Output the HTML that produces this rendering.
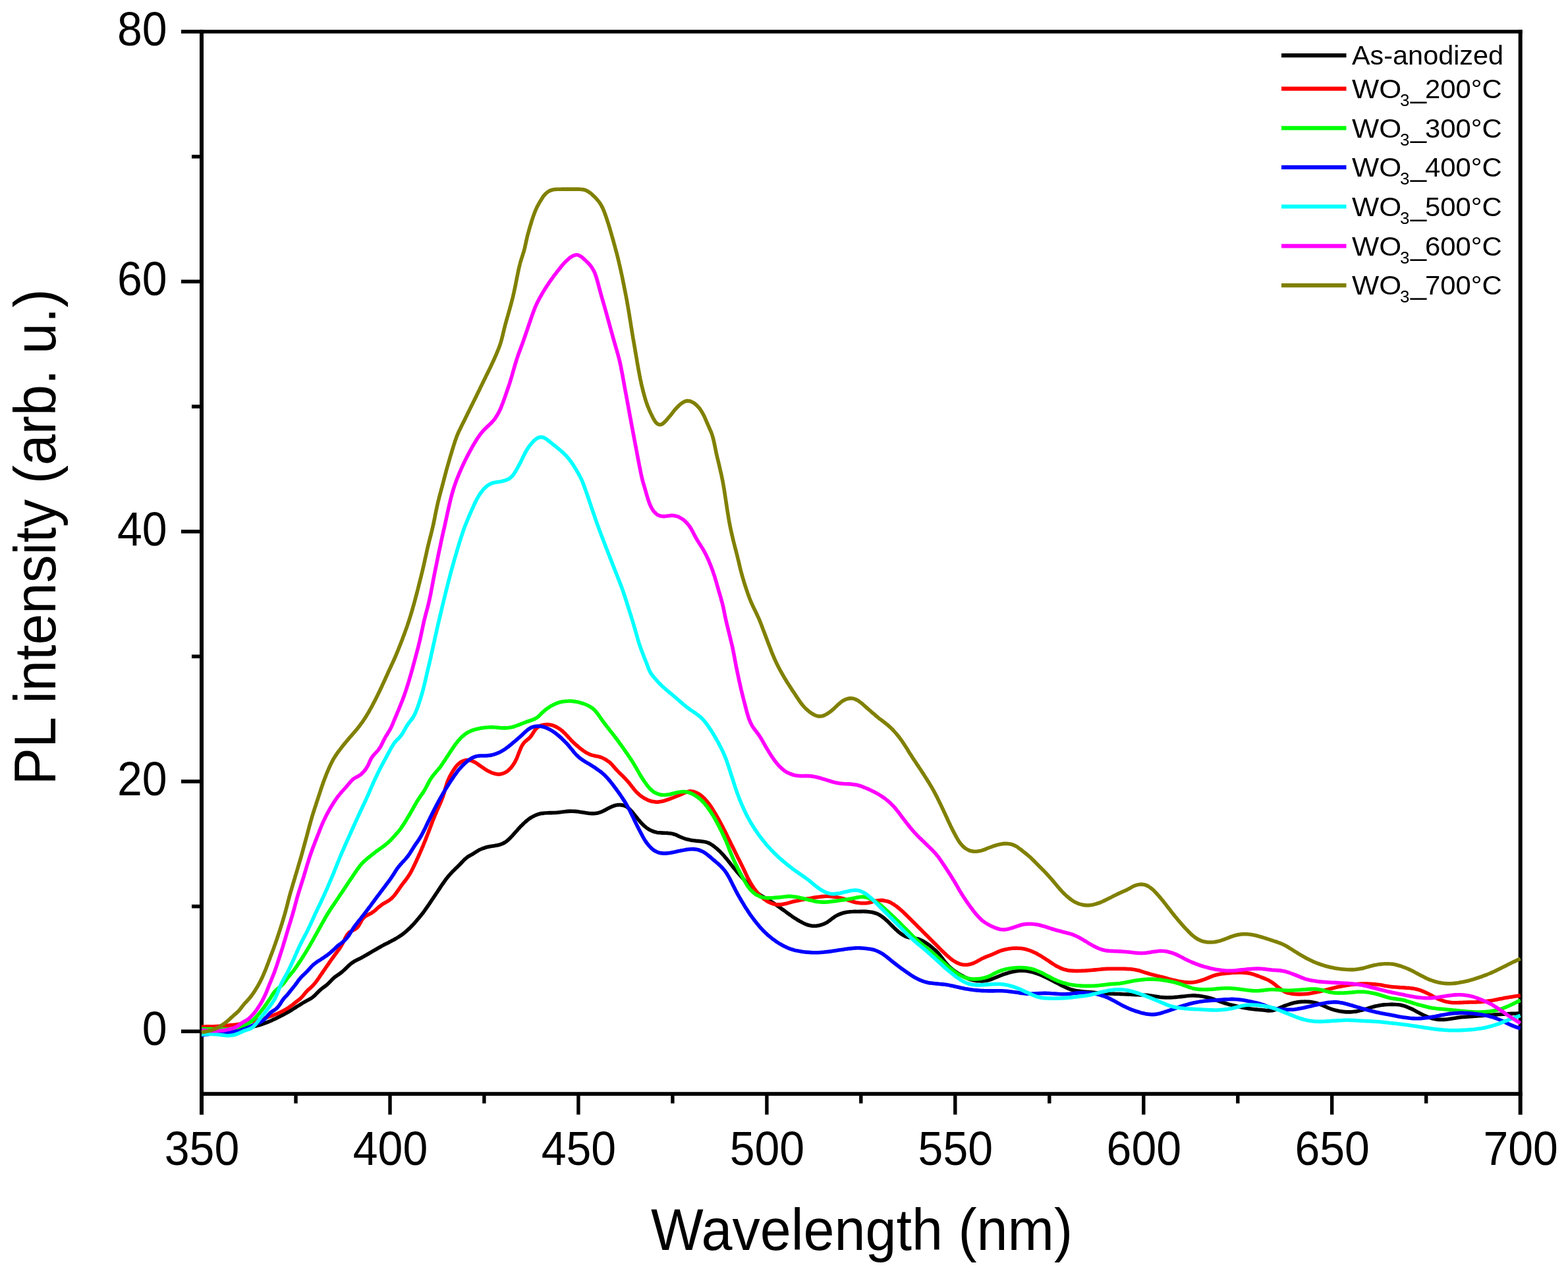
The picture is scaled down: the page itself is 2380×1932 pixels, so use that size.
<!DOCTYPE html>
<html><head><meta charset="utf-8"><style>html,body{margin:0;padding:0;background:#fff;width:2380px;height:1932px;overflow:hidden}svg{display:block}</style></head><body>
<svg xmlns="http://www.w3.org/2000/svg" width="2380" height="1932" viewBox="0 0 2380 1932">
<rect width="2380" height="1932" fill="#fff"/>
<g stroke="#000" fill="none">
<line x1="303.0" y1="48.019999999999754" x2="2310.7" y2="48.019999999999754" stroke-width="5.6"/>
<line x1="303.0" y1="1660.1299999999999" x2="2310.7" y2="1660.1299999999999" stroke-width="5.6"/>
<line x1="306.0" y1="45.21999999999976" x2="306.0" y2="1691.6299999999999" stroke-width="6"/>
<line x1="2307.7" y1="45.21999999999976" x2="2307.7" y2="1691.6299999999999" stroke-width="6"/>
<line x1="275" y1="1565.3" x2="306.0" y2="1565.3" stroke-width="5.6"/>
<line x1="291" y1="1375.6" x2="306.0" y2="1375.6" stroke-width="5.6"/>
<line x1="275" y1="1186.0" x2="306.0" y2="1186.0" stroke-width="5.6"/>
<line x1="291" y1="996.3" x2="306.0" y2="996.3" stroke-width="5.6"/>
<line x1="275" y1="806.7" x2="306.0" y2="806.7" stroke-width="5.6"/>
<line x1="291" y1="617.0" x2="306.0" y2="617.0" stroke-width="5.6"/>
<line x1="275" y1="427.3" x2="306.0" y2="427.3" stroke-width="5.6"/>
<line x1="291" y1="237.7" x2="306.0" y2="237.7" stroke-width="5.6"/>
<line x1="275" y1="48.0" x2="306.0" y2="48.0" stroke-width="5.6"/>
<line x1="449.0" y1="1660.1299999999999" x2="449.0" y2="1674.6" stroke-width="5.4"/>
<line x1="592.0" y1="1660.1299999999999" x2="592.0" y2="1691.6" stroke-width="5.4"/>
<line x1="734.9" y1="1660.1299999999999" x2="734.9" y2="1674.6" stroke-width="5.4"/>
<line x1="877.9" y1="1660.1299999999999" x2="877.9" y2="1691.6" stroke-width="5.4"/>
<line x1="1020.9" y1="1660.1299999999999" x2="1020.9" y2="1674.6" stroke-width="5.4"/>
<line x1="1163.9" y1="1660.1299999999999" x2="1163.9" y2="1691.6" stroke-width="5.4"/>
<line x1="1306.8" y1="1660.1299999999999" x2="1306.8" y2="1674.6" stroke-width="5.4"/>
<line x1="1449.8" y1="1660.1299999999999" x2="1449.8" y2="1691.6" stroke-width="5.4"/>
<line x1="1592.8" y1="1660.1299999999999" x2="1592.8" y2="1674.6" stroke-width="5.4"/>
<line x1="1735.8" y1="1660.1299999999999" x2="1735.8" y2="1691.6" stroke-width="5.4"/>
<line x1="1878.8" y1="1660.1299999999999" x2="1878.8" y2="1674.6" stroke-width="5.4"/>
<line x1="2021.7" y1="1660.1299999999999" x2="2021.7" y2="1691.6" stroke-width="5.4"/>
<line x1="2164.7" y1="1660.1299999999999" x2="2164.7" y2="1674.6" stroke-width="5.4"/>
</g>
<g fill="none" stroke-width="5.6" stroke-linejoin="round" stroke-linecap="butt">
<path d="M306.0,1565.5 C306.7,1565.5 308.7,1565.4 310.0,1565.4 C311.3,1565.3 312.7,1565.3 314.0,1565.2 C315.3,1565.2 316.7,1565.1 318.0,1565.1 C319.3,1565.0 320.7,1565.0 322.0,1564.9 C323.3,1564.8 324.7,1564.8 326.0,1564.7 C327.3,1564.6 328.7,1564.5 330.0,1564.5 C331.3,1564.4 332.7,1564.3 334.0,1564.2 C335.3,1564.1 336.6,1563.9 338.0,1563.8 C339.3,1563.7 340.6,1563.6 342.0,1563.4 C343.3,1563.3 344.6,1563.2 345.9,1563.0 C347.3,1562.9 348.6,1562.7 349.9,1562.6 C351.2,1562.4 352.6,1562.3 353.9,1562.1 C355.2,1561.9 356.5,1561.8 357.9,1561.6 C359.2,1561.4 360.5,1561.2 361.8,1561.0 C363.1,1560.8 364.5,1560.6 365.8,1560.4 C367.1,1560.2 368.4,1560.0 369.8,1559.9 C371.1,1559.7 372.4,1559.6 373.7,1559.4 C375.0,1559.3 376.4,1559.2 377.7,1559.0 C379.0,1558.8 380.3,1558.7 381.7,1558.5 C383.0,1558.3 384.3,1558.0 385.6,1557.7 C386.9,1557.5 388.2,1557.2 389.5,1556.8 C390.8,1556.5 392.1,1556.2 393.3,1555.8 C394.6,1555.4 395.9,1555.0 397.2,1554.6 C398.4,1554.2 399.7,1553.7 400.9,1553.3 C402.2,1552.8 403.4,1552.3 404.7,1551.9 C405.9,1551.4 407.2,1550.9 408.4,1550.4 C409.6,1549.9 410.8,1549.3 412.1,1548.8 C413.3,1548.3 414.5,1547.7 415.7,1547.1 C416.9,1546.6 418.1,1546.0 419.3,1545.4 C420.5,1544.8 421.7,1544.2 422.9,1543.6 C424.1,1543.0 425.3,1542.4 426.5,1541.8 C427.6,1541.2 428.8,1540.5 430.0,1539.9 C431.2,1539.3 432.3,1538.7 433.5,1538.0 C434.7,1537.4 435.9,1536.8 437.0,1536.1 C438.2,1535.5 439.4,1534.8 440.5,1534.1 C441.7,1533.5 442.8,1532.7 443.9,1532.0 C445.0,1531.3 446.1,1530.6 447.3,1529.9 C448.4,1529.2 449.5,1528.4 450.7,1527.7 C451.8,1527.0 452.9,1526.3 454.1,1525.6 C455.2,1524.9 456.3,1524.2 457.5,1523.5 C458.6,1522.8 459.7,1522.1 460.9,1521.4 C462.0,1520.8 463.2,1520.1 464.4,1519.5 C465.5,1518.8 466.7,1518.2 467.9,1517.6 C469.0,1517.0 470.2,1516.3 471.3,1515.6 C472.4,1514.9 473.5,1514.2 474.6,1513.4 C475.6,1512.6 476.6,1511.7 477.6,1510.8 C478.6,1509.9 479.5,1508.9 480.4,1508.0 C481.4,1507.1 482.3,1506.1 483.3,1505.2 C484.2,1504.2 485.1,1503.3 486.1,1502.4 C487.1,1501.5 488.1,1500.6 489.2,1499.8 C490.2,1499.0 491.3,1498.3 492.4,1497.5 C493.4,1496.7 494.5,1496.0 495.5,1495.2 C496.6,1494.4 497.6,1493.5 498.5,1492.6 C499.4,1491.7 500.3,1490.7 501.2,1489.7 C502.1,1488.8 503.0,1487.8 503.9,1486.8 C504.8,1485.9 505.8,1485.0 506.8,1484.1 C507.8,1483.2 508.8,1482.4 509.9,1481.7 C511.0,1480.9 512.1,1480.1 513.2,1479.4 C514.3,1478.6 515.4,1477.8 516.4,1477.1 C517.5,1476.3 518.6,1475.5 519.6,1474.6 C520.6,1473.8 521.6,1472.9 522.6,1472.0 C523.6,1471.1 524.5,1470.1 525.5,1469.2 C526.4,1468.3 527.4,1467.3 528.3,1466.4 C529.3,1465.5 530.3,1464.6 531.3,1463.7 C532.3,1462.9 533.3,1462.0 534.4,1461.3 C535.5,1460.5 536.6,1459.8 537.7,1459.1 C538.9,1458.5 540.1,1457.9 541.2,1457.3 C542.4,1456.7 543.6,1456.1 544.8,1455.5 C546.0,1454.9 547.2,1454.3 548.4,1453.7 C549.6,1453.0 550.7,1452.4 551.9,1451.7 C553.1,1451.1 554.2,1450.4 555.4,1449.8 C556.5,1449.1 557.7,1448.4 558.8,1447.8 C560.0,1447.1 561.1,1446.4 562.3,1445.7 C563.4,1445.1 564.6,1444.4 565.7,1443.7 C566.9,1443.0 568.0,1442.3 569.2,1441.7 C570.3,1441.0 571.5,1440.3 572.6,1439.7 C573.8,1439.0 575.0,1438.3 576.1,1437.7 C577.3,1437.0 578.4,1436.4 579.6,1435.7 C580.8,1435.1 582.0,1434.4 583.1,1433.8 C584.3,1433.2 585.5,1432.6 586.7,1432.0 C587.9,1431.4 589.1,1430.8 590.3,1430.2 C591.4,1429.6 592.6,1429.0 593.8,1428.3 C595.0,1427.7 596.2,1427.1 597.4,1426.5 C598.5,1425.8 599.7,1425.2 600.9,1424.5 C602.0,1423.8 603.1,1423.1 604.3,1422.4 C605.4,1421.7 606.5,1421.0 607.6,1420.2 C608.7,1419.5 609.8,1418.7 610.9,1417.9 C611.9,1417.1 613.0,1416.3 614.0,1415.5 C615.1,1414.6 616.1,1413.8 617.1,1412.9 C618.1,1412.0 619.1,1411.1 620.1,1410.2 C621.1,1409.3 622.0,1408.4 623.0,1407.5 C623.9,1406.5 624.8,1405.6 625.7,1404.6 C626.7,1403.6 627.6,1402.6 628.5,1401.7 C629.4,1400.7 630.2,1399.7 631.1,1398.7 C632.0,1397.7 632.9,1396.6 633.7,1395.6 C634.6,1394.6 635.4,1393.6 636.3,1392.5 C637.1,1391.5 637.9,1390.5 638.8,1389.4 C639.6,1388.4 640.4,1387.3 641.3,1386.3 C642.1,1385.2 642.9,1384.2 643.7,1383.1 C644.5,1382.0 645.3,1380.9 646.0,1379.9 C646.8,1378.8 647.6,1377.7 648.3,1376.6 C649.1,1375.5 649.9,1374.4 650.6,1373.3 C651.4,1372.2 652.1,1371.1 652.8,1370.0 C653.6,1368.8 654.3,1367.7 655.1,1366.6 C655.8,1365.5 656.5,1364.4 657.3,1363.3 C658.0,1362.2 658.8,1361.1 659.5,1360.0 C660.3,1358.9 661.0,1357.8 661.7,1356.7 C662.5,1355.5 663.2,1354.4 664.0,1353.3 C664.7,1352.2 665.4,1351.1 666.2,1350.0 C666.9,1348.9 667.6,1347.8 668.4,1346.6 C669.1,1345.5 669.9,1344.4 670.6,1343.3 C671.4,1342.2 672.1,1341.1 672.9,1340.0 C673.7,1338.9 674.4,1337.8 675.2,1336.8 C676.0,1335.7 676.8,1334.6 677.6,1333.6 C678.4,1332.5 679.3,1331.5 680.1,1330.4 C681.0,1329.4 681.8,1328.4 682.7,1327.4 C683.6,1326.4 684.5,1325.4 685.4,1324.5 C686.3,1323.5 687.3,1322.5 688.2,1321.6 C689.1,1320.6 690.1,1319.7 691.0,1318.8 C692.0,1317.8 693.0,1316.9 693.9,1316.0 C694.9,1315.0 695.8,1314.1 696.8,1313.2 C697.7,1312.2 698.6,1311.3 699.5,1310.3 C700.5,1309.3 701.4,1308.3 702.3,1307.4 C703.2,1306.4 704.1,1305.4 705.0,1304.5 C706.0,1303.6 706.9,1302.7 708.0,1301.9 C709.0,1301.1 710.1,1300.4 711.2,1299.7 C712.3,1299.0 713.5,1298.4 714.6,1297.8 C715.8,1297.1 716.9,1296.5 718.0,1295.8 C719.2,1295.1 720.3,1294.4 721.4,1293.7 C722.5,1293.0 723.6,1292.2 724.8,1291.6 C725.9,1290.9 727.1,1290.2 728.3,1289.6 C729.5,1289.0 730.7,1288.5 731.9,1288.0 C733.1,1287.5 734.4,1287.1 735.7,1286.7 C736.9,1286.3 738.2,1285.9 739.5,1285.6 C740.8,1285.3 742.1,1285.0 743.4,1284.7 C744.7,1284.5 746.0,1284.3 747.3,1284.1 C748.7,1283.8 750.0,1283.7 751.3,1283.5 C752.6,1283.2 753.9,1283.0 755.2,1282.7 C756.5,1282.4 757.8,1282.1 759.1,1281.7 C760.3,1281.3 761.6,1280.9 762.8,1280.3 C764.0,1279.8 765.1,1279.2 766.3,1278.5 C767.4,1277.8 768.5,1277.0 769.5,1276.2 C770.5,1275.4 771.5,1274.5 772.5,1273.6 C773.4,1272.7 774.4,1271.7 775.3,1270.8 C776.2,1269.8 777.1,1268.8 778.0,1267.9 C778.9,1266.9 779.8,1265.9 780.7,1264.9 C781.6,1263.9 782.5,1262.9 783.4,1261.9 C784.3,1260.9 785.2,1259.9 786.0,1258.9 C786.9,1257.9 787.8,1256.9 788.7,1256.0 C789.6,1255.0 790.6,1254.0 791.5,1253.1 C792.4,1252.1 793.4,1251.2 794.3,1250.3 C795.3,1249.3 796.3,1248.4 797.3,1247.5 C798.3,1246.7 799.3,1245.8 800.3,1245.0 C801.3,1244.1 802.4,1243.3 803.5,1242.5 C804.6,1241.8 805.7,1241.0 806.8,1240.3 C807.9,1239.6 809.1,1239.0 810.3,1238.4 C811.5,1237.8 812.7,1237.3 813.9,1236.8 C815.2,1236.4 816.4,1235.9 817.7,1235.6 C819.0,1235.2 820.3,1234.9 821.6,1234.6 C822.9,1234.4 824.2,1234.2 825.5,1234.1 C826.8,1233.9 828.2,1233.8 829.5,1233.8 C830.8,1233.7 832.2,1233.7 833.5,1233.6 C834.8,1233.6 836.2,1233.6 837.5,1233.6 C838.8,1233.6 840.2,1233.5 841.5,1233.5 C842.8,1233.4 844.1,1233.3 845.5,1233.2 C846.8,1233.1 848.1,1233.0 849.5,1232.8 C850.8,1232.6 852.1,1232.5 853.4,1232.3 C854.7,1232.1 856.1,1231.9 857.4,1231.8 C858.7,1231.6 860.0,1231.5 861.4,1231.4 C862.7,1231.3 864.0,1231.2 865.4,1231.1 C866.7,1231.1 868.0,1231.1 869.3,1231.2 C870.7,1231.2 872.0,1231.3 873.3,1231.4 C874.7,1231.5 876.0,1231.7 877.3,1231.8 C878.6,1232.0 879.9,1232.2 881.3,1232.4 C882.6,1232.6 883.9,1232.8 885.2,1233.0 C886.5,1233.2 887.8,1233.5 889.2,1233.7 C890.5,1233.9 891.8,1234.1 893.1,1234.2 C894.4,1234.4 895.8,1234.5 897.1,1234.6 C898.4,1234.7 899.7,1234.7 901.1,1234.6 C902.4,1234.5 903.7,1234.4 905.0,1234.2 C906.3,1234.0 907.6,1233.7 908.9,1233.4 C910.2,1233.0 911.4,1232.6 912.7,1232.2 C913.9,1231.7 915.1,1231.2 916.3,1230.6 C917.5,1230.0 918.7,1229.4 919.8,1228.7 C921.0,1228.1 922.1,1227.4 923.3,1226.8 C924.5,1226.2 925.7,1225.6 926.9,1225.0 C928.1,1224.4 929.3,1223.9 930.5,1223.5 C931.8,1223.0 933.1,1222.6 934.3,1222.3 C935.6,1222.0 936.9,1221.8 938.2,1221.6 C939.5,1221.5 940.8,1221.5 942.1,1221.6 C943.4,1221.7 944.7,1221.9 945.9,1222.2 C947.2,1222.6 948.4,1223.0 949.5,1223.6 C950.7,1224.2 951.8,1224.9 952.9,1225.7 C953.9,1226.5 954.9,1227.3 955.8,1228.3 C956.8,1229.2 957.7,1230.2 958.5,1231.2 C959.4,1232.2 960.3,1233.2 961.1,1234.2 C962.0,1235.3 962.8,1236.3 963.6,1237.3 C964.5,1238.4 965.3,1239.4 966.2,1240.4 C967.0,1241.5 967.9,1242.5 968.7,1243.5 C969.6,1244.5 970.4,1245.6 971.3,1246.6 C972.2,1247.6 973.0,1248.6 973.9,1249.6 C974.9,1250.5 975.8,1251.5 976.8,1252.4 C977.7,1253.3 978.7,1254.2 979.8,1255.0 C980.8,1255.9 981.8,1256.7 982.9,1257.4 C984.0,1258.1 985.2,1258.9 986.3,1259.5 C987.5,1260.1 988.7,1260.7 989.9,1261.2 C991.1,1261.7 992.3,1262.2 993.6,1262.5 C994.9,1262.9 996.2,1263.1 997.5,1263.4 C998.8,1263.6 1000.1,1263.7 1001.4,1263.8 C1002.8,1263.9 1004.1,1264.0 1005.4,1264.1 C1006.7,1264.2 1008.1,1264.2 1009.4,1264.2 C1010.7,1264.3 1012.1,1264.3 1013.4,1264.4 C1014.7,1264.5 1016.1,1264.6 1017.4,1264.8 C1018.7,1265.0 1020.0,1265.2 1021.2,1265.5 C1022.5,1265.9 1023.8,1266.3 1025.0,1266.7 C1026.3,1267.2 1027.5,1267.7 1028.7,1268.3 C1029.9,1268.8 1031.1,1269.4 1032.3,1270.0 C1033.5,1270.5 1034.7,1271.0 1036.0,1271.5 C1037.2,1272.0 1038.5,1272.5 1039.7,1272.9 C1041.0,1273.3 1042.3,1273.6 1043.6,1273.9 C1044.9,1274.3 1046.2,1274.5 1047.5,1274.8 C1048.8,1275.0 1050.1,1275.3 1051.4,1275.5 C1052.7,1275.7 1054.0,1275.9 1055.4,1276.0 C1056.7,1276.2 1058.0,1276.3 1059.3,1276.4 C1060.7,1276.5 1062.0,1276.6 1063.3,1276.7 C1064.7,1276.9 1066.0,1277.0 1067.3,1277.2 C1068.6,1277.4 1069.9,1277.6 1071.2,1277.9 C1072.4,1278.3 1073.7,1278.7 1074.9,1279.2 C1076.1,1279.7 1077.3,1280.3 1078.4,1280.9 C1079.6,1281.6 1080.7,1282.3 1081.8,1283.1 C1082.9,1283.8 1084.0,1284.6 1085.0,1285.4 C1086.1,1286.2 1087.1,1287.1 1088.1,1288.0 C1089.1,1288.8 1090.1,1289.7 1091.1,1290.7 C1092.0,1291.6 1093.0,1292.5 1093.9,1293.5 C1094.8,1294.4 1095.7,1295.4 1096.6,1296.4 C1097.6,1297.3 1098.4,1298.3 1099.3,1299.3 C1100.2,1300.3 1101.1,1301.4 1101.9,1302.4 C1102.8,1303.4 1103.6,1304.4 1104.5,1305.5 C1105.3,1306.5 1106.1,1307.6 1106.9,1308.6 C1107.8,1309.7 1108.6,1310.7 1109.4,1311.8 C1110.2,1312.8 1111.1,1313.9 1111.9,1314.9 C1112.7,1315.9 1113.6,1317.0 1114.4,1318.0 C1115.3,1319.0 1116.1,1320.1 1117.0,1321.1 C1117.9,1322.1 1118.7,1323.1 1119.6,1324.1 C1120.5,1325.1 1121.4,1326.1 1122.2,1327.1 C1123.1,1328.1 1124.0,1329.1 1124.9,1330.1 C1125.8,1331.1 1126.7,1332.1 1127.6,1333.1 C1128.5,1334.1 1129.4,1335.0 1130.3,1336.0 C1131.2,1337.0 1132.1,1338.0 1133.0,1338.9 C1134.0,1339.9 1134.9,1340.9 1135.8,1341.9 C1136.7,1342.8 1137.6,1343.8 1138.5,1344.8 C1139.5,1345.7 1140.4,1346.7 1141.3,1347.6 C1142.3,1348.6 1143.2,1349.5 1144.2,1350.4 C1145.2,1351.3 1146.2,1352.2 1147.2,1353.1 C1148.2,1354.0 1149.2,1354.8 1150.3,1355.6 C1151.3,1356.4 1152.4,1357.2 1153.5,1358.0 C1154.6,1358.7 1155.7,1359.4 1156.8,1360.1 C1158.0,1360.8 1159.1,1361.5 1160.3,1362.2 C1161.4,1362.8 1162.6,1363.5 1163.8,1364.2 C1164.9,1364.8 1166.1,1365.5 1167.2,1366.2 C1168.4,1366.8 1169.5,1367.5 1170.6,1368.3 C1171.8,1369.0 1172.9,1369.7 1174.0,1370.4 C1175.1,1371.2 1176.2,1371.9 1177.3,1372.7 C1178.4,1373.5 1179.5,1374.2 1180.6,1375.0 C1181.6,1375.8 1182.7,1376.6 1183.8,1377.4 C1184.9,1378.1 1186.0,1378.9 1187.1,1379.7 C1188.1,1380.5 1189.2,1381.2 1190.3,1382.0 C1191.4,1382.8 1192.5,1383.6 1193.5,1384.4 C1194.6,1385.2 1195.7,1386.0 1196.8,1386.7 C1197.9,1387.5 1198.9,1388.3 1200.0,1389.1 C1201.1,1389.9 1202.2,1390.6 1203.3,1391.4 C1204.4,1392.2 1205.5,1392.9 1206.6,1393.6 C1207.7,1394.4 1208.9,1395.1 1210.0,1395.8 C1211.1,1396.5 1212.3,1397.1 1213.4,1397.8 C1214.6,1398.5 1215.8,1399.1 1216.9,1399.7 C1218.1,1400.4 1219.3,1401.0 1220.5,1401.5 C1221.7,1402.1 1222.9,1402.7 1224.2,1403.1 C1225.4,1403.6 1226.6,1404.0 1227.9,1404.3 C1229.2,1404.6 1230.5,1404.9 1231.8,1405.1 C1233.1,1405.2 1234.4,1405.3 1235.7,1405.3 C1237.1,1405.3 1238.4,1405.2 1239.7,1405.1 C1241.0,1404.9 1242.3,1404.7 1243.6,1404.4 C1244.9,1404.2 1246.2,1403.8 1247.5,1403.4 C1248.7,1403.0 1249.9,1402.5 1251.2,1402.0 C1252.4,1401.4 1253.5,1400.8 1254.7,1400.2 C1255.8,1399.5 1256.9,1398.7 1258.0,1398.0 C1259.1,1397.2 1260.1,1396.4 1261.2,1395.6 C1262.2,1394.8 1263.3,1393.9 1264.4,1393.2 C1265.4,1392.4 1266.5,1391.6 1267.6,1390.9 C1268.7,1390.2 1269.9,1389.5 1271.1,1388.9 C1272.2,1388.3 1273.5,1387.8 1274.7,1387.3 C1275.9,1386.8 1277.2,1386.4 1278.5,1386.0 C1279.7,1385.6 1281.0,1385.3 1282.3,1385.0 C1283.6,1384.7 1284.9,1384.4 1286.2,1384.2 C1287.5,1384.0 1288.9,1383.8 1290.2,1383.7 C1291.5,1383.6 1292.8,1383.5 1294.2,1383.5 C1295.5,1383.4 1296.8,1383.5 1298.1,1383.4 C1299.5,1383.4 1300.8,1383.5 1302.1,1383.5 C1303.5,1383.4 1304.8,1383.4 1306.1,1383.4 C1307.5,1383.4 1308.8,1383.3 1310.1,1383.3 C1311.5,1383.3 1312.8,1383.4 1314.1,1383.4 C1315.5,1383.5 1316.8,1383.6 1318.1,1383.7 C1319.4,1383.8 1320.8,1384.0 1322.1,1384.2 C1323.4,1384.4 1324.7,1384.7 1326.0,1385.0 C1327.2,1385.4 1328.5,1385.7 1329.8,1386.2 C1331.0,1386.7 1332.2,1387.2 1333.4,1387.8 C1334.6,1388.4 1335.7,1389.0 1336.8,1389.7 C1337.9,1390.5 1339.0,1391.2 1340.1,1392.0 C1341.1,1392.8 1342.2,1393.7 1343.2,1394.6 C1344.2,1395.4 1345.2,1396.3 1346.1,1397.2 C1347.1,1398.1 1348.1,1399.1 1349.0,1400.0 C1350.0,1401.0 1350.9,1401.9 1351.8,1402.9 C1352.8,1403.8 1353.7,1404.8 1354.7,1405.7 C1355.6,1406.6 1356.6,1407.6 1357.5,1408.5 C1358.5,1409.4 1359.4,1410.3 1360.4,1411.2 C1361.4,1412.1 1362.4,1413.0 1363.4,1413.9 C1364.4,1414.7 1365.5,1415.6 1366.6,1416.4 C1367.6,1417.1 1368.7,1417.9 1369.8,1418.6 C1371.0,1419.3 1372.1,1420.0 1373.3,1420.6 C1374.5,1421.1 1375.7,1421.6 1376.9,1422.0 C1378.2,1422.4 1379.4,1422.7 1380.7,1423.0 C1382.0,1423.2 1383.3,1423.3 1384.6,1423.5 C1386.0,1423.6 1387.3,1423.7 1388.6,1424.0 C1389.9,1424.2 1391.2,1424.4 1392.4,1424.8 C1393.7,1425.1 1395.0,1425.6 1396.2,1426.1 C1397.4,1426.6 1398.6,1427.1 1399.8,1427.7 C1401.0,1428.3 1402.1,1429.0 1403.3,1429.7 C1404.4,1430.3 1405.5,1431.1 1406.6,1431.8 C1407.7,1432.6 1408.8,1433.4 1409.9,1434.1 C1411.0,1434.9 1412.0,1435.8 1413.0,1436.6 C1414.1,1437.4 1415.1,1438.3 1416.1,1439.1 C1417.2,1440.0 1418.2,1440.9 1419.2,1441.8 C1420.1,1442.7 1421.1,1443.6 1422.0,1444.5 C1423.0,1445.5 1423.9,1446.4 1424.8,1447.4 C1425.6,1448.4 1426.5,1449.5 1427.3,1450.5 C1428.1,1451.6 1428.9,1452.6 1429.7,1453.7 C1430.5,1454.8 1431.3,1455.9 1432.1,1456.9 C1432.9,1458.0 1433.7,1459.1 1434.5,1460.1 C1435.4,1461.1 1436.2,1462.1 1437.1,1463.1 C1438.0,1464.1 1438.9,1465.1 1439.9,1466.0 C1440.8,1467.0 1441.8,1467.9 1442.8,1468.8 C1443.8,1469.7 1444.8,1470.6 1445.8,1471.4 C1446.8,1472.2 1447.9,1473.0 1449.0,1473.8 C1450.0,1474.6 1451.1,1475.3 1452.3,1476.1 C1453.4,1476.8 1454.5,1477.5 1455.7,1478.2 C1456.8,1478.8 1458.0,1479.5 1459.1,1480.1 C1460.3,1480.8 1461.5,1481.4 1462.7,1482.0 C1463.8,1482.7 1465.0,1483.3 1466.2,1483.8 C1467.4,1484.4 1468.7,1484.9 1469.9,1485.4 C1471.1,1485.9 1472.4,1486.4 1473.7,1486.7 C1474.9,1487.1 1476.2,1487.5 1477.5,1487.8 C1478.8,1488.1 1480.1,1488.3 1481.4,1488.5 C1482.7,1488.6 1484.1,1488.8 1485.4,1488.8 C1486.7,1488.9 1488.0,1488.9 1489.4,1488.9 C1490.7,1488.9 1492.0,1488.8 1493.4,1488.7 C1494.7,1488.6 1496.0,1488.5 1497.3,1488.3 C1498.6,1488.0 1499.9,1487.7 1501.2,1487.4 C1502.5,1487.1 1503.7,1486.6 1505.0,1486.2 C1506.2,1485.7 1507.4,1485.2 1508.7,1484.7 C1509.9,1484.2 1511.1,1483.7 1512.4,1483.2 C1513.6,1482.7 1514.8,1482.1 1516.1,1481.6 C1517.3,1481.1 1518.5,1480.6 1519.8,1480.1 C1521.0,1479.7 1522.3,1479.2 1523.5,1478.7 C1524.8,1478.3 1526.0,1477.9 1527.3,1477.5 C1528.6,1477.1 1529.9,1476.7 1531.1,1476.3 C1532.4,1476.0 1533.7,1475.6 1535.0,1475.3 C1536.3,1475.0 1537.6,1474.7 1538.9,1474.4 C1540.2,1474.2 1541.5,1474.0 1542.8,1473.8 C1544.2,1473.6 1545.5,1473.4 1546.8,1473.3 C1548.1,1473.2 1549.5,1473.2 1550.8,1473.2 C1552.1,1473.2 1553.5,1473.2 1554.8,1473.3 C1556.1,1473.4 1557.4,1473.5 1558.7,1473.7 C1560.1,1473.9 1561.4,1474.1 1562.7,1474.4 C1564.0,1474.6 1565.3,1474.9 1566.6,1475.3 C1567.9,1475.6 1569.2,1475.9 1570.4,1476.3 C1571.7,1476.7 1573.0,1477.1 1574.2,1477.6 C1575.5,1478.0 1576.7,1478.5 1578.0,1479.0 C1579.2,1479.5 1580.4,1480.0 1581.7,1480.5 C1582.9,1481.1 1584.1,1481.6 1585.3,1482.2 C1586.5,1482.8 1587.7,1483.3 1588.9,1483.9 C1590.1,1484.5 1591.3,1485.1 1592.5,1485.7 C1593.7,1486.3 1594.9,1486.9 1596.0,1487.5 C1597.2,1488.2 1598.4,1488.8 1599.6,1489.4 C1600.8,1490.0 1602.0,1490.7 1603.1,1491.3 C1604.3,1491.9 1605.5,1492.5 1606.7,1493.1 C1607.9,1493.8 1609.0,1494.4 1610.2,1495.0 C1611.4,1495.6 1612.6,1496.2 1613.8,1496.8 C1615.0,1497.4 1616.2,1498.0 1617.4,1498.5 C1618.6,1499.1 1619.8,1499.6 1621.1,1500.1 C1622.3,1500.6 1623.6,1501.1 1624.8,1501.5 C1626.1,1501.9 1627.4,1502.2 1628.6,1502.6 C1629.9,1502.9 1631.2,1503.2 1632.5,1503.4 C1633.9,1503.7 1635.2,1503.9 1636.5,1504.1 C1637.8,1504.3 1639.1,1504.5 1640.5,1504.6 C1641.8,1504.8 1643.1,1504.9 1644.4,1505.0 C1645.8,1505.2 1647.1,1505.3 1648.4,1505.4 C1649.8,1505.5 1651.1,1505.5 1652.4,1505.6 C1653.7,1505.7 1655.1,1505.8 1656.4,1505.9 C1657.7,1506.0 1659.1,1506.2 1660.4,1506.3 C1661.7,1506.4 1663.0,1506.6 1664.4,1506.7 C1665.7,1506.8 1667.0,1507.0 1668.4,1507.1 C1669.7,1507.2 1671.0,1507.3 1672.3,1507.4 C1673.7,1507.6 1675.0,1507.7 1676.3,1507.7 C1677.7,1507.8 1679.0,1507.9 1680.3,1508.0 C1681.7,1508.0 1683.0,1508.1 1684.3,1508.1 C1685.7,1508.2 1687.0,1508.2 1688.3,1508.3 C1689.7,1508.3 1691.0,1508.3 1692.3,1508.4 C1693.7,1508.4 1695.0,1508.5 1696.3,1508.5 C1697.7,1508.5 1699.0,1508.6 1700.3,1508.6 C1701.7,1508.7 1703.0,1508.7 1704.3,1508.8 C1705.7,1508.8 1707.0,1508.9 1708.3,1509.0 C1709.7,1509.0 1711.0,1509.1 1712.3,1509.1 C1713.7,1509.2 1715.0,1509.3 1716.3,1509.3 C1717.7,1509.4 1719.0,1509.4 1720.3,1509.5 C1721.7,1509.6 1723.0,1509.6 1724.3,1509.7 C1725.7,1509.7 1727.0,1509.8 1728.3,1509.8 C1729.7,1509.9 1731.0,1509.9 1732.3,1510.0 C1733.7,1510.0 1735.0,1510.1 1736.3,1510.2 C1737.7,1510.2 1739.0,1510.3 1740.3,1510.4 C1741.7,1510.5 1743.0,1510.6 1744.3,1510.8 C1745.6,1510.9 1747.0,1511.1 1748.3,1511.3 C1749.6,1511.4 1750.9,1511.7 1752.2,1511.9 C1753.6,1512.1 1754.9,1512.3 1756.2,1512.5 C1757.5,1512.7 1758.8,1513.0 1760.1,1513.2 C1761.5,1513.3 1762.8,1513.5 1764.1,1513.6 C1765.4,1513.8 1766.8,1513.9 1768.1,1513.9 C1769.4,1514.0 1770.7,1514.0 1772.1,1514.0 C1773.4,1514.0 1774.7,1514.0 1776.1,1513.9 C1777.4,1513.9 1778.7,1513.8 1780.1,1513.7 C1781.4,1513.6 1782.7,1513.5 1784.1,1513.4 C1785.4,1513.3 1786.7,1513.1 1788.0,1513.0 C1789.4,1512.9 1790.7,1512.8 1792.0,1512.6 C1793.4,1512.5 1794.7,1512.3 1796.0,1512.2 C1797.3,1512.0 1798.7,1511.8 1800.0,1511.7 C1801.3,1511.5 1802.6,1511.4 1804.0,1511.3 C1805.3,1511.1 1806.6,1511.0 1807.9,1511.0 C1809.3,1510.9 1810.6,1510.9 1811.9,1510.9 C1813.3,1510.9 1814.6,1511.0 1815.9,1511.1 C1817.2,1511.1 1818.6,1511.3 1819.9,1511.4 C1821.2,1511.6 1822.5,1511.8 1823.9,1512.0 C1825.2,1512.2 1826.5,1512.4 1827.8,1512.7 C1829.1,1512.9 1830.4,1513.2 1831.7,1513.5 C1833.0,1513.8 1834.3,1514.2 1835.6,1514.5 C1836.9,1514.9 1838.1,1515.2 1839.4,1515.6 C1840.7,1516.0 1841.9,1516.5 1843.2,1516.9 C1844.5,1517.3 1845.7,1517.8 1847.0,1518.3 C1848.2,1518.7 1849.5,1519.2 1850.7,1519.6 C1852.0,1520.1 1853.2,1520.5 1854.5,1520.9 C1855.8,1521.4 1857.0,1521.8 1858.3,1522.2 C1859.6,1522.6 1860.9,1523.0 1862.2,1523.3 C1863.4,1523.7 1864.7,1524.1 1866.0,1524.4 C1867.3,1524.7 1868.6,1525.1 1869.9,1525.4 C1871.2,1525.7 1872.5,1526.0 1873.8,1526.3 C1875.1,1526.6 1876.4,1526.9 1877.7,1527.2 C1879.0,1527.5 1880.3,1527.8 1881.6,1528.1 C1882.9,1528.4 1884.2,1528.6 1885.5,1528.9 C1886.8,1529.2 1888.1,1529.4 1889.4,1529.7 C1890.7,1529.9 1892.1,1530.1 1893.4,1530.3 C1894.7,1530.6 1896.0,1530.8 1897.3,1530.9 C1898.7,1531.1 1900.0,1531.3 1901.3,1531.5 C1902.6,1531.6 1904.0,1531.7 1905.3,1531.9 C1906.6,1532.0 1907.9,1532.1 1909.3,1532.3 C1910.6,1532.4 1911.9,1532.5 1913.3,1532.6 C1914.6,1532.8 1915.9,1532.9 1917.2,1533.0 C1918.6,1533.2 1919.9,1533.4 1921.2,1533.5 C1922.5,1533.7 1923.8,1533.8 1925.1,1533.9 C1926.5,1533.9 1927.8,1534.0 1929.1,1533.8 C1930.4,1533.7 1931.7,1533.5 1932.9,1533.2 C1934.2,1532.9 1935.5,1532.5 1936.7,1532.0 C1937.9,1531.6 1939.2,1531.0 1940.4,1530.5 C1941.6,1530.0 1942.8,1529.5 1944.1,1528.9 C1945.3,1528.4 1946.5,1527.9 1947.8,1527.4 C1949.0,1526.9 1950.2,1526.4 1951.5,1526.0 C1952.7,1525.5 1954.0,1525.0 1955.3,1524.6 C1956.5,1524.2 1957.8,1523.8 1959.1,1523.4 C1960.3,1523.0 1961.6,1522.6 1962.9,1522.3 C1964.2,1522.0 1965.5,1521.7 1966.8,1521.4 C1968.1,1521.2 1969.4,1521.0 1970.7,1520.8 C1972.1,1520.6 1973.4,1520.5 1974.7,1520.4 C1976.0,1520.3 1977.4,1520.2 1978.7,1520.2 C1980.0,1520.1 1981.4,1520.1 1982.7,1520.2 C1984.0,1520.2 1985.4,1520.3 1986.7,1520.4 C1988.0,1520.5 1989.3,1520.6 1990.7,1520.8 C1992.0,1521.0 1993.3,1521.2 1994.6,1521.5 C1995.9,1521.7 1997.2,1522.0 1998.5,1522.4 C1999.7,1522.8 2001.0,1523.2 2002.3,1523.6 C2003.5,1524.1 2004.7,1524.6 2006.0,1525.1 C2007.2,1525.6 2008.4,1526.2 2009.6,1526.7 C2010.8,1527.3 2012.0,1527.8 2013.3,1528.4 C2014.5,1528.9 2015.7,1529.5 2016.9,1530.0 C2018.2,1530.5 2019.4,1530.9 2020.7,1531.4 C2021.9,1531.8 2023.2,1532.2 2024.5,1532.6 C2025.8,1532.9 2027.0,1533.3 2028.3,1533.6 C2029.6,1533.9 2030.9,1534.2 2032.3,1534.4 C2033.6,1534.7 2034.9,1534.9 2036.2,1535.1 C2037.5,1535.3 2038.8,1535.4 2040.2,1535.6 C2041.5,1535.7 2042.8,1535.8 2044.1,1535.9 C2045.5,1535.9 2046.8,1535.9 2048.1,1535.9 C2049.5,1535.9 2050.8,1535.8 2052.1,1535.8 C2053.4,1535.7 2054.8,1535.5 2056.1,1535.3 C2057.4,1535.2 2058.7,1535.0 2060.0,1534.7 C2061.3,1534.5 2062.7,1534.2 2063.9,1533.9 C2065.2,1533.6 2066.5,1533.2 2067.8,1532.9 C2069.1,1532.5 2070.4,1532.1 2071.6,1531.8 C2072.9,1531.4 2074.2,1531.0 2075.5,1530.6 C2076.7,1530.2 2078.0,1529.8 2079.3,1529.4 C2080.6,1529.0 2081.9,1528.7 2083.2,1528.3 C2084.4,1528.0 2085.7,1527.7 2087.0,1527.3 C2088.3,1527.0 2089.6,1526.7 2090.9,1526.5 C2092.2,1526.2 2093.5,1525.9 2094.9,1525.7 C2096.2,1525.5 2097.5,1525.3 2098.8,1525.1 C2100.1,1525.0 2101.5,1524.8 2102.8,1524.7 C2104.1,1524.6 2105.5,1524.5 2106.8,1524.5 C2108.1,1524.4 2109.4,1524.4 2110.8,1524.4 C2112.1,1524.3 2113.4,1524.3 2114.8,1524.4 C2116.1,1524.4 2117.4,1524.4 2118.8,1524.5 C2120.1,1524.5 2121.4,1524.6 2122.8,1524.8 C2124.1,1524.9 2125.4,1525.1 2126.7,1525.4 C2128.0,1525.7 2129.3,1526.0 2130.5,1526.4 C2131.8,1526.8 2133.1,1527.2 2134.3,1527.7 C2135.6,1528.1 2136.8,1528.6 2138.0,1529.2 C2139.2,1529.7 2140.5,1530.2 2141.7,1530.8 C2142.9,1531.4 2144.1,1531.9 2145.3,1532.5 C2146.5,1533.1 2147.6,1533.8 2148.8,1534.4 C2150.0,1535.0 2151.2,1535.6 2152.3,1536.3 C2153.5,1536.9 2154.7,1537.6 2155.9,1538.2 C2157.0,1538.8 2158.2,1539.4 2159.4,1540.0 C2160.6,1540.6 2161.8,1541.2 2163.0,1541.7 C2164.3,1542.2 2165.5,1542.8 2166.7,1543.2 C2168.0,1543.7 2169.2,1544.2 2170.5,1544.6 C2171.7,1545.0 2173.0,1545.4 2174.3,1545.8 C2175.6,1546.1 2176.9,1546.4 2178.2,1546.6 C2179.5,1546.9 2180.8,1547.1 2182.1,1547.2 C2183.4,1547.3 2184.8,1547.4 2186.1,1547.4 C2187.4,1547.5 2188.8,1547.4 2190.1,1547.4 C2191.4,1547.4 2192.8,1547.3 2194.1,1547.2 C2195.4,1547.1 2196.7,1546.9 2198.1,1546.8 C2199.4,1546.6 2200.7,1546.4 2202.0,1546.2 C2203.3,1546.0 2204.6,1545.8 2206.0,1545.5 C2207.3,1545.3 2208.6,1545.1 2209.9,1544.9 C2211.2,1544.7 2212.5,1544.5 2213.9,1544.3 C2215.2,1544.1 2216.5,1544.0 2217.8,1543.8 C2219.2,1543.7 2220.5,1543.6 2221.8,1543.5 C2223.1,1543.4 2224.5,1543.3 2225.8,1543.2 C2227.1,1543.1 2228.5,1543.0 2229.8,1542.9 C2231.1,1542.8 2232.5,1542.7 2233.8,1542.6 C2235.1,1542.5 2236.5,1542.4 2237.8,1542.3 C2239.1,1542.2 2240.5,1542.1 2241.8,1542.0 C2243.1,1541.9 2244.4,1541.8 2245.8,1541.7 C2247.1,1541.6 2248.4,1541.5 2249.8,1541.4 C2251.1,1541.3 2252.4,1541.2 2253.8,1541.1 C2255.1,1541.0 2256.4,1540.9 2257.8,1540.8 C2259.1,1540.7 2260.4,1540.6 2261.7,1540.5 C2263.1,1540.4 2264.4,1540.3 2265.7,1540.2 C2267.1,1540.1 2268.4,1540.0 2269.7,1539.9 C2271.1,1539.8 2272.4,1539.7 2273.7,1539.6 C2275.1,1539.5 2276.4,1539.4 2277.7,1539.4 C2279.0,1539.3 2280.4,1539.2 2281.7,1539.1 C2283.0,1539.0 2284.4,1538.9 2285.7,1538.9 C2287.0,1538.8 2288.4,1538.7 2289.7,1538.6 C2291.0,1538.6 2292.4,1538.5 2293.7,1538.4 C2295.0,1538.4 2296.4,1538.3 2297.7,1538.3 C2299.0,1538.2 2300.4,1538.1 2301.7,1538.1 C2303.0,1538.0 2304.7,1537.9 2305.7,1537.9 C2306.7,1537.8 2307.4,1537.8 2307.7,1537.8" stroke="#000000"/>
<path d="M306.0,1558.2 C306.7,1558.2 308.7,1558.2 310.0,1558.2 C311.3,1558.2 312.7,1558.1 314.0,1558.1 C315.3,1558.1 316.7,1558.1 318.0,1558.1 C319.3,1558.1 320.7,1558.0 322.0,1558.0 C323.3,1558.0 324.7,1557.9 326.0,1557.8 C327.3,1557.8 328.7,1557.7 330.0,1557.6 C331.3,1557.5 332.7,1557.4 334.0,1557.3 C335.3,1557.2 336.7,1557.1 338.0,1557.0 C339.3,1556.9 340.6,1556.8 342.0,1556.7 C343.3,1556.5 344.6,1556.4 346.0,1556.3 C347.3,1556.2 348.6,1556.0 349.9,1555.9 C351.3,1555.8 352.6,1555.6 353.9,1555.5 C355.2,1555.4 356.6,1555.2 357.9,1555.1 C359.2,1554.9 360.5,1554.8 361.9,1554.6 C363.2,1554.4 364.5,1554.2 365.8,1554.0 C367.1,1553.8 368.4,1553.5 369.7,1553.2 C371.0,1552.8 372.3,1552.5 373.6,1552.1 C374.8,1551.8 376.1,1551.4 377.4,1551.1 C378.7,1550.8 380.0,1550.6 381.3,1550.3 C382.6,1550.0 383.8,1549.8 385.1,1549.5 C386.4,1549.2 387.7,1548.9 389.0,1548.5 C390.2,1548.2 391.5,1547.8 392.8,1547.4 C394.0,1547.1 395.3,1546.7 396.6,1546.3 C397.9,1546.0 399.2,1545.7 400.5,1545.3 C401.7,1545.0 403.0,1544.6 404.3,1544.2 C405.6,1543.9 406.9,1543.5 408.1,1543.1 C409.4,1542.7 410.7,1542.3 411.9,1541.9 C413.2,1541.4 414.5,1541.0 415.7,1540.5 C417.0,1540.0 418.2,1539.5 419.4,1539.0 C420.7,1538.5 421.9,1538.0 423.1,1537.4 C424.3,1536.9 425.5,1536.3 426.7,1535.7 C427.9,1535.1 429.1,1534.5 430.3,1533.9 C431.4,1533.2 432.6,1532.6 433.7,1531.9 C434.9,1531.2 436.0,1530.5 437.1,1529.8 C438.2,1529.1 439.4,1528.3 440.4,1527.5 C441.5,1526.8 442.6,1526.0 443.7,1525.2 C444.7,1524.4 445.8,1523.5 446.8,1522.7 C447.8,1521.9 448.9,1521.0 449.9,1520.2 C451.0,1519.4 452.0,1518.6 453.1,1517.8 C454.1,1517.0 455.1,1516.2 456.1,1515.3 C457.1,1514.4 458.0,1513.5 458.9,1512.5 C459.7,1511.5 460.5,1510.5 461.4,1509.4 C462.2,1508.4 463.0,1507.4 463.9,1506.4 C464.7,1505.4 465.7,1504.4 466.6,1503.5 C467.5,1502.5 468.5,1501.7 469.5,1500.8 C470.5,1499.9 471.5,1499.0 472.5,1498.1 C473.4,1497.2 474.4,1496.2 475.3,1495.3 C476.2,1494.3 477.1,1493.3 477.9,1492.3 C478.8,1491.2 479.6,1490.2 480.4,1489.1 C481.2,1488.1 481.9,1487.0 482.7,1485.9 C483.5,1484.8 484.2,1483.7 485.0,1482.6 C485.7,1481.5 486.5,1480.4 487.2,1479.3 C488.0,1478.2 488.7,1477.1 489.5,1476.0 C490.2,1474.9 491.0,1473.8 491.7,1472.7 C492.5,1471.6 493.3,1470.5 494.0,1469.4 C494.8,1468.3 495.5,1467.2 496.3,1466.1 C497.1,1465.0 497.8,1463.9 498.6,1462.8 C499.3,1461.7 500.1,1460.6 500.9,1459.5 C501.6,1458.4 502.4,1457.3 503.2,1456.2 C503.9,1455.1 504.7,1454.1 505.5,1453.0 C506.3,1451.9 507.1,1450.8 507.9,1449.8 C508.7,1448.7 509.5,1447.6 510.3,1446.6 C511.1,1445.5 511.9,1444.4 512.6,1443.3 C513.4,1442.3 514.2,1441.2 515.0,1440.1 C515.7,1439.0 516.5,1437.9 517.2,1436.7 C517.9,1435.6 518.6,1434.5 519.2,1433.3 C519.9,1432.2 520.5,1431.0 521.1,1429.8 C521.7,1428.6 522.3,1427.4 522.9,1426.2 C523.5,1425.0 524.0,1423.8 524.6,1422.6 C525.3,1421.5 525.9,1420.3 526.6,1419.2 C527.3,1418.2 528.1,1417.1 529.0,1416.2 C529.9,1415.3 530.9,1414.6 532.0,1413.9 C533.0,1413.2 534.2,1412.7 535.4,1412.1 C536.5,1411.5 537.7,1411.1 538.8,1410.4 C539.9,1409.8 540.9,1409.0 541.8,1408.2 C542.7,1407.3 543.5,1406.3 544.2,1405.2 C544.9,1404.2 545.5,1403.0 546.2,1401.8 C546.8,1400.7 547.4,1399.5 548.1,1398.4 C548.7,1397.2 549.4,1396.1 550.2,1395.1 C551.0,1394.0 551.8,1393.1 552.8,1392.2 C553.7,1391.3 554.8,1390.6 555.9,1389.9 C557.0,1389.2 558.2,1388.6 559.4,1388.0 C560.5,1387.4 561.7,1386.8 562.9,1386.2 C564.0,1385.5 565.1,1384.9 566.2,1384.1 C567.3,1383.4 568.3,1382.5 569.4,1381.7 C570.4,1380.8 571.3,1379.9 572.3,1379.0 C573.3,1378.1 574.3,1377.2 575.3,1376.4 C576.3,1375.5 577.3,1374.7 578.4,1373.9 C579.5,1373.1 580.6,1372.4 581.7,1371.7 C582.9,1371.0 584.0,1370.3 585.2,1369.7 C586.3,1369.0 587.5,1368.3 588.6,1367.6 C589.7,1366.9 590.8,1366.2 591.9,1365.4 C592.9,1364.6 594.0,1363.8 594.9,1362.9 C595.9,1362.0 596.8,1361.0 597.7,1360.0 C598.5,1359.0 599.4,1358.0 600.2,1356.9 C601.0,1355.9 601.7,1354.8 602.5,1353.7 C603.3,1352.6 604.0,1351.5 604.8,1350.4 C605.6,1349.3 606.3,1348.2 607.1,1347.1 C607.8,1346.0 608.6,1344.9 609.4,1343.8 C610.2,1342.8 611.0,1341.7 611.8,1340.7 C612.6,1339.6 613.5,1338.6 614.3,1337.5 C615.1,1336.5 615.9,1335.4 616.7,1334.3 C617.5,1333.3 618.3,1332.2 619.0,1331.1 C619.8,1330.0 620.5,1328.9 621.2,1327.7 C621.9,1326.6 622.6,1325.4 623.2,1324.3 C623.9,1323.1 624.5,1321.9 625.1,1320.8 C625.7,1319.6 626.3,1318.4 626.9,1317.2 C627.5,1316.0 628.1,1314.8 628.7,1313.6 C629.2,1312.4 629.8,1311.2 630.4,1310.0 C630.9,1308.8 631.5,1307.6 632.1,1306.3 C632.6,1305.1 633.2,1303.9 633.7,1302.7 C634.3,1301.5 634.9,1300.3 635.4,1299.1 C635.9,1297.9 636.5,1296.6 637.0,1295.4 C637.6,1294.2 638.1,1293.0 638.6,1291.7 C639.2,1290.5 639.7,1289.3 640.2,1288.1 C640.7,1286.8 641.2,1285.6 641.8,1284.4 C642.3,1283.1 642.8,1281.9 643.3,1280.7 C643.8,1279.4 644.3,1278.2 644.8,1277.0 C645.3,1275.7 645.8,1274.5 646.3,1273.3 C646.8,1272.0 647.3,1270.8 647.8,1269.5 C648.3,1268.3 648.7,1267.1 649.2,1265.8 C649.7,1264.6 650.2,1263.3 650.7,1262.1 C651.1,1260.8 651.6,1259.6 652.1,1258.3 C652.6,1257.1 653.0,1255.8 653.5,1254.6 C654.0,1253.3 654.4,1252.1 654.9,1250.8 C655.4,1249.6 655.8,1248.3 656.3,1247.1 C656.8,1245.9 657.3,1244.6 657.8,1243.4 C658.3,1242.1 658.8,1240.9 659.3,1239.7 C659.8,1238.4 660.3,1237.2 660.8,1236.0 C661.4,1234.7 661.9,1233.5 662.4,1232.3 C663.0,1231.1 663.5,1229.9 664.0,1228.6 C664.6,1227.4 665.1,1226.2 665.7,1225.0 C666.2,1223.8 666.7,1222.5 667.3,1221.3 C667.8,1220.1 668.3,1218.9 668.9,1217.6 C669.4,1216.4 669.9,1215.2 670.4,1213.9 C670.9,1212.7 671.3,1211.5 671.8,1210.2 C672.3,1209.0 672.7,1207.7 673.1,1206.4 C673.5,1205.2 673.9,1203.9 674.3,1202.6 C674.7,1201.3 675.1,1200.1 675.4,1198.8 C675.8,1197.5 676.1,1196.2 676.5,1194.9 C676.9,1193.6 677.3,1192.4 677.7,1191.1 C678.1,1189.8 678.5,1188.6 678.9,1187.3 C679.4,1186.0 679.9,1184.8 680.4,1183.6 C680.9,1182.4 681.4,1181.1 682.0,1179.9 C682.6,1178.7 683.2,1177.6 683.8,1176.4 C684.5,1175.2 685.1,1174.1 685.8,1172.9 C686.5,1171.8 687.2,1170.6 687.9,1169.5 C688.6,1168.4 689.4,1167.3 690.1,1166.2 C690.9,1165.1 691.7,1164.0 692.5,1163.0 C693.4,1162.0 694.3,1161.0 695.2,1160.1 C696.1,1159.1 697.1,1158.3 698.2,1157.5 C699.2,1156.7 700.3,1156.0 701.5,1155.5 C702.6,1154.9 703.9,1154.5 705.1,1154.2 C706.4,1153.8 707.7,1153.7 708.9,1153.6 C710.2,1153.6 711.5,1153.6 712.8,1153.8 C714.1,1154.1 715.3,1154.4 716.5,1154.8 C717.8,1155.3 718.9,1155.9 720.1,1156.5 C721.3,1157.1 722.4,1157.8 723.5,1158.5 C724.6,1159.3 725.7,1160.0 726.8,1160.8 C727.9,1161.5 729.0,1162.3 730.1,1163.1 C731.2,1163.8 732.3,1164.6 733.4,1165.3 C734.5,1166.1 735.6,1166.8 736.7,1167.6 C737.8,1168.3 738.9,1169.0 740.1,1169.7 C741.3,1170.3 742.4,1170.9 743.6,1171.5 C744.8,1172.1 746.0,1172.6 747.3,1173.1 C748.5,1173.5 749.8,1174.0 751.0,1174.3 C752.3,1174.6 753.6,1174.8 754.9,1175.0 C756.2,1175.1 757.5,1175.1 758.8,1175.0 C760.1,1174.8 761.4,1174.6 762.6,1174.2 C763.8,1173.8 765.1,1173.3 766.2,1172.8 C767.4,1172.2 768.5,1171.5 769.6,1170.7 C770.6,1170.0 771.7,1169.1 772.6,1168.2 C773.6,1167.3 774.5,1166.4 775.4,1165.4 C776.2,1164.4 777.1,1163.3 777.9,1162.2 C778.6,1161.2 779.4,1160.1 780.1,1158.9 C780.8,1157.8 781.4,1156.7 782.1,1155.5 C782.7,1154.3 783.2,1153.1 783.8,1151.9 C784.4,1150.7 784.9,1149.5 785.4,1148.2 C785.9,1147.0 786.3,1145.7 786.8,1144.5 C787.3,1143.3 787.8,1142.0 788.3,1140.8 C788.8,1139.5 789.3,1138.3 789.8,1137.1 C790.3,1135.8 790.8,1134.6 791.4,1133.4 C792.0,1132.3 792.6,1131.1 793.3,1130.0 C794.1,1128.9 794.8,1127.9 795.7,1126.9 C796.6,1125.9 797.6,1125.1 798.5,1124.2 C799.5,1123.4 800.6,1122.6 801.6,1121.7 C802.6,1120.9 803.6,1120.0 804.4,1119.1 C805.3,1118.1 806.1,1117.1 806.9,1116.0 C807.6,1115.0 808.3,1113.8 809.0,1112.7 C809.7,1111.6 810.4,1110.4 811.1,1109.4 C811.8,1108.3 812.6,1107.2 813.5,1106.3 C814.4,1105.3 815.3,1104.4 816.3,1103.7 C817.4,1102.9 818.5,1102.3 819.7,1101.7 C820.9,1101.2 822.1,1100.7 823.4,1100.4 C824.6,1100.1 825.9,1099.8 827.2,1099.7 C828.5,1099.5 829.9,1099.5 831.2,1099.5 C832.5,1099.6 833.8,1099.7 835.1,1099.9 C836.4,1100.2 837.6,1100.5 838.9,1100.9 C840.1,1101.3 841.4,1101.8 842.6,1102.4 C843.8,1102.9 844.9,1103.5 846.1,1104.2 C847.2,1104.8 848.4,1105.6 849.4,1106.3 C850.5,1107.1 851.6,1107.9 852.6,1108.7 C853.6,1109.6 854.6,1110.5 855.6,1111.4 C856.6,1112.3 857.5,1113.2 858.4,1114.2 C859.3,1115.2 860.2,1116.1 861.2,1117.1 C862.1,1118.1 863.0,1119.1 863.9,1120.1 C864.8,1121.0 865.7,1122.0 866.6,1123.0 C867.5,1123.9 868.5,1124.9 869.4,1125.8 C870.4,1126.7 871.4,1127.7 872.3,1128.6 C873.3,1129.5 874.3,1130.4 875.3,1131.3 C876.3,1132.1 877.3,1133.0 878.3,1133.9 C879.3,1134.7 880.4,1135.6 881.4,1136.4 C882.5,1137.2 883.5,1138.0 884.6,1138.8 C885.7,1139.6 886.8,1140.3 887.9,1141.0 C889.0,1141.8 890.2,1142.4 891.3,1143.1 C892.5,1143.7 893.7,1144.3 894.9,1144.8 C896.1,1145.3 897.4,1145.7 898.6,1146.1 C899.9,1146.5 901.2,1146.8 902.5,1147.0 C903.8,1147.3 905.1,1147.5 906.4,1147.8 C907.7,1148.0 908.9,1148.3 910.2,1148.7 C911.5,1149.1 912.7,1149.5 913.9,1150.0 C915.1,1150.5 916.3,1151.1 917.5,1151.8 C918.7,1152.4 919.8,1153.1 920.9,1153.8 C922.0,1154.5 923.1,1155.3 924.1,1156.1 C925.2,1156.9 926.2,1157.8 927.1,1158.7 C928.1,1159.6 929.0,1160.6 929.9,1161.6 C930.8,1162.6 931.6,1163.6 932.5,1164.6 C933.4,1165.6 934.2,1166.6 935.1,1167.6 C936.0,1168.6 936.9,1169.6 937.9,1170.5 C938.8,1171.5 939.7,1172.4 940.7,1173.4 C941.6,1174.3 942.6,1175.2 943.5,1176.2 C944.5,1177.1 945.4,1178.0 946.4,1179.0 C947.3,1179.9 948.3,1180.9 949.2,1181.8 C950.1,1182.8 951.0,1183.8 951.9,1184.8 C952.8,1185.8 953.6,1186.8 954.5,1187.8 C955.3,1188.8 956.2,1189.9 957.0,1190.9 C957.8,1192.0 958.6,1193.0 959.4,1194.1 C960.3,1195.1 961.1,1196.2 961.9,1197.2 C962.8,1198.3 963.6,1199.3 964.5,1200.3 C965.4,1201.3 966.3,1202.3 967.2,1203.2 C968.2,1204.1 969.2,1205.0 970.2,1205.9 C971.2,1206.7 972.2,1207.6 973.3,1208.4 C974.4,1209.1 975.5,1209.9 976.6,1210.6 C977.7,1211.3 978.9,1212.0 980.0,1212.6 C981.2,1213.2 982.4,1213.8 983.6,1214.3 C984.9,1214.8 986.1,1215.3 987.4,1215.7 C988.6,1216.0 989.9,1216.4 991.2,1216.6 C992.5,1216.8 993.8,1217.0 995.1,1217.1 C996.4,1217.2 997.8,1217.2 999.1,1217.1 C1000.4,1217.0 1001.7,1216.9 1003.0,1216.6 C1004.3,1216.4 1005.6,1216.1 1006.9,1215.8 C1008.2,1215.4 1009.4,1215.0 1010.7,1214.6 C1012.0,1214.2 1013.2,1213.7 1014.5,1213.3 C1015.7,1212.8 1017.0,1212.4 1018.2,1211.9 C1019.5,1211.4 1020.7,1211.0 1022.0,1210.5 C1023.2,1210.0 1024.5,1209.5 1025.7,1209.0 C1026.9,1208.5 1028.2,1208.0 1029.4,1207.5 C1030.6,1207.0 1031.9,1206.5 1033.1,1205.9 C1034.3,1205.4 1035.5,1204.8 1036.7,1204.3 C1037.9,1203.7 1039.1,1203.2 1040.4,1202.7 C1041.6,1202.2 1042.8,1201.7 1044.1,1201.4 C1045.3,1201.1 1046.6,1200.9 1047.9,1200.9 C1049.1,1200.9 1050.4,1201.0 1051.7,1201.2 C1052.9,1201.5 1054.2,1201.9 1055.4,1202.3 C1056.6,1202.8 1057.8,1203.4 1059.0,1204.0 C1060.1,1204.6 1061.3,1205.4 1062.3,1206.1 C1063.4,1206.9 1064.5,1207.7 1065.5,1208.5 C1066.5,1209.4 1067.5,1210.3 1068.4,1211.2 C1069.4,1212.1 1070.3,1213.1 1071.2,1214.1 C1072.1,1215.1 1073.0,1216.1 1073.8,1217.1 C1074.7,1218.1 1075.5,1219.2 1076.3,1220.2 C1077.1,1221.3 1077.9,1222.4 1078.6,1223.5 C1079.4,1224.6 1080.1,1225.7 1080.8,1226.8 C1081.5,1227.9 1082.2,1229.1 1082.9,1230.2 C1083.6,1231.4 1084.3,1232.5 1085.0,1233.6 C1085.7,1234.8 1086.4,1235.9 1087.1,1237.1 C1087.7,1238.2 1088.4,1239.4 1089.1,1240.5 C1089.7,1241.7 1090.4,1242.9 1091.0,1244.0 C1091.7,1245.2 1092.3,1246.4 1092.9,1247.5 C1093.6,1248.7 1094.2,1249.9 1094.8,1251.1 C1095.5,1252.3 1096.1,1253.4 1096.7,1254.6 C1097.3,1255.8 1097.9,1257.0 1098.5,1258.2 C1099.1,1259.4 1099.8,1260.5 1100.4,1261.7 C1101.0,1262.9 1101.6,1264.1 1102.2,1265.3 C1102.8,1266.5 1103.4,1267.7 1104.0,1268.9 C1104.5,1270.1 1105.1,1271.3 1105.7,1272.5 C1106.3,1273.7 1106.9,1274.9 1107.5,1276.1 C1108.1,1277.3 1108.7,1278.5 1109.2,1279.7 C1109.8,1280.9 1110.4,1282.1 1111.0,1283.3 C1111.6,1284.5 1112.2,1285.7 1112.8,1286.8 C1113.4,1288.0 1114.0,1289.2 1114.6,1290.4 C1115.2,1291.6 1115.7,1292.8 1116.3,1294.0 C1116.9,1295.2 1117.5,1296.4 1118.1,1297.6 C1118.7,1298.8 1119.3,1300.0 1119.9,1301.2 C1120.5,1302.4 1121.1,1303.6 1121.7,1304.7 C1122.3,1305.9 1122.9,1307.1 1123.5,1308.3 C1124.1,1309.5 1124.7,1310.7 1125.3,1311.9 C1125.9,1313.1 1126.5,1314.3 1127.1,1315.5 C1127.6,1316.7 1128.2,1317.9 1128.8,1319.1 C1129.4,1320.3 1129.9,1321.5 1130.5,1322.7 C1131.1,1323.9 1131.6,1325.1 1132.2,1326.3 C1132.8,1327.6 1133.4,1328.8 1133.9,1330.0 C1134.5,1331.1 1135.1,1332.3 1135.7,1333.5 C1136.3,1334.7 1137.0,1335.9 1137.6,1337.1 C1138.3,1338.2 1138.9,1339.4 1139.6,1340.5 C1140.3,1341.7 1141.0,1342.8 1141.7,1343.9 C1142.4,1345.1 1143.2,1346.2 1143.9,1347.3 C1144.7,1348.4 1145.5,1349.4 1146.3,1350.5 C1147.0,1351.6 1147.9,1352.6 1148.7,1353.7 C1149.6,1354.7 1150.4,1355.7 1151.3,1356.7 C1152.2,1357.7 1153.1,1358.6 1154.1,1359.5 C1155.1,1360.5 1156.0,1361.4 1157.0,1362.2 C1158.0,1363.1 1159.1,1364.0 1160.1,1364.8 C1161.2,1365.6 1162.3,1366.3 1163.4,1367.0 C1164.5,1367.8 1165.7,1368.4 1166.8,1369.1 C1168.0,1369.7 1169.2,1370.2 1170.4,1370.7 C1171.7,1371.2 1172.9,1371.6 1174.2,1371.9 C1175.5,1372.3 1176.8,1372.5 1178.1,1372.7 C1179.4,1372.8 1180.7,1372.9 1182.0,1372.9 C1183.3,1372.9 1184.7,1372.9 1186.0,1372.7 C1187.3,1372.6 1188.6,1372.4 1189.9,1372.1 C1191.2,1371.8 1192.5,1371.5 1193.8,1371.2 C1195.1,1370.9 1196.3,1370.5 1197.6,1370.1 C1198.9,1369.8 1200.2,1369.4 1201.5,1369.1 C1202.8,1368.7 1204.1,1368.4 1205.4,1368.1 C1206.7,1367.8 1208.0,1367.5 1209.3,1367.2 C1210.6,1366.9 1211.9,1366.6 1213.2,1366.4 C1214.5,1366.1 1215.8,1365.8 1217.1,1365.6 C1218.4,1365.3 1219.7,1365.1 1221.0,1364.8 C1222.3,1364.6 1223.7,1364.4 1225.0,1364.1 C1226.3,1363.9 1227.6,1363.7 1228.9,1363.5 C1230.2,1363.2 1231.5,1363.0 1232.9,1362.8 C1234.2,1362.6 1235.5,1362.4 1236.8,1362.1 C1238.1,1361.9 1239.4,1361.7 1240.8,1361.5 C1242.1,1361.3 1243.4,1361.1 1244.7,1361.0 C1246.0,1360.8 1247.4,1360.7 1248.7,1360.6 C1250.0,1360.5 1251.4,1360.4 1252.7,1360.3 C1254.0,1360.3 1255.3,1360.3 1256.7,1360.3 C1258.0,1360.3 1259.3,1360.4 1260.7,1360.5 C1262.0,1360.6 1263.3,1360.7 1264.6,1360.9 C1266.0,1361.1 1267.3,1361.3 1268.6,1361.5 C1269.9,1361.7 1271.2,1361.9 1272.5,1362.2 C1273.8,1362.4 1275.1,1362.7 1276.4,1363.0 C1277.7,1363.3 1279.0,1363.7 1280.3,1364.0 C1281.6,1364.4 1282.9,1364.8 1284.1,1365.2 C1285.4,1365.5 1286.7,1366.0 1287.9,1366.4 C1289.2,1366.8 1290.5,1367.2 1291.8,1367.6 C1293.0,1368.0 1294.3,1368.4 1295.6,1368.7 C1296.9,1369.1 1298.2,1369.4 1299.5,1369.7 C1300.8,1369.9 1302.1,1370.1 1303.4,1370.3 C1304.7,1370.5 1306.0,1370.6 1307.4,1370.7 C1308.7,1370.8 1310.0,1370.8 1311.4,1370.8 C1312.7,1370.8 1314.0,1370.7 1315.3,1370.6 C1316.6,1370.4 1317.9,1370.2 1319.2,1369.9 C1320.5,1369.7 1321.8,1369.3 1323.1,1369.0 C1324.4,1368.7 1325.6,1368.3 1326.9,1367.9 C1328.2,1367.6 1329.5,1367.3 1330.8,1367.1 C1332.1,1366.8 1333.4,1366.6 1334.8,1366.5 C1336.1,1366.4 1337.4,1366.4 1338.7,1366.4 C1340.0,1366.5 1341.3,1366.6 1342.6,1366.9 C1343.9,1367.1 1345.2,1367.4 1346.5,1367.8 C1347.7,1368.1 1349.0,1368.6 1350.2,1369.1 C1351.4,1369.7 1352.6,1370.3 1353.7,1370.9 C1354.9,1371.5 1356.0,1372.3 1357.1,1373.0 C1358.2,1373.7 1359.3,1374.5 1360.4,1375.3 C1361.4,1376.1 1362.5,1377.0 1363.5,1377.8 C1364.5,1378.6 1365.6,1379.5 1366.6,1380.4 C1367.6,1381.2 1368.6,1382.1 1369.6,1383.0 C1370.5,1383.9 1371.5,1384.8 1372.5,1385.8 C1373.5,1386.7 1374.4,1387.6 1375.4,1388.5 C1376.3,1389.4 1377.3,1390.4 1378.2,1391.3 C1379.2,1392.2 1380.1,1393.2 1381.1,1394.1 C1382.0,1395.1 1383.0,1396.0 1383.9,1397.0 C1384.8,1397.9 1385.8,1398.9 1386.7,1399.8 C1387.7,1400.8 1388.6,1401.7 1389.5,1402.6 C1390.5,1403.6 1391.4,1404.5 1392.4,1405.5 C1393.3,1406.4 1394.3,1407.4 1395.2,1408.3 C1396.2,1409.3 1397.1,1410.2 1398.0,1411.1 C1399.0,1412.1 1399.9,1413.0 1400.9,1414.0 C1401.8,1414.9 1402.8,1415.9 1403.7,1416.8 C1404.6,1417.7 1405.6,1418.7 1406.5,1419.6 C1407.5,1420.6 1408.4,1421.5 1409.4,1422.5 C1410.3,1423.4 1411.2,1424.3 1412.2,1425.3 C1413.1,1426.2 1414.1,1427.2 1415.0,1428.1 C1416.0,1429.1 1416.9,1430.0 1417.8,1430.9 C1418.8,1431.9 1419.7,1432.8 1420.7,1433.8 C1421.6,1434.7 1422.6,1435.7 1423.5,1436.6 C1424.4,1437.6 1425.4,1438.5 1426.3,1439.5 C1427.3,1440.4 1428.2,1441.3 1429.1,1442.3 C1430.1,1443.2 1431.1,1444.2 1432.0,1445.1 C1433.0,1446.0 1433.9,1446.9 1434.9,1447.8 C1435.9,1448.8 1436.9,1449.7 1437.8,1450.6 C1438.8,1451.4 1439.8,1452.3 1440.9,1453.2 C1441.9,1454.0 1442.9,1454.9 1444.0,1455.7 C1445.0,1456.5 1446.1,1457.3 1447.2,1458.0 C1448.3,1458.8 1449.4,1459.5 1450.6,1460.1 C1451.7,1460.8 1452.9,1461.4 1454.1,1461.9 C1455.3,1462.4 1456.6,1462.8 1457.9,1463.2 C1459.1,1463.5 1460.4,1463.8 1461.7,1464.0 C1463.0,1464.1 1464.3,1464.2 1465.7,1464.2 C1467.0,1464.2 1468.3,1464.1 1469.6,1463.9 C1470.9,1463.7 1472.2,1463.5 1473.5,1463.1 C1474.7,1462.8 1476.0,1462.4 1477.2,1461.9 C1478.4,1461.4 1479.6,1460.8 1480.8,1460.2 C1482.0,1459.6 1483.2,1459.0 1484.3,1458.3 C1485.5,1457.7 1486.6,1457.0 1487.8,1456.4 C1489.0,1455.7 1490.1,1455.1 1491.3,1454.5 C1492.5,1454.0 1493.8,1453.4 1495.0,1452.9 C1496.2,1452.4 1497.5,1451.9 1498.7,1451.4 C1499.9,1451.0 1501.2,1450.5 1502.4,1450.0 C1503.7,1449.5 1504.9,1449.0 1506.1,1448.5 C1507.3,1447.9 1508.6,1447.4 1509.8,1446.9 C1511.0,1446.3 1512.2,1445.8 1513.4,1445.2 C1514.6,1444.7 1515.9,1444.1 1517.1,1443.6 C1518.3,1443.2 1519.6,1442.7 1520.8,1442.3 C1522.1,1441.9 1523.4,1441.5 1524.7,1441.2 C1526.0,1440.9 1527.3,1440.6 1528.6,1440.4 C1529.9,1440.2 1531.2,1440.0 1532.5,1439.8 C1533.8,1439.6 1535.2,1439.5 1536.5,1439.3 C1537.8,1439.2 1539.1,1439.1 1540.5,1439.1 C1541.8,1439.1 1543.1,1439.0 1544.5,1439.1 C1545.8,1439.1 1547.1,1439.2 1548.5,1439.3 C1549.8,1439.4 1551.1,1439.5 1552.4,1439.7 C1553.7,1439.9 1555.0,1440.2 1556.3,1440.5 C1557.6,1440.8 1558.9,1441.2 1560.2,1441.6 C1561.4,1442.0 1562.7,1442.4 1563.9,1442.9 C1565.2,1443.4 1566.4,1443.9 1567.6,1444.4 C1568.8,1445.0 1570.0,1445.5 1571.2,1446.1 C1572.4,1446.7 1573.6,1447.3 1574.8,1448.0 C1575.9,1448.6 1577.1,1449.3 1578.3,1449.9 C1579.4,1450.6 1580.6,1451.3 1581.7,1452.0 C1582.8,1452.7 1584.0,1453.4 1585.1,1454.1 C1586.2,1454.8 1587.3,1455.6 1588.4,1456.3 C1589.5,1457.0 1590.6,1457.8 1591.8,1458.5 C1592.9,1459.3 1594.0,1460.0 1595.1,1460.8 C1596.2,1461.5 1597.3,1462.3 1598.4,1463.0 C1599.5,1463.7 1600.6,1464.4 1601.8,1465.1 C1602.9,1465.8 1604.1,1466.4 1605.3,1467.0 C1606.5,1467.6 1607.7,1468.2 1608.9,1468.8 C1610.1,1469.3 1611.3,1469.8 1612.6,1470.3 C1613.8,1470.8 1615.1,1471.2 1616.3,1471.6 C1617.6,1471.9 1618.9,1472.2 1620.2,1472.5 C1621.5,1472.8 1622.8,1472.9 1624.1,1473.1 C1625.4,1473.3 1626.8,1473.3 1628.1,1473.4 C1629.4,1473.5 1630.8,1473.5 1632.1,1473.5 C1633.4,1473.6 1634.8,1473.6 1636.1,1473.5 C1637.4,1473.5 1638.8,1473.5 1640.1,1473.5 C1641.4,1473.4 1642.8,1473.4 1644.1,1473.3 C1645.4,1473.2 1646.8,1473.2 1648.1,1473.1 C1649.4,1473.0 1650.8,1472.9 1652.1,1472.8 C1653.4,1472.7 1654.7,1472.6 1656.1,1472.5 C1657.4,1472.4 1658.7,1472.3 1660.1,1472.1 C1661.4,1472.0 1662.7,1471.8 1664.0,1471.7 C1665.4,1471.6 1666.7,1471.4 1668.0,1471.3 C1669.3,1471.1 1670.7,1471.0 1672.0,1470.9 C1673.3,1470.8 1674.7,1470.7 1676.0,1470.6 C1677.3,1470.5 1678.7,1470.5 1680.0,1470.4 C1681.3,1470.3 1682.7,1470.3 1684.0,1470.3 C1685.3,1470.2 1686.7,1470.2 1688.0,1470.2 C1689.3,1470.2 1690.7,1470.2 1692.0,1470.2 C1693.3,1470.2 1694.7,1470.2 1696.0,1470.2 C1697.3,1470.3 1698.7,1470.3 1700.0,1470.3 C1701.3,1470.3 1702.7,1470.3 1704.0,1470.3 C1705.3,1470.4 1706.7,1470.4 1708.0,1470.4 C1709.3,1470.5 1710.7,1470.5 1712.0,1470.6 C1713.3,1470.6 1714.7,1470.7 1716.0,1470.8 C1717.3,1470.9 1718.6,1471.1 1719.9,1471.2 C1721.3,1471.4 1722.6,1471.6 1723.9,1471.9 C1725.2,1472.2 1726.5,1472.5 1727.8,1472.8 C1729.1,1473.1 1730.3,1473.5 1731.6,1473.9 C1732.9,1474.3 1734.2,1474.7 1735.4,1475.1 C1736.7,1475.5 1738.0,1475.9 1739.2,1476.3 C1740.5,1476.7 1741.8,1477.1 1743.1,1477.5 C1744.3,1477.9 1745.6,1478.2 1746.9,1478.6 C1748.2,1479.0 1749.5,1479.3 1750.8,1479.6 C1752.1,1480.0 1753.4,1480.3 1754.7,1480.6 C1755.9,1481.0 1757.2,1481.3 1758.5,1481.6 C1759.8,1481.9 1761.1,1482.3 1762.4,1482.6 C1763.7,1482.9 1765.0,1483.2 1766.3,1483.6 C1767.6,1483.9 1768.9,1484.2 1770.2,1484.6 C1771.5,1484.9 1772.7,1485.3 1774.0,1485.6 C1775.3,1486.0 1776.6,1486.3 1777.9,1486.6 C1779.2,1487.0 1780.5,1487.3 1781.8,1487.6 C1783.1,1487.9 1784.4,1488.2 1785.7,1488.5 C1787.0,1488.8 1788.3,1489.0 1789.6,1489.3 C1790.9,1489.5 1792.2,1489.7 1793.6,1489.9 C1794.9,1490.1 1796.2,1490.3 1797.5,1490.5 C1798.8,1490.6 1800.2,1490.8 1801.5,1490.9 C1802.8,1491.0 1804.1,1491.0 1805.5,1491.1 C1806.8,1491.1 1808.1,1491.1 1809.5,1491.0 C1810.8,1490.9 1812.1,1490.8 1813.4,1490.6 C1814.7,1490.4 1816.0,1490.1 1817.3,1489.8 C1818.6,1489.5 1819.9,1489.1 1821.1,1488.7 C1822.4,1488.3 1823.7,1487.9 1824.9,1487.5 C1826.2,1487.0 1827.4,1486.5 1828.7,1486.1 C1829.9,1485.6 1831.2,1485.1 1832.4,1484.6 C1833.6,1484.1 1834.9,1483.6 1836.1,1483.1 C1837.3,1482.6 1838.6,1482.1 1839.8,1481.6 C1841.1,1481.1 1842.3,1480.7 1843.6,1480.3 C1844.8,1479.9 1846.1,1479.5 1847.4,1479.2 C1848.7,1478.9 1850.0,1478.6 1851.3,1478.4 C1852.6,1478.2 1853.9,1478.0 1855.3,1477.8 C1856.6,1477.6 1857.9,1477.5 1859.2,1477.4 C1860.6,1477.2 1861.9,1477.1 1863.2,1477.0 C1864.5,1476.8 1865.9,1476.7 1867.2,1476.6 C1868.5,1476.5 1869.9,1476.4 1871.2,1476.3 C1872.5,1476.2 1873.9,1476.1 1875.2,1476.1 C1876.5,1476.0 1877.9,1476.0 1879.2,1476.0 C1880.5,1476.0 1881.9,1476.0 1883.2,1476.0 C1884.5,1476.0 1885.9,1476.1 1887.2,1476.1 C1888.5,1476.2 1889.8,1476.3 1891.2,1476.5 C1892.5,1476.6 1893.8,1476.8 1895.1,1477.0 C1896.4,1477.2 1897.7,1477.5 1899.0,1477.8 C1900.3,1478.1 1901.6,1478.5 1902.9,1478.9 C1904.1,1479.3 1905.4,1479.7 1906.6,1480.2 C1907.9,1480.6 1909.2,1481.1 1910.4,1481.5 C1911.7,1482.0 1912.9,1482.5 1914.1,1483.0 C1915.4,1483.4 1916.6,1483.9 1917.9,1484.4 C1919.1,1484.9 1920.3,1485.4 1921.6,1486.0 C1922.8,1486.5 1924.0,1487.0 1925.2,1487.6 C1926.4,1488.2 1927.5,1488.9 1928.7,1489.6 C1929.8,1490.3 1930.9,1491.0 1932.0,1491.8 C1933.0,1492.6 1934.1,1493.4 1935.1,1494.2 C1936.1,1495.1 1937.1,1496.0 1938.1,1496.8 C1939.2,1497.7 1940.2,1498.5 1941.2,1499.3 C1942.3,1500.2 1943.3,1501.0 1944.4,1501.7 C1945.5,1502.5 1946.7,1503.2 1947.8,1503.8 C1949.0,1504.5 1950.1,1505.1 1951.4,1505.6 C1952.6,1506.1 1953.8,1506.6 1955.1,1506.9 C1956.3,1507.3 1957.6,1507.6 1958.9,1507.8 C1960.2,1508.1 1961.6,1508.3 1962.9,1508.4 C1964.2,1508.6 1965.5,1508.7 1966.9,1508.7 C1968.2,1508.8 1969.5,1508.9 1970.9,1508.9 C1972.2,1508.9 1973.5,1508.9 1974.8,1508.9 C1976.2,1508.8 1977.5,1508.8 1978.8,1508.7 C1980.2,1508.6 1981.5,1508.5 1982.8,1508.4 C1984.2,1508.2 1985.5,1508.1 1986.8,1507.9 C1988.1,1507.7 1989.4,1507.5 1990.8,1507.3 C1992.1,1507.1 1993.4,1506.9 1994.7,1506.6 C1996.0,1506.4 1997.3,1506.1 1998.6,1505.8 C1999.9,1505.5 2001.2,1505.2 2002.5,1504.9 C2003.8,1504.6 2005.1,1504.3 2006.4,1504.0 C2007.7,1503.6 2009.0,1503.3 2010.3,1503.0 C2011.6,1502.6 2012.8,1502.3 2014.1,1501.9 C2015.4,1501.6 2016.7,1501.2 2018.0,1500.9 C2019.3,1500.6 2020.6,1500.2 2021.9,1499.9 C2023.2,1499.6 2024.5,1499.3 2025.8,1499.0 C2027.1,1498.7 2028.4,1498.4 2029.7,1498.1 C2031.0,1497.9 2032.3,1497.6 2033.6,1497.3 C2034.9,1497.1 2036.2,1496.8 2037.5,1496.6 C2038.8,1496.3 2040.2,1496.1 2041.5,1495.9 C2042.8,1495.6 2044.1,1495.4 2045.4,1495.2 C2046.7,1495.0 2048.1,1494.8 2049.4,1494.6 C2050.7,1494.5 2052.0,1494.3 2053.3,1494.1 C2054.7,1494.0 2056.0,1493.8 2057.3,1493.7 C2058.7,1493.6 2060.0,1493.4 2061.3,1493.3 C2062.6,1493.2 2064.0,1493.2 2065.3,1493.1 C2066.6,1493.0 2068.0,1493.0 2069.3,1493.0 C2070.6,1493.0 2072.0,1493.0 2073.3,1493.0 C2074.6,1493.0 2076.0,1493.0 2077.3,1493.1 C2078.6,1493.1 2080.0,1493.2 2081.3,1493.3 C2082.6,1493.4 2084.0,1493.5 2085.3,1493.6 C2086.6,1493.7 2087.9,1493.8 2089.3,1494.0 C2090.6,1494.1 2091.9,1494.3 2093.2,1494.5 C2094.5,1494.7 2095.9,1494.9 2097.2,1495.1 C2098.5,1495.4 2099.8,1495.6 2101.1,1495.9 C2102.4,1496.1 2103.7,1496.4 2105.0,1496.6 C2106.4,1496.8 2107.7,1497.0 2109.0,1497.2 C2110.3,1497.4 2111.6,1497.6 2113.0,1497.7 C2114.3,1497.8 2115.6,1497.9 2116.9,1498.0 C2118.3,1498.1 2119.6,1498.2 2120.9,1498.3 C2122.3,1498.4 2123.6,1498.5 2124.9,1498.6 C2126.3,1498.6 2127.6,1498.7 2128.9,1498.8 C2130.3,1498.9 2131.6,1499.0 2132.9,1499.1 C2134.2,1499.2 2135.6,1499.2 2136.9,1499.4 C2138.2,1499.5 2139.6,1499.6 2140.9,1499.7 C2142.2,1499.8 2143.5,1500.0 2144.9,1500.2 C2146.2,1500.4 2147.5,1500.6 2148.8,1500.9 C2150.1,1501.2 2151.4,1501.5 2152.6,1501.9 C2153.9,1502.3 2155.2,1502.7 2156.4,1503.1 C2157.7,1503.6 2158.9,1504.1 2160.2,1504.6 C2161.4,1505.1 2162.6,1505.6 2163.8,1506.2 C2165.0,1506.8 2166.2,1507.3 2167.4,1507.9 C2168.6,1508.5 2169.8,1509.1 2171.0,1509.7 C2172.2,1510.4 2173.3,1511.0 2174.5,1511.7 C2175.7,1512.3 2176.8,1512.9 2178.0,1513.6 C2179.2,1514.2 2180.4,1514.8 2181.6,1515.4 C2182.8,1516.0 2184.0,1516.5 2185.2,1517.0 C2186.4,1517.5 2187.7,1518.0 2188.9,1518.4 C2190.2,1518.8 2191.5,1519.2 2192.8,1519.6 C2194.0,1520.0 2195.3,1520.3 2196.6,1520.6 C2197.9,1520.8 2199.2,1521.1 2200.6,1521.2 C2201.9,1521.4 2203.2,1521.6 2204.5,1521.7 C2205.8,1521.8 2207.2,1521.8 2208.5,1521.8 C2209.8,1521.8 2211.2,1521.8 2212.5,1521.7 C2213.8,1521.7 2215.2,1521.6 2216.5,1521.6 C2217.8,1521.5 2219.2,1521.4 2220.5,1521.4 C2221.8,1521.3 2223.2,1521.2 2224.5,1521.2 C2225.8,1521.1 2227.2,1521.1 2228.5,1521.1 C2229.8,1521.1 2231.2,1521.0 2232.5,1521.0 C2233.8,1521.0 2235.2,1521.0 2236.5,1521.0 C2237.8,1521.0 2239.2,1520.9 2240.5,1520.9 C2241.8,1520.8 2243.2,1520.8 2244.5,1520.7 C2245.8,1520.7 2247.2,1520.6 2248.5,1520.5 C2249.8,1520.4 2251.1,1520.2 2252.5,1520.1 C2253.8,1519.9 2255.1,1519.8 2256.4,1519.6 C2257.8,1519.4 2259.1,1519.2 2260.4,1519.0 C2261.7,1518.8 2263.0,1518.6 2264.3,1518.4 C2265.7,1518.1 2267.0,1517.9 2268.3,1517.7 C2269.6,1517.4 2270.9,1517.2 2272.2,1516.9 C2273.5,1516.6 2274.8,1516.4 2276.1,1516.1 C2277.4,1515.9 2278.7,1515.6 2280.1,1515.4 C2281.4,1515.1 2282.7,1514.9 2284.0,1514.6 C2285.3,1514.4 2286.6,1514.2 2287.9,1513.9 C2289.3,1513.7 2290.6,1513.5 2291.9,1513.3 C2293.2,1513.1 2294.5,1512.9 2295.8,1512.7 C2297.2,1512.5 2298.5,1512.3 2299.8,1512.0 C2301.1,1511.8 2302.4,1511.6 2303.7,1511.4 C2305.1,1511.2 2307.0,1510.9 2307.7,1510.8" stroke="#ff0000"/>
<path d="M306.0,1561.5 C306.7,1561.5 308.7,1561.6 310.0,1561.6 C311.3,1561.6 312.7,1561.7 314.0,1561.7 C315.3,1561.8 316.7,1561.8 318.0,1561.8 C319.3,1561.9 320.7,1561.9 322.0,1561.9 C323.3,1561.9 324.7,1562.0 326.0,1562.0 C327.3,1562.0 328.7,1562.0 330.0,1562.0 C331.3,1562.0 332.7,1562.0 334.0,1562.0 C335.3,1562.0 336.7,1562.0 338.0,1562.0 C339.3,1562.0 340.7,1561.9 342.0,1561.9 C343.3,1561.9 344.7,1561.8 346.0,1561.8 C347.3,1561.7 348.7,1561.6 350.0,1561.5 C351.3,1561.3 352.6,1561.1 353.9,1560.9 C355.2,1560.7 356.5,1560.4 357.8,1560.1 C359.1,1559.8 360.4,1559.4 361.7,1559.0 C362.9,1558.6 364.2,1558.2 365.4,1557.7 C366.7,1557.3 367.9,1556.8 369.2,1556.3 C370.4,1555.8 371.7,1555.3 372.9,1554.8 C374.1,1554.3 375.3,1553.8 376.5,1553.2 C377.7,1552.5 378.8,1551.9 379.9,1551.2 C381.0,1550.5 382.1,1549.7 383.1,1548.8 C384.2,1548.0 385.1,1547.1 386.1,1546.2 C387.1,1545.3 388.0,1544.3 388.9,1543.3 C389.8,1542.4 390.7,1541.4 391.5,1540.4 C392.4,1539.4 393.3,1538.3 394.1,1537.3 C395.0,1536.3 395.8,1535.2 396.6,1534.2 C397.5,1533.2 398.3,1532.1 399.1,1531.0 C399.9,1530.0 400.7,1528.9 401.5,1527.8 C402.2,1526.7 403.0,1525.6 403.8,1524.5 C404.5,1523.5 405.3,1522.4 406.0,1521.3 C406.8,1520.2 407.5,1519.0 408.3,1517.9 C409.0,1516.8 409.7,1515.7 410.5,1514.6 C411.2,1513.5 411.9,1512.3 412.6,1511.2 C413.3,1510.1 414.0,1508.9 414.7,1507.9 C415.5,1506.8 416.3,1505.7 417.1,1504.7 C418.0,1503.7 418.9,1502.8 419.9,1501.9 C420.8,1501.0 421.9,1500.2 422.9,1499.4 C423.9,1498.5 425.0,1497.8 426.0,1496.9 C427.0,1496.1 428.0,1495.2 428.9,1494.2 C429.8,1493.3 430.7,1492.3 431.5,1491.2 C432.3,1490.2 433.0,1489.1 433.8,1488.0 C434.6,1486.9 435.3,1485.8 436.1,1484.8 C436.9,1483.7 437.8,1482.7 438.6,1481.6 C439.4,1480.6 440.3,1479.6 441.2,1478.6 C442.0,1477.6 442.9,1476.5 443.7,1475.5 C444.5,1474.5 445.4,1473.4 446.2,1472.4 C447.0,1471.3 447.7,1470.2 448.5,1469.1 C449.3,1468.0 450.0,1466.9 450.8,1465.8 C451.6,1464.7 452.3,1463.6 453.0,1462.5 C453.8,1461.4 454.5,1460.3 455.2,1459.2 C456.0,1458.1 456.7,1457.0 457.4,1455.8 C458.2,1454.7 458.9,1453.6 459.6,1452.5 C460.3,1451.3 461.0,1450.2 461.7,1449.1 C462.4,1447.9 463.1,1446.8 463.8,1445.7 C464.5,1444.5 465.2,1443.4 465.9,1442.3 C466.6,1441.1 467.3,1440.0 467.9,1438.8 C468.6,1437.7 469.3,1436.5 470.0,1435.4 C470.6,1434.2 471.3,1433.1 472.0,1431.9 C472.6,1430.7 473.3,1429.6 473.9,1428.4 C474.6,1427.3 475.2,1426.1 475.9,1424.9 C476.5,1423.8 477.2,1422.6 477.8,1421.4 C478.5,1420.3 479.1,1419.1 479.8,1417.9 C480.4,1416.8 481.1,1415.6 481.7,1414.4 C482.4,1413.3 483.0,1412.1 483.7,1410.9 C484.3,1409.8 485.0,1408.6 485.6,1407.4 C486.3,1406.3 486.9,1405.1 487.6,1403.9 C488.2,1402.8 488.9,1401.6 489.5,1400.5 C490.2,1399.3 490.8,1398.1 491.5,1397.0 C492.1,1395.8 492.8,1394.6 493.4,1393.5 C494.1,1392.3 494.8,1391.2 495.4,1390.0 C496.1,1388.9 496.8,1387.7 497.5,1386.6 C498.2,1385.4 498.9,1384.3 499.6,1383.2 C500.3,1382.1 501.0,1380.9 501.8,1379.8 C502.5,1378.7 503.2,1377.6 504.0,1376.5 C504.7,1375.4 505.5,1374.3 506.2,1373.2 C507.0,1372.1 507.7,1371.0 508.5,1369.9 C509.2,1368.8 510.0,1367.7 510.7,1366.6 C511.5,1365.5 512.2,1364.4 513.0,1363.3 C513.7,1362.2 514.5,1361.0 515.2,1359.9 C516.0,1358.8 516.7,1357.7 517.4,1356.6 C518.2,1355.5 518.9,1354.4 519.7,1353.3 C520.4,1352.2 521.1,1351.1 521.9,1349.9 C522.6,1348.8 523.3,1347.7 524.1,1346.6 C524.8,1345.5 525.5,1344.4 526.3,1343.3 C527.0,1342.2 527.8,1341.0 528.5,1339.9 C529.2,1338.8 530.0,1337.7 530.7,1336.6 C531.5,1335.5 532.2,1334.4 533.0,1333.3 C533.7,1332.2 534.5,1331.1 535.2,1330.0 C535.9,1328.9 536.7,1327.8 537.4,1326.7 C538.2,1325.6 538.9,1324.5 539.7,1323.4 C540.4,1322.3 541.2,1321.1 541.9,1320.1 C542.7,1319.0 543.5,1317.9 544.3,1316.8 C545.1,1315.7 545.9,1314.7 546.7,1313.6 C547.5,1312.6 548.4,1311.6 549.3,1310.6 C550.2,1309.6 551.1,1308.7 552.1,1307.8 C553.0,1306.8 554.0,1306.0 555.0,1305.1 C556.0,1304.2 557.1,1303.4 558.1,1302.5 C559.1,1301.7 560.2,1300.8 561.2,1300.0 C562.3,1299.2 563.3,1298.3 564.3,1297.5 C565.4,1296.7 566.4,1295.8 567.5,1295.0 C568.5,1294.2 569.6,1293.4 570.6,1292.5 C571.7,1291.7 572.8,1291.0 573.8,1290.2 C574.9,1289.4 576.0,1288.6 577.1,1287.9 C578.2,1287.1 579.3,1286.3 580.4,1285.5 C581.4,1284.8 582.5,1284.0 583.6,1283.2 C584.7,1282.4 585.7,1281.6 586.8,1280.7 C587.8,1279.9 588.8,1279.0 589.8,1278.1 C590.7,1277.2 591.7,1276.3 592.6,1275.4 C593.6,1274.4 594.5,1273.4 595.4,1272.4 C596.3,1271.5 597.2,1270.5 598.1,1269.5 C599.0,1268.5 599.9,1267.5 600.7,1266.5 C601.6,1265.5 602.5,1264.6 603.4,1263.5 C604.3,1262.5 605.1,1261.5 606.0,1260.5 C606.8,1259.4 607.6,1258.4 608.4,1257.3 C609.2,1256.2 609.9,1255.1 610.6,1254.0 C611.4,1252.9 612.1,1251.8 612.8,1250.7 C613.6,1249.5 614.3,1248.4 615.0,1247.3 C615.7,1246.1 616.4,1245.0 617.0,1243.9 C617.7,1242.7 618.4,1241.6 619.1,1240.4 C619.8,1239.3 620.5,1238.1 621.2,1237.0 C621.8,1235.8 622.5,1234.7 623.2,1233.5 C623.8,1232.4 624.5,1231.2 625.2,1230.1 C625.8,1228.9 626.5,1227.7 627.1,1226.6 C627.8,1225.4 628.5,1224.3 629.1,1223.1 C629.8,1221.9 630.4,1220.8 631.1,1219.6 C631.8,1218.5 632.5,1217.3 633.1,1216.2 C633.8,1215.1 634.5,1213.9 635.3,1212.8 C636.0,1211.7 636.7,1210.6 637.5,1209.5 C638.2,1208.4 639.0,1207.3 639.8,1206.2 C640.6,1205.1 641.3,1204.1 642.1,1203.0 C642.8,1201.8 643.5,1200.7 644.2,1199.6 C644.9,1198.4 645.5,1197.3 646.1,1196.1 C646.8,1194.9 647.4,1193.7 648.0,1192.5 C648.6,1191.4 649.2,1190.2 649.8,1189.0 C650.5,1187.8 651.1,1186.6 651.7,1185.5 C652.4,1184.3 653.1,1183.2 653.8,1182.1 C654.5,1180.9 655.3,1179.8 656.0,1178.8 C656.8,1177.7 657.6,1176.6 658.5,1175.6 C659.3,1174.6 660.2,1173.6 661.0,1172.5 C661.9,1171.5 662.8,1170.5 663.7,1169.5 C664.5,1168.5 665.4,1167.5 666.2,1166.5 C667.1,1165.4 667.9,1164.4 668.7,1163.3 C669.5,1162.2 670.3,1161.2 671.0,1160.1 C671.8,1159.0 672.5,1157.8 673.2,1156.7 C674.0,1155.6 674.7,1154.5 675.4,1153.4 C676.1,1152.3 676.9,1151.1 677.6,1150.0 C678.3,1148.9 679.1,1147.8 679.8,1146.7 C680.5,1145.6 681.3,1144.5 682.0,1143.3 C682.7,1142.2 683.5,1141.1 684.2,1140.0 C684.9,1138.9 685.7,1137.8 686.4,1136.7 C687.2,1135.6 687.9,1134.5 688.7,1133.4 C689.4,1132.3 690.2,1131.2 691.0,1130.1 C691.8,1129.0 692.6,1128.0 693.4,1126.9 C694.2,1125.9 695.0,1124.8 695.9,1123.8 C696.8,1122.8 697.7,1121.8 698.6,1120.8 C699.5,1119.9 700.4,1118.9 701.4,1118.0 C702.4,1117.2 703.4,1116.3 704.4,1115.5 C705.5,1114.6 706.6,1113.9 707.7,1113.1 C708.8,1112.4 709.9,1111.7 711.1,1111.1 C712.2,1110.5 713.5,1109.9 714.7,1109.4 C715.9,1108.9 717.1,1108.4 718.4,1108.0 C719.6,1107.5 720.9,1107.2 722.2,1106.8 C723.5,1106.5 724.8,1106.2 726.1,1105.9 C727.4,1105.6 728.7,1105.4 730.0,1105.1 C731.3,1104.9 732.6,1104.7 734.0,1104.5 C735.3,1104.4 736.6,1104.2 737.9,1104.1 C739.3,1103.9 740.6,1103.8 741.9,1103.8 C743.2,1103.7 744.6,1103.6 745.9,1103.6 C747.2,1103.6 748.6,1103.7 749.9,1103.8 C751.2,1103.8 752.5,1103.9 753.9,1104.1 C755.2,1104.2 756.5,1104.3 757.9,1104.4 C759.2,1104.6 760.5,1104.7 761.8,1104.8 C763.2,1104.9 764.5,1104.9 765.8,1104.9 C767.1,1104.9 768.5,1104.9 769.8,1104.8 C771.1,1104.7 772.4,1104.5 773.7,1104.3 C775.0,1104.1 776.3,1103.8 777.6,1103.4 C778.9,1103.1 780.2,1102.7 781.4,1102.3 C782.7,1101.9 784.0,1101.5 785.2,1101.0 C786.5,1100.5 787.7,1100.1 788.9,1099.6 C790.2,1099.1 791.4,1098.6 792.7,1098.1 C793.9,1097.6 795.1,1097.1 796.4,1096.6 C797.6,1096.1 798.9,1095.7 800.1,1095.2 C801.4,1094.8 802.7,1094.4 803.9,1094.0 C805.2,1093.5 806.5,1093.1 807.7,1092.7 C808.9,1092.2 810.2,1091.8 811.4,1091.2 C812.5,1090.6 813.7,1090.0 814.7,1089.3 C815.8,1088.5 816.8,1087.7 817.8,1086.8 C818.8,1085.9 819.7,1085.0 820.6,1084.0 C821.5,1083.1 822.5,1082.1 823.4,1081.2 C824.4,1080.3 825.4,1079.4 826.4,1078.6 C827.4,1077.7 828.5,1076.9 829.5,1076.1 C830.6,1075.3 831.7,1074.6 832.8,1073.8 C833.9,1073.1 835.0,1072.4 836.2,1071.7 C837.3,1071.0 838.5,1070.3 839.7,1069.7 C840.8,1069.1 842.0,1068.6 843.3,1068.0 C844.5,1067.5 845.7,1067.1 847.0,1066.6 C848.2,1066.2 849.5,1065.8 850.8,1065.5 C852.1,1065.2 853.4,1064.9 854.7,1064.7 C856.0,1064.5 857.3,1064.3 858.7,1064.2 C860.0,1064.1 861.3,1064.0 862.6,1064.0 C864.0,1063.9 865.3,1063.9 866.6,1064.0 C867.9,1064.1 869.3,1064.2 870.6,1064.4 C871.9,1064.5 873.2,1064.7 874.5,1065.0 C875.8,1065.2 877.1,1065.5 878.4,1065.8 C879.7,1066.1 881.0,1066.5 882.3,1066.9 C883.6,1067.2 884.8,1067.7 886.1,1068.1 C887.3,1068.5 888.6,1069.0 889.8,1069.5 C891.0,1070.0 892.2,1070.6 893.4,1071.2 C894.6,1071.8 895.7,1072.4 896.8,1073.2 C897.9,1073.9 899.0,1074.7 900.0,1075.5 C901.0,1076.4 902.0,1077.3 902.9,1078.2 C903.8,1079.2 904.7,1080.2 905.5,1081.2 C906.4,1082.3 907.2,1083.3 908.0,1084.4 C908.7,1085.5 909.5,1086.6 910.3,1087.7 C911.0,1088.7 911.8,1089.9 912.5,1090.9 C913.3,1092.0 914.1,1093.1 914.8,1094.2 C915.6,1095.3 916.4,1096.4 917.2,1097.4 C918.0,1098.5 918.8,1099.6 919.6,1100.6 C920.4,1101.7 921.3,1102.7 922.1,1103.8 C922.9,1104.8 923.7,1105.9 924.6,1106.9 C925.4,1108.0 926.2,1109.0 927.0,1110.1 C927.9,1111.1 928.7,1112.2 929.5,1113.2 C930.3,1114.3 931.2,1115.3 932.0,1116.4 C932.8,1117.4 933.6,1118.5 934.4,1119.5 C935.2,1120.6 936.0,1121.7 936.8,1122.7 C937.6,1123.8 938.4,1124.9 939.2,1126.0 C940.0,1127.0 940.8,1128.1 941.5,1129.2 C942.3,1130.3 943.1,1131.4 943.9,1132.5 C944.7,1133.5 945.4,1134.6 946.2,1135.7 C947.0,1136.8 947.7,1137.9 948.5,1139.0 C949.2,1140.1 950.0,1141.2 950.8,1142.3 C951.5,1143.4 952.3,1144.5 953.0,1145.6 C953.8,1146.7 954.5,1147.8 955.3,1148.9 C956.0,1150.0 956.7,1151.1 957.5,1152.2 C958.2,1153.4 958.9,1154.5 959.6,1155.6 C960.3,1156.7 961.1,1157.9 961.8,1159.0 C962.5,1160.1 963.1,1161.3 963.8,1162.4 C964.5,1163.6 965.2,1164.7 965.9,1165.9 C966.5,1167.0 967.2,1168.2 967.8,1169.3 C968.5,1170.5 969.1,1171.7 969.8,1172.8 C970.5,1174.0 971.1,1175.1 971.8,1176.3 C972.5,1177.4 973.2,1178.6 973.9,1179.7 C974.6,1180.8 975.3,1181.9 976.1,1183.0 C976.8,1184.1 977.6,1185.3 978.3,1186.3 C979.1,1187.4 979.9,1188.5 980.6,1189.6 C981.4,1190.7 982.2,1191.8 983.0,1192.8 C983.9,1193.8 984.7,1194.9 985.6,1195.9 C986.5,1196.8 987.4,1197.8 988.4,1198.7 C989.4,1199.6 990.4,1200.4 991.4,1201.2 C992.5,1202.0 993.6,1202.7 994.8,1203.3 C995.9,1203.9 997.2,1204.4 998.4,1204.8 C999.6,1205.3 1000.9,1205.6 1002.2,1205.9 C1003.5,1206.2 1004.8,1206.4 1006.1,1206.5 C1007.4,1206.6 1008.7,1206.5 1010.0,1206.5 C1011.3,1206.4 1012.6,1206.2 1014.0,1206.0 C1015.3,1205.8 1016.6,1205.5 1017.9,1205.2 C1019.2,1204.9 1020.5,1204.6 1021.7,1204.3 C1023.0,1204.0 1024.3,1203.7 1025.6,1203.3 C1026.9,1203.0 1028.2,1202.7 1029.5,1202.4 C1030.8,1202.2 1032.1,1201.9 1033.4,1201.8 C1034.7,1201.6 1036.1,1201.5 1037.4,1201.5 C1038.7,1201.5 1040.0,1201.6 1041.3,1201.8 C1042.6,1202.0 1043.9,1202.3 1045.1,1202.7 C1046.4,1203.1 1047.6,1203.5 1048.8,1204.0 C1050.1,1204.6 1051.3,1205.1 1052.4,1205.8 C1053.6,1206.4 1054.8,1207.0 1055.9,1207.8 C1057.0,1208.5 1058.1,1209.2 1059.2,1210.0 C1060.2,1210.8 1061.3,1211.6 1062.3,1212.5 C1063.3,1213.4 1064.3,1214.3 1065.2,1215.2 C1066.2,1216.1 1067.1,1217.1 1068.0,1218.1 C1068.9,1219.0 1069.8,1220.0 1070.6,1221.1 C1071.5,1222.1 1072.3,1223.1 1073.1,1224.2 C1073.9,1225.3 1074.7,1226.3 1075.5,1227.4 C1076.2,1228.5 1077.0,1229.6 1077.7,1230.7 C1078.5,1231.8 1079.2,1232.9 1079.9,1234.0 C1080.7,1235.2 1081.4,1236.3 1082.1,1237.4 C1082.8,1238.6 1083.4,1239.7 1084.1,1240.9 C1084.8,1242.0 1085.4,1243.2 1086.1,1244.3 C1086.8,1245.5 1087.4,1246.7 1088.0,1247.8 C1088.7,1249.0 1089.3,1250.2 1089.9,1251.4 C1090.5,1252.6 1091.1,1253.7 1091.7,1254.9 C1092.3,1256.1 1092.9,1257.3 1093.5,1258.5 C1094.1,1259.7 1094.7,1260.9 1095.3,1262.1 C1095.9,1263.3 1096.4,1264.5 1097.0,1265.7 C1097.6,1266.9 1098.2,1268.1 1098.7,1269.3 C1099.3,1270.5 1099.8,1271.8 1100.4,1273.0 C1100.9,1274.2 1101.5,1275.4 1102.0,1276.6 C1102.5,1277.9 1103.0,1279.1 1103.5,1280.3 C1104.0,1281.6 1104.5,1282.8 1105.0,1284.0 C1105.5,1285.3 1106.0,1286.5 1106.5,1287.8 C1107.0,1289.0 1107.4,1290.3 1107.9,1291.5 C1108.4,1292.7 1108.9,1294.0 1109.4,1295.2 C1109.9,1296.4 1110.5,1297.7 1111.0,1298.9 C1111.5,1300.1 1112.0,1301.3 1112.6,1302.6 C1113.1,1303.8 1113.7,1305.0 1114.2,1306.2 C1114.8,1307.4 1115.4,1308.6 1115.9,1309.8 C1116.5,1311.0 1117.1,1312.2 1117.7,1313.4 C1118.3,1314.6 1118.9,1315.8 1119.5,1317.0 C1120.1,1318.2 1120.7,1319.4 1121.3,1320.6 C1121.9,1321.8 1122.5,1322.9 1123.1,1324.1 C1123.8,1325.3 1124.4,1326.5 1125.0,1327.6 C1125.7,1328.8 1126.3,1330.0 1126.9,1331.1 C1127.6,1332.3 1128.2,1333.5 1128.9,1334.7 C1129.5,1335.8 1130.2,1337.0 1130.8,1338.1 C1131.5,1339.3 1132.2,1340.5 1132.9,1341.6 C1133.5,1342.7 1134.3,1343.9 1135.0,1345.0 C1135.8,1346.0 1136.5,1347.1 1137.4,1348.2 C1138.2,1349.2 1139.0,1350.2 1139.9,1351.2 C1140.9,1352.1 1141.8,1353.1 1142.8,1354.0 C1143.8,1354.8 1144.8,1355.7 1145.9,1356.4 C1147.0,1357.2 1148.1,1357.9 1149.2,1358.6 C1150.4,1359.2 1151.6,1359.8 1152.8,1360.3 C1154.0,1360.8 1155.2,1361.3 1156.5,1361.6 C1157.8,1362.0 1159.1,1362.3 1160.4,1362.5 C1161.7,1362.6 1163.0,1362.7 1164.3,1362.8 C1165.6,1362.9 1167.0,1362.9 1168.3,1362.8 C1169.6,1362.8 1170.9,1362.7 1172.3,1362.7 C1173.6,1362.6 1174.9,1362.5 1176.3,1362.4 C1177.6,1362.3 1178.9,1362.2 1180.3,1362.1 C1181.6,1362.0 1182.9,1361.8 1184.2,1361.7 C1185.6,1361.5 1186.9,1361.4 1188.2,1361.2 C1189.5,1361.1 1190.9,1360.9 1192.2,1360.8 C1193.5,1360.6 1194.8,1360.5 1196.2,1360.4 C1197.5,1360.4 1198.8,1360.4 1200.1,1360.4 C1201.5,1360.4 1202.8,1360.5 1204.1,1360.7 C1205.4,1360.8 1206.7,1361.0 1208.0,1361.2 C1209.4,1361.5 1210.7,1361.8 1212.0,1362.0 C1213.3,1362.3 1214.6,1362.6 1215.9,1362.9 C1217.2,1363.2 1218.5,1363.5 1219.8,1363.8 C1221.1,1364.1 1222.4,1364.4 1223.7,1364.7 C1224.9,1365.1 1226.2,1365.4 1227.5,1365.7 C1228.8,1366.0 1230.1,1366.3 1231.4,1366.6 C1232.7,1366.9 1234.0,1367.2 1235.3,1367.5 C1236.6,1367.8 1237.9,1368.0 1239.2,1368.3 C1240.6,1368.5 1241.9,1368.7 1243.2,1368.8 C1244.5,1368.9 1245.8,1369.0 1247.2,1369.1 C1248.5,1369.1 1249.8,1369.1 1251.2,1369.1 C1252.5,1369.1 1253.8,1369.0 1255.2,1368.9 C1256.5,1368.8 1257.8,1368.7 1259.1,1368.6 C1260.5,1368.4 1261.8,1368.3 1263.1,1368.1 C1264.4,1368.0 1265.8,1367.8 1267.1,1367.6 C1268.4,1367.5 1269.7,1367.3 1271.1,1367.1 C1272.4,1367.0 1273.7,1366.8 1275.0,1366.6 C1276.3,1366.4 1277.7,1366.2 1279.0,1366.0 C1280.3,1365.8 1281.6,1365.6 1282.9,1365.4 C1284.2,1365.2 1285.6,1365.0 1286.9,1364.8 C1288.2,1364.5 1289.5,1364.3 1290.8,1364.1 C1292.1,1363.8 1293.4,1363.6 1294.8,1363.3 C1296.1,1363.1 1297.4,1362.8 1298.7,1362.6 C1300.0,1362.3 1301.3,1362.0 1302.6,1361.7 C1303.9,1361.5 1305.2,1361.3 1306.5,1361.2 C1307.8,1361.0 1309.1,1361.0 1310.3,1361.1 C1311.6,1361.2 1312.9,1361.4 1314.2,1361.7 C1315.5,1362.0 1316.7,1362.5 1318.0,1362.9 C1319.2,1363.4 1320.4,1363.9 1321.6,1364.4 C1322.9,1365.0 1324.1,1365.6 1325.2,1366.2 C1326.4,1366.8 1327.6,1367.4 1328.7,1368.1 C1329.9,1368.8 1331.0,1369.5 1332.1,1370.3 C1333.2,1371.0 1334.3,1371.8 1335.3,1372.6 C1336.4,1373.4 1337.4,1374.3 1338.4,1375.1 C1339.4,1376.0 1340.4,1376.9 1341.4,1377.8 C1342.4,1378.7 1343.3,1379.6 1344.3,1380.5 C1345.3,1381.4 1346.3,1382.3 1347.3,1383.2 C1348.3,1384.1 1349.2,1385.0 1350.2,1385.9 C1351.2,1386.8 1352.2,1387.7 1353.2,1388.6 C1354.2,1389.5 1355.2,1390.4 1356.1,1391.3 C1357.1,1392.2 1358.1,1393.1 1359.0,1394.1 C1360.0,1395.0 1360.9,1395.9 1361.9,1396.9 C1362.8,1397.8 1363.8,1398.7 1364.7,1399.7 C1365.7,1400.6 1366.6,1401.6 1367.5,1402.5 C1368.5,1403.5 1369.4,1404.4 1370.4,1405.4 C1371.3,1406.3 1372.2,1407.2 1373.2,1408.2 C1374.1,1409.1 1375.1,1410.1 1376.0,1411.0 C1377.0,1412.0 1377.9,1412.9 1378.8,1413.9 C1379.8,1414.8 1380.7,1415.7 1381.7,1416.7 C1382.6,1417.6 1383.5,1418.6 1384.5,1419.5 C1385.4,1420.5 1386.4,1421.4 1387.3,1422.3 C1388.3,1423.3 1389.2,1424.2 1390.2,1425.1 C1391.2,1426.0 1392.2,1426.9 1393.2,1427.8 C1394.2,1428.7 1395.2,1429.5 1396.2,1430.4 C1397.2,1431.2 1398.3,1432.1 1399.3,1432.9 C1400.4,1433.8 1401.4,1434.6 1402.4,1435.4 C1403.5,1436.2 1404.5,1437.1 1405.6,1437.9 C1406.6,1438.7 1407.7,1439.5 1408.7,1440.4 C1409.8,1441.2 1410.8,1442.0 1411.8,1442.9 C1412.9,1443.7 1413.9,1444.6 1414.9,1445.4 C1415.9,1446.3 1416.9,1447.2 1417.9,1448.0 C1418.9,1448.9 1419.9,1449.8 1420.9,1450.7 C1421.9,1451.6 1422.9,1452.5 1423.9,1453.4 C1424.9,1454.3 1425.9,1455.2 1426.9,1456.1 C1427.9,1457.0 1428.8,1457.9 1429.8,1458.8 C1430.8,1459.7 1431.8,1460.6 1432.8,1461.5 C1433.8,1462.3 1434.8,1463.2 1435.8,1464.1 C1436.8,1465.0 1437.8,1465.9 1438.8,1466.7 C1439.8,1467.6 1440.8,1468.5 1441.9,1469.3 C1442.9,1470.1 1443.9,1471.0 1445.0,1471.8 C1446.0,1472.6 1447.1,1473.4 1448.2,1474.2 C1449.3,1475.0 1450.3,1475.8 1451.5,1476.5 C1452.6,1477.2 1453.7,1478.0 1454.8,1478.7 C1456.0,1479.4 1457.1,1480.0 1458.3,1480.6 C1459.5,1481.3 1460.6,1481.8 1461.9,1482.4 C1463.1,1482.9 1464.3,1483.4 1465.6,1483.8 C1466.8,1484.2 1468.1,1484.6 1469.4,1484.9 C1470.7,1485.2 1472.0,1485.5 1473.3,1485.6 C1474.6,1485.8 1475.9,1485.9 1477.2,1486.0 C1478.6,1486.0 1479.9,1486.0 1481.2,1485.9 C1482.6,1485.9 1483.9,1485.8 1485.2,1485.6 C1486.5,1485.5 1487.8,1485.3 1489.2,1485.1 C1490.5,1484.9 1491.8,1484.6 1493.1,1484.3 C1494.4,1484.0 1495.6,1483.7 1496.9,1483.3 C1498.2,1482.9 1499.4,1482.4 1500.6,1481.9 C1501.8,1481.4 1503.0,1480.8 1504.2,1480.2 C1505.4,1479.6 1506.6,1478.9 1507.7,1478.3 C1508.9,1477.7 1510.1,1477.1 1511.3,1476.5 C1512.5,1475.9 1513.7,1475.4 1514.9,1474.9 C1516.1,1474.3 1517.4,1473.9 1518.6,1473.4 C1519.9,1473.0 1521.1,1472.5 1522.4,1472.1 C1523.7,1471.8 1525.0,1471.4 1526.3,1471.1 C1527.6,1470.8 1528.9,1470.5 1530.2,1470.3 C1531.5,1470.0 1532.8,1469.8 1534.1,1469.6 C1535.4,1469.4 1536.8,1469.2 1538.1,1469.1 C1539.4,1469.0 1540.7,1468.8 1542.1,1468.7 C1543.4,1468.7 1544.7,1468.6 1546.0,1468.5 C1547.4,1468.5 1548.7,1468.5 1550.0,1468.5 C1551.4,1468.5 1552.7,1468.6 1554.0,1468.7 C1555.4,1468.8 1556.7,1468.9 1558.0,1469.0 C1559.3,1469.2 1560.6,1469.4 1561.9,1469.7 C1563.2,1469.9 1564.5,1470.2 1565.8,1470.5 C1567.1,1470.9 1568.4,1471.3 1569.7,1471.7 C1570.9,1472.1 1572.2,1472.5 1573.4,1473.0 C1574.7,1473.5 1575.9,1474.0 1577.1,1474.5 C1578.4,1475.0 1579.6,1475.6 1580.8,1476.2 C1582.0,1476.7 1583.1,1477.4 1584.3,1478.0 C1585.5,1478.6 1586.7,1479.3 1587.8,1479.9 C1589.0,1480.5 1590.2,1481.2 1591.3,1481.8 C1592.5,1482.4 1593.7,1483.0 1594.9,1483.7 C1596.1,1484.3 1597.3,1484.9 1598.5,1485.5 C1599.7,1486.0 1600.9,1486.6 1602.1,1487.2 C1603.3,1487.7 1604.5,1488.3 1605.7,1488.8 C1607.0,1489.3 1608.2,1489.8 1609.4,1490.2 C1610.7,1490.7 1612.0,1491.1 1613.2,1491.5 C1614.5,1491.9 1615.8,1492.2 1617.1,1492.6 C1618.4,1492.9 1619.7,1493.2 1621.0,1493.5 C1622.3,1493.8 1623.6,1494.0 1624.9,1494.3 C1626.2,1494.5 1627.5,1494.7 1628.8,1494.9 C1630.2,1495.1 1631.5,1495.3 1632.8,1495.4 C1634.1,1495.6 1635.5,1495.7 1636.8,1495.8 C1638.1,1495.9 1639.4,1496.0 1640.8,1496.1 C1642.1,1496.2 1643.4,1496.3 1644.8,1496.3 C1646.1,1496.4 1647.4,1496.4 1648.8,1496.4 C1650.1,1496.4 1651.4,1496.4 1652.8,1496.4 C1654.1,1496.4 1655.4,1496.4 1656.8,1496.3 C1658.1,1496.3 1659.4,1496.2 1660.8,1496.2 C1662.1,1496.1 1663.4,1496.0 1664.7,1495.9 C1666.1,1495.8 1667.4,1495.7 1668.7,1495.5 C1670.1,1495.4 1671.4,1495.3 1672.7,1495.1 C1674.0,1494.9 1675.3,1494.7 1676.7,1494.6 C1678.0,1494.4 1679.3,1494.2 1680.6,1494.1 C1682.0,1493.9 1683.3,1493.8 1684.6,1493.6 C1685.9,1493.5 1687.3,1493.4 1688.6,1493.3 C1689.9,1493.2 1691.3,1493.2 1692.6,1493.1 C1693.9,1493.0 1695.2,1492.9 1696.6,1492.8 C1697.9,1492.7 1699.2,1492.6 1700.5,1492.4 C1701.9,1492.3 1703.2,1492.0 1704.5,1491.8 C1705.8,1491.6 1707.1,1491.3 1708.4,1491.1 C1709.7,1490.8 1711.0,1490.5 1712.3,1490.2 C1713.6,1490.0 1714.9,1489.7 1716.2,1489.4 C1717.6,1489.2 1718.9,1488.9 1720.2,1488.7 C1721.5,1488.4 1722.8,1488.2 1724.1,1488.0 C1725.4,1487.8 1726.8,1487.6 1728.1,1487.4 C1729.4,1487.3 1730.7,1487.1 1732.0,1487.0 C1733.4,1486.8 1734.7,1486.7 1736.0,1486.6 C1737.4,1486.5 1738.7,1486.4 1740.0,1486.3 C1741.3,1486.2 1742.7,1486.2 1744.0,1486.1 C1745.3,1486.1 1746.7,1486.1 1748.0,1486.1 C1749.3,1486.1 1750.7,1486.2 1752.0,1486.2 C1753.3,1486.3 1754.7,1486.4 1756.0,1486.5 C1757.3,1486.6 1758.7,1486.7 1760.0,1486.8 C1761.3,1487.0 1762.6,1487.1 1763.9,1487.3 C1765.3,1487.5 1766.6,1487.7 1767.9,1487.9 C1769.2,1488.1 1770.5,1488.3 1771.9,1488.5 C1773.2,1488.8 1774.5,1489.0 1775.8,1489.3 C1777.1,1489.6 1778.4,1489.8 1779.7,1490.1 C1781.0,1490.4 1782.3,1490.8 1783.6,1491.1 C1784.9,1491.4 1786.2,1491.8 1787.4,1492.1 C1788.7,1492.5 1790.0,1492.9 1791.3,1493.3 C1792.5,1493.7 1793.8,1494.2 1795.0,1494.6 C1796.3,1495.1 1797.5,1495.5 1798.8,1496.0 C1800.0,1496.5 1801.3,1497.0 1802.5,1497.4 C1803.8,1497.9 1805.0,1498.3 1806.3,1498.7 C1807.5,1499.1 1808.8,1499.5 1810.1,1499.9 C1811.4,1500.2 1812.7,1500.5 1814.0,1500.7 C1815.3,1500.9 1816.6,1501.1 1818.0,1501.2 C1819.3,1501.4 1820.6,1501.5 1821.9,1501.6 C1823.3,1501.6 1824.6,1501.7 1825.9,1501.7 C1827.3,1501.7 1828.6,1501.7 1829.9,1501.7 C1831.3,1501.7 1832.6,1501.7 1833.9,1501.6 C1835.3,1501.6 1836.6,1501.5 1837.9,1501.5 C1839.2,1501.4 1840.6,1501.3 1841.9,1501.2 C1843.2,1501.1 1844.6,1500.9 1845.9,1500.8 C1847.2,1500.7 1848.5,1500.5 1849.9,1500.4 C1851.2,1500.3 1852.5,1500.1 1853.9,1500.0 C1855.2,1499.9 1856.5,1499.8 1857.8,1499.8 C1859.2,1499.7 1860.5,1499.7 1861.8,1499.7 C1863.2,1499.7 1864.5,1499.7 1865.8,1499.7 C1867.2,1499.8 1868.5,1499.9 1869.8,1500.0 C1871.1,1500.1 1872.5,1500.2 1873.8,1500.4 C1875.1,1500.5 1876.4,1500.7 1877.8,1500.8 C1879.1,1501.0 1880.4,1501.1 1881.7,1501.3 C1883.1,1501.5 1884.4,1501.6 1885.7,1501.8 C1887.0,1501.9 1888.4,1502.1 1889.7,1502.3 C1891.0,1502.4 1892.3,1502.6 1893.7,1502.8 C1895.0,1502.9 1896.3,1503.1 1897.6,1503.2 C1899.0,1503.4 1900.3,1503.5 1901.6,1503.6 C1902.9,1503.7 1904.3,1503.7 1905.6,1503.8 C1906.9,1503.8 1908.3,1503.8 1909.6,1503.7 C1910.9,1503.7 1912.2,1503.5 1913.6,1503.4 C1914.9,1503.3 1916.2,1503.1 1917.5,1502.9 C1918.9,1502.8 1920.2,1502.6 1921.5,1502.4 C1922.8,1502.3 1924.1,1502.1 1925.5,1502.0 C1926.8,1501.9 1928.1,1501.8 1929.4,1501.8 C1930.8,1501.7 1932.1,1501.7 1933.4,1501.8 C1934.8,1501.8 1936.1,1501.9 1937.4,1502.0 C1938.8,1502.1 1940.1,1502.2 1941.4,1502.3 C1942.7,1502.4 1944.1,1502.6 1945.4,1502.7 C1946.7,1502.8 1948.0,1502.9 1949.4,1503.0 C1950.7,1503.1 1952.0,1503.1 1953.4,1503.2 C1954.7,1503.2 1956.0,1503.2 1957.4,1503.2 C1958.7,1503.1 1960.0,1503.1 1961.4,1503.0 C1962.7,1503.0 1964.0,1502.9 1965.4,1502.8 C1966.7,1502.7 1968.0,1502.6 1969.3,1502.5 C1970.7,1502.5 1972.0,1502.4 1973.3,1502.3 C1974.7,1502.2 1976.0,1502.1 1977.3,1502.0 C1978.7,1501.9 1980.0,1501.8 1981.3,1501.7 C1982.6,1501.6 1984.0,1501.5 1985.3,1501.4 C1986.6,1501.3 1988.0,1501.2 1989.3,1501.1 C1990.6,1501.1 1992.0,1501.0 1993.3,1501.0 C1994.6,1501.0 1995.9,1501.0 1997.3,1501.1 C1998.6,1501.2 1999.9,1501.4 2001.2,1501.6 C2002.5,1501.8 2003.8,1502.1 2005.1,1502.3 C2006.4,1502.6 2007.7,1503.0 2009.0,1503.3 C2010.3,1503.7 2011.6,1504.1 2012.8,1504.4 C2014.1,1504.7 2015.4,1505.1 2016.7,1505.4 C2018.0,1505.7 2019.3,1506.0 2020.6,1506.2 C2021.9,1506.4 2023.2,1506.6 2024.6,1506.7 C2025.9,1506.9 2027.2,1506.9 2028.5,1507.0 C2029.9,1507.1 2031.2,1507.1 2032.5,1507.1 C2033.9,1507.1 2035.2,1507.0 2036.5,1507.0 C2037.9,1507.0 2039.2,1506.9 2040.5,1506.9 C2041.9,1506.8 2043.2,1506.8 2044.5,1506.7 C2045.9,1506.6 2047.2,1506.5 2048.5,1506.4 C2049.8,1506.3 2051.2,1506.2 2052.5,1506.0 C2053.8,1505.9 2055.2,1505.8 2056.5,1505.7 C2057.8,1505.6 2059.1,1505.4 2060.5,1505.3 C2061.8,1505.3 2063.1,1505.2 2064.5,1505.2 C2065.8,1505.2 2067.1,1505.2 2068.4,1505.2 C2069.8,1505.3 2071.1,1505.4 2072.4,1505.5 C2073.8,1505.6 2075.1,1505.8 2076.4,1506.0 C2077.7,1506.2 2079.0,1506.4 2080.3,1506.7 C2081.6,1506.9 2083.0,1507.2 2084.3,1507.4 C2085.6,1507.7 2086.9,1508.0 2088.2,1508.3 C2089.4,1508.6 2090.7,1509.0 2092.0,1509.3 C2093.3,1509.7 2094.6,1510.1 2095.9,1510.5 C2097.1,1510.9 2098.4,1511.3 2099.7,1511.7 C2100.9,1512.1 2102.2,1512.6 2103.5,1512.9 C2104.7,1513.3 2106.0,1513.7 2107.3,1514.1 C2108.6,1514.4 2109.9,1514.7 2111.2,1515.0 C2112.5,1515.2 2113.8,1515.4 2115.1,1515.6 C2116.4,1515.8 2117.7,1515.9 2119.1,1516.1 C2120.4,1516.3 2121.7,1516.4 2123.0,1516.6 C2124.3,1516.8 2125.7,1517.0 2127.0,1517.3 C2128.3,1517.5 2129.6,1517.8 2130.9,1518.1 C2132.2,1518.4 2133.4,1518.8 2134.7,1519.2 C2136.0,1519.5 2137.3,1519.9 2138.5,1520.3 C2139.8,1520.7 2141.1,1521.1 2142.4,1521.5 C2143.6,1521.9 2144.9,1522.3 2146.2,1522.7 C2147.5,1523.1 2148.7,1523.5 2150.0,1523.9 C2151.3,1524.2 2152.6,1524.6 2153.9,1525.0 C2155.1,1525.3 2156.4,1525.7 2157.7,1526.0 C2159.0,1526.4 2160.3,1526.7 2161.6,1527.1 C2162.9,1527.4 2164.2,1527.7 2165.5,1528.0 C2166.8,1528.3 2168.1,1528.6 2169.4,1528.9 C2170.7,1529.2 2172.0,1529.4 2173.3,1529.7 C2174.6,1529.9 2175.9,1530.1 2177.2,1530.3 C2178.6,1530.5 2179.9,1530.6 2181.2,1530.8 C2182.5,1530.9 2183.9,1531.0 2185.2,1531.1 C2186.5,1531.3 2187.8,1531.4 2189.2,1531.5 C2190.5,1531.6 2191.8,1531.7 2193.2,1531.8 C2194.5,1532.0 2195.8,1532.1 2197.1,1532.2 C2198.5,1532.3 2199.8,1532.5 2201.1,1532.6 C2202.5,1532.7 2203.8,1532.9 2205.1,1533.0 C2206.4,1533.1 2207.8,1533.3 2209.1,1533.4 C2210.4,1533.5 2211.7,1533.7 2213.1,1533.8 C2214.4,1533.9 2215.7,1534.1 2217.1,1534.2 C2218.4,1534.3 2219.7,1534.4 2221.0,1534.6 C2222.4,1534.7 2223.7,1534.8 2225.0,1534.9 C2226.3,1535.1 2227.7,1535.2 2229.0,1535.3 C2230.3,1535.4 2231.7,1535.5 2233.0,1535.6 C2234.3,1535.7 2235.7,1535.8 2237.0,1535.8 C2238.3,1535.9 2239.6,1536.0 2241.0,1536.0 C2242.3,1536.0 2243.6,1536.0 2245.0,1536.0 C2246.3,1536.0 2247.6,1535.9 2249.0,1535.9 C2250.3,1535.8 2251.6,1535.8 2253.0,1535.7 C2254.3,1535.6 2255.6,1535.5 2257.0,1535.4 C2258.3,1535.3 2259.6,1535.1 2260.9,1534.9 C2262.2,1534.8 2263.6,1534.6 2264.9,1534.4 C2266.2,1534.2 2267.5,1533.9 2268.8,1533.7 C2270.1,1533.4 2271.4,1533.1 2272.7,1532.8 C2274.0,1532.5 2275.3,1532.1 2276.6,1531.7 C2277.8,1531.4 2279.1,1530.9 2280.4,1530.5 C2281.6,1530.1 2282.9,1529.6 2284.1,1529.2 C2285.4,1528.7 2286.6,1528.2 2287.8,1527.6 C2289.1,1527.1 2290.3,1526.6 2291.5,1526.0 C2292.7,1525.5 2293.9,1524.9 2295.1,1524.3 C2296.3,1523.7 2297.5,1523.2 2298.7,1522.6 C2299.9,1522.0 2301.1,1521.4 2302.3,1520.8 C2303.5,1520.2 2305.0,1519.5 2305.9,1519.1 C2306.8,1518.6 2307.4,1518.3 2307.7,1518.2" stroke="#00ff00"/>
<path d="M306.0,1571.3 C306.7,1571.2 308.6,1570.9 309.9,1570.6 C311.3,1570.4 312.6,1570.2 313.9,1570.0 C315.2,1569.8 316.5,1569.5 317.8,1569.3 C319.2,1569.1 320.5,1568.9 321.8,1568.7 C323.1,1568.6 324.4,1568.4 325.8,1568.2 C327.1,1568.1 328.4,1568.0 329.8,1567.9 C331.1,1567.7 332.4,1567.6 333.7,1567.5 C335.1,1567.5 336.4,1567.4 337.7,1567.3 C339.1,1567.2 340.4,1567.1 341.7,1567.0 C343.1,1567.0 344.4,1566.9 345.7,1566.8 C347.0,1566.7 348.4,1566.6 349.7,1566.4 C351.0,1566.3 352.4,1566.2 353.7,1566.0 C355.0,1565.8 356.3,1565.7 357.6,1565.5 C359.0,1565.3 360.3,1565.0 361.6,1564.8 C362.9,1564.5 364.2,1564.2 365.4,1563.8 C366.7,1563.5 368.0,1563.1 369.2,1562.6 C370.5,1562.1 371.7,1561.6 372.9,1561.1 C374.1,1560.5 375.3,1560.0 376.5,1559.4 C377.7,1558.9 378.9,1558.3 380.2,1557.7 C381.4,1557.2 382.6,1556.7 383.8,1556.1 C385.0,1555.6 386.3,1555.1 387.5,1554.5 C388.7,1554.0 389.9,1553.5 391.1,1553.0 C392.4,1552.4 393.6,1551.9 394.8,1551.4 C395.9,1550.8 397.1,1550.2 398.2,1549.5 C399.3,1548.8 400.3,1548.1 401.2,1547.2 C402.2,1546.3 403.1,1545.4 403.9,1544.4 C404.8,1543.4 405.6,1542.3 406.5,1541.3 C407.3,1540.3 408.2,1539.3 409.1,1538.4 C410.0,1537.5 411.0,1536.6 412.0,1535.9 C413.1,1535.1 414.2,1534.5 415.2,1533.7 C416.3,1533.0 417.4,1532.4 418.4,1531.6 C419.4,1530.8 420.4,1529.9 421.3,1529.0 C422.2,1528.0 423.0,1527.0 423.8,1525.9 C424.5,1524.9 425.2,1523.7 426.0,1522.6 C426.7,1521.5 427.3,1520.3 428.1,1519.2 C428.8,1518.1 429.6,1517.1 430.4,1516.0 C431.2,1515.0 432.1,1514.0 433.0,1513.1 C433.8,1512.1 434.8,1511.1 435.7,1510.2 C436.5,1509.2 437.4,1508.2 438.3,1507.1 C439.1,1506.1 439.9,1505.1 440.7,1504.0 C441.6,1503.0 442.4,1501.9 443.2,1500.9 C444.1,1499.9 444.9,1498.9 445.7,1497.8 C446.6,1496.8 447.4,1495.7 448.2,1494.7 C449.0,1493.6 449.8,1492.5 450.6,1491.5 C451.4,1490.4 452.1,1489.3 452.9,1488.2 C453.7,1487.2 454.5,1486.1 455.4,1485.1 C456.2,1484.1 457.1,1483.1 458.0,1482.1 C458.9,1481.2 459.9,1480.2 460.9,1479.3 C461.8,1478.4 462.8,1477.5 463.8,1476.6 C464.7,1475.6 465.6,1474.7 466.6,1473.7 C467.5,1472.8 468.3,1471.8 469.2,1470.8 C470.1,1469.8 471.0,1468.8 471.9,1467.8 C472.8,1466.8 473.7,1465.9 474.7,1465.0 C475.6,1464.1 476.6,1463.2 477.7,1462.4 C478.7,1461.6 479.8,1460.8 480.9,1460.1 C482.0,1459.3 483.2,1458.6 484.3,1457.9 C485.4,1457.2 486.5,1456.5 487.6,1455.7 C488.8,1455.0 489.9,1454.3 491.0,1453.5 C492.1,1452.8 493.2,1452.0 494.3,1451.2 C495.3,1450.5 496.4,1449.7 497.5,1448.9 C498.6,1448.1 499.6,1447.3 500.7,1446.5 C501.7,1445.6 502.7,1444.8 503.7,1443.9 C504.7,1443.0 505.7,1442.1 506.6,1441.2 C507.6,1440.2 508.5,1439.3 509.4,1438.3 C510.4,1437.4 511.3,1436.5 512.3,1435.7 C513.3,1434.8 514.4,1434.0 515.5,1433.3 C516.5,1432.5 517.6,1431.7 518.7,1430.9 C519.7,1430.1 520.8,1429.3 521.8,1428.4 C522.8,1427.6 523.7,1426.6 524.6,1425.7 C525.5,1424.7 526.4,1423.7 527.2,1422.7 C528.1,1421.6 528.8,1420.6 529.6,1419.5 C530.3,1418.4 531.0,1417.2 531.7,1416.1 C532.4,1415.0 533.1,1413.8 533.8,1412.7 C534.5,1411.6 535.2,1410.4 535.9,1409.3 C536.6,1408.2 537.4,1407.1 538.2,1406.0 C538.9,1404.9 539.7,1403.9 540.6,1402.8 C541.4,1401.7 542.2,1400.7 543.0,1399.6 C543.8,1398.6 544.7,1397.6 545.5,1396.5 C546.3,1395.5 547.2,1394.4 548.0,1393.4 C548.8,1392.3 549.7,1391.3 550.5,1390.2 C551.3,1389.2 552.1,1388.2 552.9,1387.1 C553.8,1386.0 554.6,1385.0 555.4,1383.9 C556.2,1382.9 557.0,1381.8 557.8,1380.7 C558.6,1379.7 559.4,1378.6 560.2,1377.5 C561.0,1376.4 561.8,1375.4 562.6,1374.3 C563.4,1373.2 564.1,1372.2 564.9,1371.1 C565.7,1370.0 566.5,1368.9 567.3,1367.9 C568.1,1366.8 568.9,1365.7 569.7,1364.6 C570.5,1363.6 571.3,1362.5 572.1,1361.4 C572.9,1360.3 573.7,1359.3 574.5,1358.2 C575.3,1357.1 576.1,1356.1 576.9,1355.0 C577.7,1353.9 578.5,1352.9 579.3,1351.8 C580.1,1350.8 580.9,1349.7 581.7,1348.6 C582.5,1347.6 583.3,1346.5 584.1,1345.5 C584.9,1344.4 585.7,1343.3 586.5,1342.3 C587.3,1341.2 588.1,1340.1 588.9,1339.1 C589.7,1338.0 590.5,1336.9 591.3,1335.8 C592.1,1334.7 592.9,1333.7 593.6,1332.6 C594.4,1331.5 595.1,1330.4 595.8,1329.2 C596.6,1328.1 597.3,1327.0 598.0,1325.9 C598.7,1324.7 599.4,1323.6 600.1,1322.5 C600.8,1321.3 601.5,1320.2 602.3,1319.1 C603.0,1318.0 603.8,1316.9 604.6,1315.9 C605.4,1314.8 606.3,1313.8 607.2,1312.8 C608.0,1311.8 608.9,1310.8 609.8,1309.9 C610.7,1308.9 611.7,1307.9 612.6,1306.9 C613.5,1306.0 614.4,1305.0 615.3,1304.0 C616.1,1303.0 617.0,1302.0 617.8,1300.9 C618.7,1299.9 619.5,1298.8 620.2,1297.7 C621.0,1296.7 621.8,1295.5 622.5,1294.4 C623.2,1293.3 623.9,1292.2 624.6,1291.1 C625.4,1289.9 626.0,1288.8 626.8,1287.7 C627.5,1286.5 628.2,1285.4 628.9,1284.3 C629.6,1283.2 630.4,1282.1 631.1,1281.0 C631.9,1279.9 632.7,1278.8 633.4,1277.7 C634.2,1276.6 634.9,1275.5 635.7,1274.4 C636.4,1273.3 637.1,1272.1 637.8,1271.0 C638.5,1269.9 639.2,1268.7 639.8,1267.6 C640.5,1266.4 641.1,1265.2 641.7,1264.0 C642.4,1262.9 642.9,1261.7 643.5,1260.5 C644.1,1259.3 644.7,1258.1 645.3,1256.9 C645.9,1255.7 646.4,1254.5 647.0,1253.3 C647.6,1252.1 648.2,1250.8 648.7,1249.6 C649.3,1248.4 649.9,1247.2 650.5,1246.0 C651.0,1244.8 651.6,1243.6 652.2,1242.4 C652.8,1241.2 653.4,1240.0 654.0,1238.9 C654.6,1237.7 655.2,1236.5 655.8,1235.3 C656.4,1234.1 657.0,1232.9 657.6,1231.7 C658.2,1230.5 658.8,1229.3 659.4,1228.1 C660.0,1227.0 660.6,1225.8 661.3,1224.6 C661.9,1223.4 662.5,1222.2 663.1,1221.0 C663.7,1219.9 664.4,1218.7 665.0,1217.5 C665.6,1216.3 666.3,1215.2 666.9,1214.0 C667.5,1212.8 668.2,1211.7 668.9,1210.5 C669.5,1209.3 670.2,1208.2 670.9,1207.0 C671.5,1205.9 672.2,1204.7 672.9,1203.6 C673.6,1202.4 674.2,1201.3 674.9,1200.1 C675.6,1199.0 676.3,1197.9 677.0,1196.7 C677.7,1195.6 678.4,1194.5 679.1,1193.3 C679.8,1192.2 680.5,1191.1 681.3,1189.9 C682.0,1188.8 682.7,1187.7 683.4,1186.6 C684.2,1185.5 684.9,1184.4 685.6,1183.2 C686.4,1182.1 687.1,1181.0 687.9,1179.9 C688.6,1178.8 689.4,1177.7 690.1,1176.6 C690.9,1175.5 691.7,1174.4 692.5,1173.4 C693.2,1172.3 694.0,1171.2 694.9,1170.2 C695.7,1169.1 696.5,1168.1 697.4,1167.1 C698.3,1166.1 699.2,1165.1 700.1,1164.1 C701.0,1163.1 701.9,1162.2 702.8,1161.2 C703.8,1160.3 704.7,1159.4 705.7,1158.5 C706.7,1157.6 707.7,1156.7 708.7,1155.8 C709.7,1155.0 710.8,1154.1 711.8,1153.3 C712.9,1152.5 714.0,1151.8 715.1,1151.1 C716.3,1150.4 717.4,1149.8 718.6,1149.3 C719.8,1148.8 721.1,1148.4 722.3,1148.0 C723.6,1147.7 724.9,1147.5 726.2,1147.3 C727.5,1147.1 728.8,1147.1 730.2,1147.0 C731.5,1147.0 732.8,1147.0 734.2,1147.0 C735.5,1146.9 736.8,1146.9 738.1,1146.9 C739.5,1146.8 740.8,1146.7 742.1,1146.5 C743.4,1146.4 744.7,1146.2 746.0,1145.9 C747.3,1145.6 748.6,1145.3 749.9,1144.9 C751.2,1144.6 752.4,1144.2 753.7,1143.7 C754.9,1143.2 756.2,1142.7 757.4,1142.2 C758.6,1141.6 759.8,1141.0 760.9,1140.4 C762.1,1139.7 763.2,1139.1 764.3,1138.3 C765.5,1137.6 766.6,1136.9 767.6,1136.1 C768.7,1135.3 769.8,1134.5 770.9,1133.7 C771.9,1132.9 773.0,1132.1 774.0,1131.2 C775.0,1130.4 776.1,1129.5 777.1,1128.7 C778.1,1127.8 779.1,1127.0 780.1,1126.1 C781.2,1125.3 782.2,1124.4 783.2,1123.5 C784.2,1122.7 785.2,1121.8 786.2,1120.9 C787.2,1120.0 788.2,1119.2 789.2,1118.3 C790.2,1117.4 791.2,1116.5 792.2,1115.6 C793.2,1114.7 794.1,1113.7 795.1,1112.8 C796.0,1111.9 797.0,1111.0 798.0,1110.1 C799.0,1109.2 800.0,1108.3 801.1,1107.5 C802.1,1106.7 803.2,1106.0 804.3,1105.3 C805.4,1104.7 806.6,1104.1 807.8,1103.6 C809.0,1103.1 810.3,1102.8 811.6,1102.5 C812.9,1102.3 814.2,1102.1 815.5,1102.1 C816.8,1102.0 818.1,1102.1 819.4,1102.2 C820.7,1102.3 822.0,1102.5 823.3,1102.8 C824.6,1103.1 825.9,1103.5 827.1,1103.9 C828.4,1104.4 829.6,1104.9 830.8,1105.4 C832.0,1105.9 833.2,1106.5 834.4,1107.2 C835.6,1107.8 836.7,1108.4 837.9,1109.1 C839.0,1109.8 840.1,1110.6 841.2,1111.3 C842.3,1112.1 843.3,1112.9 844.4,1113.7 C845.4,1114.5 846.5,1115.4 847.5,1116.3 C848.5,1117.1 849.5,1118.0 850.5,1118.9 C851.5,1119.8 852.5,1120.7 853.4,1121.6 C854.4,1122.5 855.3,1123.5 856.3,1124.4 C857.2,1125.3 858.2,1126.3 859.1,1127.3 C860.0,1128.2 860.9,1129.2 861.8,1130.2 C862.7,1131.2 863.5,1132.2 864.4,1133.3 C865.2,1134.3 866.1,1135.3 866.9,1136.3 C867.8,1137.4 868.6,1138.4 869.5,1139.4 C870.3,1140.5 871.2,1141.5 872.0,1142.5 C872.9,1143.5 873.8,1144.5 874.7,1145.5 C875.6,1146.4 876.6,1147.3 877.6,1148.2 C878.5,1149.1 879.6,1150.0 880.6,1150.8 C881.7,1151.6 882.7,1152.4 883.8,1153.2 C884.9,1153.9 886.0,1154.6 887.2,1155.3 C888.3,1156.0 889.5,1156.7 890.6,1157.4 C891.8,1158.1 892.9,1158.7 894.1,1159.4 C895.2,1160.1 896.3,1160.8 897.5,1161.5 C898.6,1162.2 899.7,1162.9 900.8,1163.6 C902.0,1164.4 903.1,1165.1 904.2,1165.9 C905.3,1166.6 906.4,1167.4 907.5,1168.2 C908.5,1168.9 909.6,1169.7 910.7,1170.5 C911.7,1171.3 912.8,1172.2 913.8,1173.0 C914.8,1173.9 915.8,1174.8 916.8,1175.7 C917.8,1176.6 918.7,1177.5 919.7,1178.5 C920.6,1179.4 921.5,1180.4 922.4,1181.4 C923.3,1182.4 924.1,1183.4 925.0,1184.4 C925.9,1185.4 926.7,1186.5 927.5,1187.5 C928.4,1188.5 929.2,1189.6 930.0,1190.6 C930.8,1191.7 931.6,1192.8 932.4,1193.8 C933.2,1194.9 934.0,1196.0 934.8,1197.0 C935.6,1198.1 936.4,1199.2 937.2,1200.3 C938.0,1201.3 938.7,1202.4 939.5,1203.5 C940.3,1204.6 941.1,1205.7 941.8,1206.8 C942.6,1207.9 943.3,1209.0 944.0,1210.1 C944.8,1211.2 945.5,1212.3 946.2,1213.5 C947.0,1214.6 947.7,1215.7 948.4,1216.8 C949.1,1218.0 949.8,1219.1 950.4,1220.3 C951.1,1221.4 951.8,1222.6 952.4,1223.7 C953.1,1224.9 953.7,1226.1 954.4,1227.2 C955.0,1228.4 955.6,1229.6 956.2,1230.8 C956.8,1232.0 957.4,1233.2 958.0,1234.4 C958.6,1235.6 959.2,1236.8 959.7,1238.0 C960.3,1239.2 960.9,1240.4 961.5,1241.6 C962.0,1242.8 962.6,1244.0 963.2,1245.2 C963.8,1246.4 964.3,1247.6 964.9,1248.8 C965.5,1250.0 966.1,1251.2 966.7,1252.4 C967.3,1253.6 967.9,1254.8 968.5,1256.0 C969.1,1257.2 969.7,1258.3 970.3,1259.5 C970.9,1260.7 971.5,1261.9 972.2,1263.1 C972.8,1264.3 973.4,1265.4 974.0,1266.6 C974.6,1267.8 975.3,1269.0 975.9,1270.1 C976.6,1271.3 977.2,1272.5 977.9,1273.6 C978.6,1274.8 979.3,1275.9 980.0,1277.0 C980.8,1278.1 981.6,1279.2 982.4,1280.2 C983.2,1281.3 984.0,1282.3 984.9,1283.3 C985.7,1284.3 986.6,1285.3 987.6,1286.3 C988.5,1287.2 989.5,1288.1 990.5,1288.9 C991.5,1289.8 992.6,1290.6 993.7,1291.2 C994.8,1291.9 996.0,1292.5 997.2,1293.0 C998.4,1293.5 999.6,1293.9 1000.9,1294.3 C1002.2,1294.6 1003.5,1294.8 1004.8,1294.9 C1006.1,1295.0 1007.4,1295.1 1008.8,1295.1 C1010.1,1295.1 1011.4,1295.0 1012.7,1294.9 C1014.1,1294.8 1015.4,1294.6 1016.7,1294.4 C1018.0,1294.2 1019.3,1294.0 1020.6,1293.7 C1021.9,1293.4 1023.2,1293.1 1024.5,1292.9 C1025.8,1292.6 1027.1,1292.3 1028.4,1292.0 C1029.7,1291.7 1031.0,1291.4 1032.3,1291.2 C1033.6,1290.9 1035.0,1290.6 1036.3,1290.4 C1037.6,1290.1 1038.9,1289.9 1040.2,1289.7 C1041.5,1289.4 1042.8,1289.2 1044.1,1289.1 C1045.5,1288.9 1046.8,1288.8 1048.1,1288.7 C1049.4,1288.6 1050.8,1288.6 1052.1,1288.6 C1053.4,1288.7 1054.7,1288.8 1056.0,1289.0 C1057.3,1289.2 1058.6,1289.5 1059.9,1289.8 C1061.2,1290.2 1062.4,1290.6 1063.6,1291.1 C1064.9,1291.6 1066.1,1292.1 1067.2,1292.8 C1068.4,1293.4 1069.5,1294.1 1070.6,1294.9 C1071.7,1295.6 1072.7,1296.4 1073.8,1297.2 C1074.8,1298.1 1075.9,1298.9 1076.9,1299.8 C1077.9,1300.6 1078.9,1301.5 1079.9,1302.4 C1080.9,1303.2 1081.9,1304.1 1083.0,1305.0 C1084.0,1305.8 1085.0,1306.7 1086.0,1307.5 C1087.0,1308.4 1088.1,1309.3 1089.1,1310.1 C1090.1,1311.0 1091.1,1311.9 1092.1,1312.8 C1093.0,1313.7 1094.0,1314.6 1094.9,1315.6 C1095.9,1316.5 1096.8,1317.5 1097.6,1318.5 C1098.5,1319.5 1099.4,1320.5 1100.2,1321.6 C1101.0,1322.6 1101.7,1323.7 1102.5,1324.8 C1103.2,1325.9 1103.9,1327.1 1104.6,1328.2 C1105.3,1329.4 1106.0,1330.5 1106.6,1331.7 C1107.2,1332.9 1107.9,1334.0 1108.5,1335.2 C1109.1,1336.4 1109.7,1337.6 1110.3,1338.8 C1110.9,1340.0 1111.5,1341.2 1112.1,1342.4 C1112.7,1343.6 1113.3,1344.8 1113.9,1345.9 C1114.5,1347.1 1115.1,1348.3 1115.7,1349.5 C1116.3,1350.7 1116.9,1351.9 1117.5,1353.1 C1118.1,1354.2 1118.8,1355.4 1119.4,1356.6 C1120.1,1357.8 1120.7,1358.9 1121.4,1360.1 C1122.0,1361.2 1122.7,1362.4 1123.4,1363.5 C1124.1,1364.7 1124.7,1365.8 1125.4,1367.0 C1126.1,1368.1 1126.8,1369.3 1127.5,1370.4 C1128.2,1371.6 1128.8,1372.7 1129.5,1373.8 C1130.2,1375.0 1130.9,1376.1 1131.6,1377.2 C1132.4,1378.4 1133.1,1379.5 1133.8,1380.6 C1134.5,1381.7 1135.2,1382.9 1136.0,1384.0 C1136.7,1385.1 1137.5,1386.2 1138.2,1387.3 C1139.0,1388.4 1139.8,1389.5 1140.5,1390.5 C1141.3,1391.6 1142.1,1392.7 1142.9,1393.8 C1143.7,1394.8 1144.5,1395.9 1145.3,1397.0 C1146.1,1398.0 1147.0,1399.1 1147.8,1400.1 C1148.6,1401.2 1149.5,1402.2 1150.3,1403.2 C1151.2,1404.2 1152.0,1405.3 1152.9,1406.3 C1153.8,1407.3 1154.7,1408.3 1155.6,1409.3 C1156.5,1410.2 1157.4,1411.2 1158.3,1412.2 C1159.2,1413.1 1160.2,1414.1 1161.1,1415.0 C1162.1,1415.9 1163.1,1416.8 1164.1,1417.7 C1165.0,1418.6 1166.0,1419.5 1167.1,1420.4 C1168.1,1421.2 1169.1,1422.1 1170.1,1422.9 C1171.2,1423.8 1172.2,1424.6 1173.3,1425.4 C1174.4,1426.2 1175.4,1427.0 1176.5,1427.7 C1177.6,1428.5 1178.7,1429.2 1179.8,1430.0 C1180.9,1430.7 1182.1,1431.4 1183.2,1432.1 C1184.4,1432.8 1185.5,1433.5 1186.7,1434.1 C1187.8,1434.8 1189.0,1435.4 1190.2,1436.0 C1191.4,1436.6 1192.6,1437.2 1193.8,1437.7 C1195.0,1438.3 1196.2,1438.8 1197.5,1439.3 C1198.7,1439.8 1200.0,1440.2 1201.2,1440.6 C1202.5,1441.1 1203.8,1441.5 1205.1,1441.8 C1206.3,1442.2 1207.6,1442.5 1208.9,1442.8 C1210.2,1443.0 1211.5,1443.3 1212.9,1443.5 C1214.2,1443.8 1215.5,1444.0 1216.8,1444.2 C1218.1,1444.4 1219.4,1444.5 1220.8,1444.7 C1222.1,1444.9 1223.4,1445.0 1224.7,1445.1 C1226.1,1445.3 1227.4,1445.4 1228.7,1445.4 C1230.1,1445.5 1231.4,1445.6 1232.7,1445.7 C1234.1,1445.7 1235.4,1445.7 1236.7,1445.7 C1238.1,1445.7 1239.4,1445.7 1240.7,1445.7 C1242.1,1445.7 1243.4,1445.6 1244.7,1445.5 C1246.0,1445.5 1247.4,1445.3 1248.7,1445.2 C1250.0,1445.1 1251.4,1445.0 1252.7,1444.8 C1254.0,1444.7 1255.3,1444.5 1256.7,1444.4 C1258.0,1444.2 1259.3,1444.0 1260.6,1443.9 C1262.0,1443.7 1263.3,1443.5 1264.6,1443.3 C1265.9,1443.1 1267.2,1442.9 1268.5,1442.7 C1269.9,1442.5 1271.2,1442.3 1272.5,1442.1 C1273.8,1441.9 1275.1,1441.7 1276.5,1441.5 C1277.8,1441.3 1279.1,1441.1 1280.4,1440.9 C1281.7,1440.7 1283.1,1440.5 1284.4,1440.3 C1285.7,1440.1 1287.0,1440.0 1288.3,1439.8 C1289.7,1439.6 1291.0,1439.5 1292.3,1439.4 C1293.6,1439.2 1295.0,1439.1 1296.3,1439.0 C1297.6,1438.9 1299.0,1438.9 1300.3,1438.8 C1301.6,1438.8 1303.0,1438.8 1304.3,1438.8 C1305.6,1438.9 1307.0,1438.9 1308.3,1439.0 C1309.6,1439.1 1310.9,1439.2 1312.3,1439.3 C1313.6,1439.4 1314.9,1439.6 1316.2,1439.8 C1317.6,1439.9 1318.9,1440.1 1320.2,1440.3 C1321.5,1440.5 1322.8,1440.8 1324.1,1441.1 C1325.4,1441.4 1326.7,1441.7 1328.0,1442.1 C1329.2,1442.5 1330.5,1443.0 1331.7,1443.5 C1332.9,1444.0 1334.1,1444.6 1335.3,1445.2 C1336.5,1445.8 1337.6,1446.5 1338.8,1447.2 C1339.9,1447.9 1341.0,1448.6 1342.1,1449.4 C1343.2,1450.1 1344.2,1451.0 1345.3,1451.8 C1346.3,1452.6 1347.4,1453.4 1348.4,1454.3 C1349.4,1455.1 1350.5,1456.0 1351.5,1456.8 C1352.5,1457.7 1353.6,1458.5 1354.6,1459.3 C1355.6,1460.2 1356.7,1461.0 1357.7,1461.8 C1358.8,1462.7 1359.8,1463.5 1360.9,1464.3 C1361.9,1465.1 1363.0,1465.9 1364.1,1466.7 C1365.1,1467.5 1366.2,1468.3 1367.3,1469.1 C1368.4,1469.8 1369.5,1470.6 1370.6,1471.4 C1371.7,1472.2 1372.7,1472.9 1373.8,1473.7 C1374.9,1474.5 1376.0,1475.2 1377.1,1476.0 C1378.2,1476.8 1379.3,1477.5 1380.4,1478.3 C1381.5,1479.0 1382.6,1479.8 1383.7,1480.5 C1384.8,1481.2 1385.9,1482.0 1387.1,1482.6 C1388.2,1483.3 1389.4,1484.0 1390.6,1484.6 C1391.8,1485.2 1392.9,1485.8 1394.1,1486.4 C1395.4,1486.9 1396.6,1487.5 1397.8,1488.0 C1399.0,1488.5 1400.3,1488.9 1401.5,1489.4 C1402.8,1489.8 1404.1,1490.2 1405.4,1490.5 C1406.6,1490.9 1407.9,1491.2 1409.2,1491.4 C1410.6,1491.7 1411.9,1491.9 1413.2,1492.0 C1414.5,1492.2 1415.8,1492.4 1417.2,1492.5 C1418.5,1492.6 1419.8,1492.7 1421.1,1492.9 C1422.5,1493.0 1423.8,1493.1 1425.1,1493.2 C1426.5,1493.4 1427.8,1493.5 1429.1,1493.6 C1430.4,1493.8 1431.8,1493.9 1433.1,1494.1 C1434.4,1494.3 1435.7,1494.5 1437.0,1494.6 C1438.4,1494.8 1439.7,1495.0 1441.0,1495.3 C1442.3,1495.5 1443.6,1495.8 1444.9,1496.0 C1446.2,1496.3 1447.5,1496.6 1448.8,1496.9 C1450.1,1497.2 1451.4,1497.5 1452.7,1497.9 C1454.0,1498.2 1455.3,1498.5 1456.6,1498.8 C1457.9,1499.1 1459.2,1499.3 1460.5,1499.6 C1461.8,1499.9 1463.1,1500.1 1464.4,1500.4 C1465.8,1500.6 1467.1,1500.9 1468.4,1501.1 C1469.7,1501.3 1471.0,1501.5 1472.3,1501.7 C1473.7,1501.9 1475.0,1502.1 1476.3,1502.3 C1477.6,1502.4 1478.9,1502.6 1480.3,1502.7 C1481.6,1502.8 1482.9,1503.0 1484.3,1503.1 C1485.6,1503.2 1486.9,1503.3 1488.2,1503.4 C1489.6,1503.5 1490.9,1503.6 1492.2,1503.6 C1493.6,1503.7 1494.9,1503.8 1496.2,1503.8 C1497.6,1503.9 1498.9,1503.9 1500.2,1503.9 C1501.6,1503.9 1502.9,1503.9 1504.2,1503.9 C1505.6,1503.9 1506.9,1503.9 1508.2,1503.9 C1509.6,1503.8 1510.9,1503.8 1512.2,1503.8 C1513.6,1503.8 1514.9,1503.7 1516.2,1503.7 C1517.6,1503.7 1518.9,1503.8 1520.2,1503.8 C1521.6,1503.8 1522.9,1503.9 1524.2,1504.0 C1525.6,1504.1 1526.9,1504.2 1528.2,1504.3 C1529.5,1504.4 1530.9,1504.6 1532.2,1504.7 C1533.5,1504.8 1534.8,1505.0 1536.2,1505.2 C1537.5,1505.3 1538.8,1505.5 1540.1,1505.7 C1541.5,1505.9 1542.8,1506.1 1544.1,1506.3 C1545.4,1506.5 1546.7,1506.7 1548.0,1506.9 C1549.4,1507.1 1550.7,1507.4 1552.0,1507.5 C1553.3,1507.7 1554.6,1507.9 1556.0,1508.0 C1557.3,1508.1 1558.6,1508.2 1559.9,1508.2 C1561.3,1508.2 1562.6,1508.2 1563.9,1508.2 C1565.3,1508.2 1566.6,1508.1 1567.9,1508.0 C1569.3,1508.0 1570.6,1507.9 1571.9,1507.9 C1573.3,1507.8 1574.6,1507.7 1575.9,1507.7 C1577.3,1507.6 1578.6,1507.6 1579.9,1507.5 C1581.3,1507.5 1582.6,1507.4 1583.9,1507.4 C1585.3,1507.4 1586.6,1507.4 1587.9,1507.4 C1589.3,1507.4 1590.6,1507.5 1591.9,1507.5 C1593.3,1507.6 1594.6,1507.7 1595.9,1507.8 C1597.2,1507.8 1598.6,1507.9 1599.9,1508.0 C1601.2,1508.1 1602.6,1508.2 1603.9,1508.3 C1605.2,1508.4 1606.6,1508.5 1607.9,1508.5 C1609.2,1508.6 1610.6,1508.7 1611.9,1508.7 C1613.2,1508.8 1614.6,1508.8 1615.9,1508.8 C1617.2,1508.8 1618.5,1508.7 1619.9,1508.6 C1621.2,1508.5 1622.5,1508.4 1623.8,1508.3 C1625.2,1508.1 1626.5,1507.9 1627.8,1507.8 C1629.1,1507.6 1630.5,1507.4 1631.8,1507.3 C1633.1,1507.1 1634.4,1507.0 1635.8,1506.9 C1637.1,1506.8 1638.4,1506.7 1639.8,1506.7 C1641.1,1506.7 1642.4,1506.6 1643.7,1506.7 C1645.1,1506.7 1646.4,1506.7 1647.7,1506.8 C1649.1,1506.8 1650.4,1506.9 1651.7,1507.0 C1653.1,1507.1 1654.4,1507.2 1655.7,1507.4 C1657.0,1507.5 1658.4,1507.7 1659.7,1507.9 C1661.0,1508.1 1662.3,1508.3 1663.6,1508.6 C1664.9,1508.8 1666.2,1509.1 1667.5,1509.4 C1668.8,1509.8 1670.1,1510.1 1671.4,1510.5 C1672.6,1510.9 1673.9,1511.3 1675.2,1511.7 C1676.4,1512.2 1677.7,1512.6 1678.9,1513.1 C1680.1,1513.6 1681.4,1514.1 1682.6,1514.7 C1683.8,1515.2 1685.0,1515.8 1686.2,1516.4 C1687.4,1517.0 1688.6,1517.6 1689.7,1518.3 C1690.9,1518.9 1692.1,1519.5 1693.2,1520.2 C1694.4,1520.8 1695.6,1521.5 1696.7,1522.2 C1697.9,1522.8 1699.0,1523.5 1700.2,1524.1 C1701.4,1524.8 1702.5,1525.4 1703.7,1526.0 C1704.9,1526.6 1706.1,1527.2 1707.3,1527.8 C1708.5,1528.4 1709.7,1529.0 1710.9,1529.5 C1712.1,1530.1 1713.4,1530.6 1714.6,1531.1 C1715.8,1531.6 1717.1,1532.1 1718.3,1532.6 C1719.5,1533.1 1720.8,1533.5 1722.1,1534.0 C1723.3,1534.4 1724.6,1534.8 1725.9,1535.2 C1727.1,1535.6 1728.4,1536.0 1729.7,1536.3 C1731.0,1536.7 1732.3,1537.1 1733.6,1537.4 C1734.9,1537.7 1736.2,1538.0 1737.5,1538.3 C1738.8,1538.5 1740.1,1538.8 1741.4,1539.0 C1742.7,1539.2 1744.0,1539.3 1745.3,1539.4 C1746.7,1539.5 1748.0,1539.6 1749.3,1539.6 C1750.6,1539.6 1752.0,1539.5 1753.3,1539.4 C1754.6,1539.2 1755.9,1539.0 1757.2,1538.8 C1758.5,1538.5 1759.8,1538.2 1761.1,1537.9 C1762.4,1537.5 1763.7,1537.1 1764.9,1536.8 C1766.2,1536.4 1767.5,1536.0 1768.7,1535.5 C1770.0,1535.1 1771.3,1534.7 1772.5,1534.3 C1773.8,1533.9 1775.1,1533.5 1776.3,1533.0 C1777.6,1532.6 1778.9,1532.2 1780.1,1531.7 C1781.4,1531.3 1782.6,1530.8 1783.9,1530.4 C1785.1,1529.9 1786.4,1529.5 1787.7,1529.0 C1788.9,1528.6 1790.2,1528.1 1791.4,1527.7 C1792.7,1527.3 1794.0,1526.9 1795.3,1526.5 C1796.5,1526.1 1797.8,1525.8 1799.1,1525.4 C1800.4,1525.0 1801.7,1524.7 1802.9,1524.3 C1804.2,1524.0 1805.5,1523.6 1806.8,1523.3 C1808.1,1523.0 1809.4,1522.6 1810.7,1522.3 C1812.0,1522.0 1813.3,1521.7 1814.6,1521.5 C1815.9,1521.2 1817.2,1520.9 1818.5,1520.7 C1819.8,1520.4 1821.1,1520.2 1822.5,1520.0 C1823.8,1519.8 1825.1,1519.6 1826.4,1519.4 C1827.7,1519.2 1829.1,1519.1 1830.4,1519.0 C1831.7,1518.9 1833.1,1518.8 1834.4,1518.7 C1835.7,1518.6 1837.0,1518.5 1838.4,1518.4 C1839.7,1518.3 1841.0,1518.3 1842.4,1518.2 C1843.7,1518.1 1845.0,1518.0 1846.4,1517.9 C1847.7,1517.8 1849.0,1517.7 1850.4,1517.6 C1851.7,1517.5 1853.0,1517.4 1854.3,1517.3 C1855.7,1517.2 1857.0,1517.0 1858.3,1516.9 C1859.7,1516.8 1861.0,1516.7 1862.3,1516.7 C1863.7,1516.6 1865.0,1516.5 1866.3,1516.5 C1867.6,1516.4 1869.0,1516.4 1870.3,1516.4 C1871.6,1516.4 1873.0,1516.4 1874.3,1516.5 C1875.6,1516.5 1877.0,1516.6 1878.3,1516.8 C1879.6,1516.9 1880.9,1517.0 1882.3,1517.2 C1883.6,1517.4 1884.9,1517.6 1886.2,1517.8 C1887.5,1518.0 1888.8,1518.3 1890.2,1518.5 C1891.5,1518.7 1892.8,1519.0 1894.1,1519.3 C1895.4,1519.5 1896.7,1519.8 1898.0,1520.1 C1899.3,1520.3 1900.6,1520.6 1901.9,1520.9 C1903.2,1521.2 1904.5,1521.5 1905.8,1521.8 C1907.1,1522.1 1908.4,1522.4 1909.7,1522.8 C1911.0,1523.1 1912.3,1523.5 1913.6,1523.8 C1914.8,1524.2 1916.1,1524.6 1917.4,1525.0 C1918.6,1525.4 1919.9,1525.9 1921.1,1526.3 C1922.4,1526.8 1923.6,1527.3 1924.9,1527.8 C1926.1,1528.2 1927.4,1528.7 1928.6,1529.1 C1929.9,1529.5 1931.2,1529.8 1932.5,1530.1 C1933.8,1530.4 1935.1,1530.7 1936.4,1530.9 C1937.7,1531.1 1939.0,1531.3 1940.3,1531.4 C1941.7,1531.6 1943.0,1531.7 1944.3,1531.8 C1945.7,1531.9 1947.0,1532.0 1948.3,1532.1 C1949.6,1532.2 1951.0,1532.2 1952.3,1532.3 C1953.6,1532.3 1955.0,1532.4 1956.3,1532.3 C1957.6,1532.3 1959.0,1532.3 1960.3,1532.2 C1961.6,1532.2 1963.0,1532.1 1964.3,1532.0 C1965.6,1531.8 1966.9,1531.7 1968.3,1531.5 C1969.6,1531.3 1970.9,1531.1 1972.2,1530.8 C1973.5,1530.6 1974.8,1530.3 1976.1,1530.0 C1977.4,1529.8 1978.7,1529.5 1980.0,1529.2 C1981.3,1528.9 1982.6,1528.6 1983.9,1528.3 C1985.2,1528.0 1986.5,1527.7 1987.8,1527.4 C1989.1,1527.1 1990.4,1526.8 1991.7,1526.5 C1993.0,1526.2 1994.3,1525.9 1995.6,1525.6 C1996.9,1525.3 1998.2,1525.0 1999.5,1524.7 C2000.8,1524.4 2002.1,1524.1 2003.4,1523.8 C2004.7,1523.5 2006.0,1523.2 2007.3,1523.0 C2008.7,1522.7 2010.0,1522.5 2011.3,1522.3 C2012.6,1522.0 2013.9,1521.8 2015.2,1521.6 C2016.5,1521.5 2017.9,1521.3 2019.2,1521.2 C2020.5,1521.0 2021.8,1520.9 2023.2,1520.9 C2024.5,1520.8 2025.8,1520.8 2027.2,1520.8 C2028.5,1520.9 2029.8,1521.0 2031.1,1521.1 C2032.4,1521.3 2033.8,1521.5 2035.1,1521.7 C2036.4,1522.0 2037.7,1522.2 2039.0,1522.5 C2040.3,1522.8 2041.6,1523.1 2042.9,1523.5 C2044.2,1523.8 2045.5,1524.1 2046.7,1524.5 C2048.0,1524.8 2049.3,1525.2 2050.6,1525.6 C2051.9,1525.9 2053.2,1526.3 2054.4,1526.7 C2055.7,1527.1 2057.0,1527.5 2058.3,1527.9 C2059.5,1528.3 2060.8,1528.7 2062.1,1529.1 C2063.4,1529.4 2064.6,1529.8 2065.9,1530.2 C2067.2,1530.6 2068.5,1530.9 2069.8,1531.3 C2071.1,1531.7 2072.3,1532.0 2073.6,1532.3 C2074.9,1532.7 2076.2,1533.0 2077.5,1533.4 C2078.8,1533.7 2080.1,1534.0 2081.4,1534.3 C2082.7,1534.7 2084.0,1535.0 2085.3,1535.3 C2086.6,1535.6 2087.9,1535.9 2089.2,1536.2 C2090.5,1536.5 2091.8,1536.7 2093.1,1537.0 C2094.4,1537.3 2095.7,1537.5 2097.0,1537.8 C2098.3,1538.0 2099.6,1538.3 2100.9,1538.5 C2102.3,1538.7 2103.6,1539.0 2104.9,1539.2 C2106.2,1539.4 2107.5,1539.7 2108.8,1539.9 C2110.1,1540.2 2111.4,1540.4 2112.7,1540.7 C2114.1,1541.0 2115.4,1541.2 2116.7,1541.5 C2118.0,1541.8 2119.3,1542.1 2120.6,1542.3 C2121.9,1542.6 2123.2,1542.8 2124.5,1543.1 C2125.8,1543.3 2127.1,1543.5 2128.5,1543.7 C2129.8,1543.9 2131.1,1544.1 2132.4,1544.3 C2133.7,1544.5 2135.1,1544.7 2136.4,1544.8 C2137.7,1545.0 2139.0,1545.1 2140.4,1545.3 C2141.7,1545.4 2143.0,1545.5 2144.4,1545.6 C2145.7,1545.6 2147.0,1545.7 2148.3,1545.7 C2149.7,1545.8 2151.0,1545.8 2152.3,1545.7 C2153.7,1545.7 2155.0,1545.6 2156.3,1545.6 C2157.7,1545.5 2159.0,1545.4 2160.3,1545.3 C2161.6,1545.1 2163.0,1545.0 2164.3,1544.8 C2165.6,1544.7 2166.9,1544.5 2168.3,1544.3 C2169.6,1544.1 2170.9,1543.9 2172.2,1543.7 C2173.5,1543.5 2174.9,1543.3 2176.2,1543.0 C2177.5,1542.8 2178.8,1542.5 2180.1,1542.3 C2181.4,1542.0 2182.7,1541.7 2184.0,1541.5 C2185.3,1541.2 2186.6,1540.9 2187.9,1540.6 C2189.2,1540.4 2190.5,1540.1 2191.8,1539.9 C2193.2,1539.6 2194.5,1539.4 2195.8,1539.2 C2197.1,1539.0 2198.4,1538.8 2199.8,1538.6 C2201.1,1538.5 2202.4,1538.3 2203.7,1538.2 C2205.1,1538.1 2206.4,1537.9 2207.7,1537.8 C2209.0,1537.7 2210.4,1537.7 2211.7,1537.6 C2213.0,1537.5 2214.4,1537.5 2215.7,1537.4 C2217.0,1537.4 2218.4,1537.4 2219.7,1537.4 C2221.0,1537.4 2222.4,1537.4 2223.7,1537.5 C2225.0,1537.5 2226.4,1537.5 2227.7,1537.6 C2229.0,1537.7 2230.4,1537.8 2231.7,1537.9 C2233.0,1538.0 2234.3,1538.1 2235.7,1538.2 C2237.0,1538.4 2238.3,1538.5 2239.6,1538.7 C2241.0,1538.9 2242.3,1539.0 2243.6,1539.2 C2244.9,1539.4 2246.3,1539.6 2247.6,1539.8 C2248.9,1540.0 2250.2,1540.2 2251.5,1540.5 C2252.8,1540.7 2254.1,1541.0 2255.4,1541.2 C2256.8,1541.5 2258.1,1541.8 2259.4,1542.1 C2260.6,1542.4 2261.9,1542.7 2263.2,1543.1 C2264.5,1543.4 2265.8,1543.8 2267.1,1544.2 C2268.3,1544.6 2269.6,1545.1 2270.8,1545.5 C2272.1,1546.0 2273.3,1546.5 2274.6,1547.0 C2275.8,1547.5 2277.0,1548.0 2278.2,1548.5 C2279.5,1549.1 2280.7,1549.6 2281.9,1550.2 C2283.1,1550.7 2284.3,1551.3 2285.5,1551.9 C2286.7,1552.5 2287.9,1553.1 2289.1,1553.7 C2290.3,1554.3 2291.5,1554.8 2292.7,1555.4 C2293.9,1555.9 2295.1,1556.4 2296.4,1556.9 C2297.6,1557.4 2298.9,1557.9 2300.1,1558.3 C2301.4,1558.8 2302.6,1559.2 2303.9,1559.6 C2305.2,1560.1 2307.1,1560.7 2307.7,1560.9" stroke="#0000ff"/>
<path d="M306.0,1570.0 C306.7,1570.0 308.7,1569.9 310.0,1569.8 C311.3,1569.8 312.7,1569.7 314.0,1569.6 C315.3,1569.6 316.7,1569.5 318.0,1569.5 C319.3,1569.5 320.7,1569.4 322.0,1569.5 C323.3,1569.5 324.6,1569.5 326.0,1569.6 C327.3,1569.7 328.6,1569.8 329.9,1569.9 C331.3,1570.1 332.6,1570.3 333.9,1570.5 C335.2,1570.7 336.5,1570.9 337.9,1571.0 C339.2,1571.2 340.5,1571.4 341.8,1571.5 C343.1,1571.6 344.5,1571.7 345.8,1571.7 C347.1,1571.7 348.4,1571.6 349.8,1571.5 C351.1,1571.4 352.4,1571.2 353.7,1571.0 C355.0,1570.7 356.3,1570.4 357.5,1570.0 C358.8,1569.6 360.0,1569.2 361.3,1568.7 C362.5,1568.2 363.7,1567.6 364.9,1567.0 C366.1,1566.5 367.3,1565.9 368.5,1565.4 C369.7,1564.8 370.9,1564.3 372.2,1563.9 C373.4,1563.5 374.7,1563.1 375.9,1562.7 C377.1,1562.3 378.4,1561.9 379.6,1561.4 C380.7,1560.8 381.9,1560.2 382.9,1559.5 C384.0,1558.7 384.9,1557.9 385.8,1556.9 C386.7,1556.0 387.5,1555.0 388.4,1553.9 C389.2,1552.9 390.0,1551.8 390.8,1550.8 C391.6,1549.7 392.4,1548.7 393.2,1547.6 C394.1,1546.6 394.9,1545.6 395.8,1544.5 C396.6,1543.5 397.5,1542.5 398.3,1541.4 C399.2,1540.4 400.0,1539.4 400.9,1538.4 C401.7,1537.3 402.5,1536.3 403.4,1535.2 C404.2,1534.2 405.0,1533.1 405.8,1532.1 C406.6,1531.0 407.5,1530.0 408.3,1528.9 C409.1,1527.8 409.9,1526.8 410.7,1525.7 C411.4,1524.6 412.2,1523.5 413.0,1522.4 C413.7,1521.3 414.5,1520.2 415.2,1519.1 C415.9,1518.0 416.5,1516.8 417.2,1515.7 C417.8,1514.5 418.4,1513.3 419.0,1512.1 C419.6,1510.9 420.1,1509.7 420.6,1508.5 C421.1,1507.2 421.6,1506.0 422.1,1504.8 C422.6,1503.5 423.0,1502.3 423.5,1501.0 C424.0,1499.8 424.5,1498.5 425.0,1497.3 C425.6,1496.1 426.1,1494.9 426.7,1493.7 C427.3,1492.5 427.9,1491.3 428.5,1490.1 C429.1,1488.9 429.8,1487.8 430.4,1486.6 C431.0,1485.4 431.7,1484.3 432.3,1483.1 C433.0,1481.9 433.6,1480.8 434.3,1479.6 C434.9,1478.4 435.5,1477.3 436.2,1476.1 C436.8,1474.9 437.4,1473.7 438.0,1472.5 C438.6,1471.3 439.2,1470.1 439.7,1468.9 C440.3,1467.7 440.9,1466.5 441.5,1465.3 C442.0,1464.1 442.6,1462.9 443.1,1461.7 C443.7,1460.5 444.2,1459.3 444.8,1458.0 C445.4,1456.8 445.9,1455.6 446.4,1454.4 C447.0,1453.2 447.5,1452.0 448.1,1450.7 C448.6,1449.5 449.2,1448.3 449.7,1447.1 C450.2,1445.9 450.8,1444.6 451.3,1443.4 C451.8,1442.2 452.4,1441.0 452.9,1439.8 C453.5,1438.6 454.0,1437.4 454.6,1436.1 C455.2,1434.9 455.8,1433.7 456.4,1432.5 C456.9,1431.3 457.5,1430.2 458.1,1429.0 C458.7,1427.8 459.4,1426.6 460.0,1425.4 C460.6,1424.2 461.2,1423.0 461.8,1421.9 C462.4,1420.7 463.1,1419.5 463.7,1418.3 C464.3,1417.1 464.9,1415.9 465.5,1414.8 C466.1,1413.6 466.7,1412.4 467.3,1411.2 C467.9,1410.0 468.4,1408.8 469.0,1407.6 C469.6,1406.4 470.2,1405.2 470.7,1404.0 C471.3,1402.7 471.9,1401.5 472.4,1400.3 C473.0,1399.1 473.5,1397.9 474.1,1396.7 C474.6,1395.5 475.2,1394.3 475.7,1393.0 C476.3,1391.8 476.8,1390.6 477.4,1389.4 C477.9,1388.2 478.5,1387.0 479.1,1385.8 C479.6,1384.6 480.2,1383.4 480.8,1382.2 C481.3,1380.9 481.9,1379.7 482.5,1378.5 C483.1,1377.3 483.6,1376.1 484.2,1374.9 C484.8,1373.7 485.4,1372.5 486.0,1371.3 C486.5,1370.1 487.1,1368.9 487.7,1367.7 C488.2,1366.5 488.8,1365.3 489.4,1364.1 C489.9,1362.9 490.5,1361.7 491.1,1360.5 C491.6,1359.3 492.2,1358.0 492.7,1356.8 C493.3,1355.6 493.8,1354.4 494.3,1353.2 C494.9,1352.0 495.4,1350.7 496.0,1349.5 C496.5,1348.3 497.0,1347.1 497.6,1345.8 C498.1,1344.6 498.6,1343.4 499.1,1342.2 C499.7,1340.9 500.2,1339.7 500.7,1338.5 C501.2,1337.3 501.8,1336.0 502.3,1334.8 C502.8,1333.6 503.3,1332.4 503.8,1331.1 C504.3,1329.9 504.8,1328.7 505.3,1327.4 C505.9,1326.2 506.4,1325.0 506.9,1323.7 C507.4,1322.5 507.8,1321.2 508.3,1320.0 C508.8,1318.8 509.3,1317.5 509.8,1316.3 C510.3,1315.1 510.8,1313.8 511.3,1312.6 C511.8,1311.3 512.3,1310.1 512.8,1308.9 C513.3,1307.6 513.8,1306.4 514.3,1305.2 C514.8,1303.9 515.3,1302.7 515.8,1301.5 C516.3,1300.2 516.8,1299.0 517.4,1297.8 C517.9,1296.5 518.4,1295.3 518.9,1294.1 C519.5,1292.9 520.0,1291.6 520.5,1290.4 C521.1,1289.2 521.6,1288.0 522.1,1286.8 C522.7,1285.5 523.2,1284.3 523.8,1283.1 C524.3,1281.9 524.8,1280.7 525.4,1279.4 C525.9,1278.2 526.5,1277.0 527.0,1275.8 C527.6,1274.6 528.1,1273.4 528.6,1272.1 C529.2,1270.9 529.7,1269.7 530.3,1268.5 C530.8,1267.3 531.4,1266.0 531.9,1264.8 C532.4,1263.6 533.0,1262.4 533.5,1261.2 C534.1,1260.0 534.6,1258.7 535.2,1257.5 C535.7,1256.3 536.3,1255.1 536.8,1253.9 C537.4,1252.7 537.9,1251.4 538.5,1250.2 C539.0,1249.0 539.6,1247.8 540.1,1246.6 C540.7,1245.4 541.2,1244.2 541.8,1242.9 C542.3,1241.7 542.9,1240.5 543.4,1239.3 C544.0,1238.1 544.5,1236.9 545.1,1235.7 C545.7,1234.5 546.2,1233.3 546.8,1232.1 C547.4,1230.8 547.9,1229.6 548.5,1228.4 C549.1,1227.2 549.6,1226.0 550.2,1224.8 C550.8,1223.6 551.3,1222.4 551.9,1221.2 C552.5,1220.0 553.0,1218.8 553.6,1217.6 C554.2,1216.4 554.7,1215.1 555.3,1213.9 C555.8,1212.7 556.4,1211.5 556.9,1210.3 C557.5,1209.1 558.0,1207.9 558.6,1206.6 C559.1,1205.4 559.6,1204.2 560.2,1203.0 C560.7,1201.8 561.2,1200.5 561.8,1199.3 C562.3,1198.1 562.8,1196.9 563.3,1195.6 C563.9,1194.4 564.4,1193.2 564.9,1192.0 C565.5,1190.7 566.0,1189.5 566.5,1188.3 C567.1,1187.1 567.6,1185.9 568.2,1184.6 C568.7,1183.4 569.3,1182.2 569.9,1181.0 C570.4,1179.8 571.0,1178.6 571.6,1177.4 C572.2,1176.2 572.7,1175.0 573.3,1173.8 C573.9,1172.6 574.5,1171.4 575.1,1170.2 C575.7,1169.0 576.3,1167.9 576.9,1166.7 C577.6,1165.5 578.2,1164.3 578.8,1163.1 C579.4,1161.9 580.0,1160.8 580.6,1159.6 C581.3,1158.4 581.9,1157.2 582.5,1156.0 C583.2,1154.9 583.8,1153.7 584.4,1152.5 C585.1,1151.4 585.7,1150.2 586.3,1149.0 C587.0,1147.8 587.6,1146.7 588.2,1145.5 C588.9,1144.3 589.5,1143.1 590.1,1142.0 C590.7,1140.8 591.4,1139.6 592.0,1138.4 C592.6,1137.3 593.3,1136.1 593.9,1134.9 C594.6,1133.8 595.3,1132.6 596.0,1131.5 C596.7,1130.4 597.4,1129.2 598.1,1128.2 C598.9,1127.1 599.7,1126.1 600.6,1125.1 C601.4,1124.1 602.4,1123.2 603.3,1122.3 C604.2,1121.4 605.2,1120.5 606.1,1119.5 C607.0,1118.6 607.8,1117.6 608.6,1116.6 C609.4,1115.5 610.1,1114.4 610.8,1113.3 C611.6,1112.2 612.2,1111.0 612.8,1109.9 C613.5,1108.7 614.1,1107.5 614.8,1106.4 C615.4,1105.2 616.1,1104.0 616.7,1102.9 C617.4,1101.8 618.1,1100.6 618.9,1099.5 C619.6,1098.4 620.4,1097.4 621.2,1096.3 C622.0,1095.3 622.9,1094.3 623.7,1093.2 C624.5,1092.2 625.3,1091.1 626.1,1090.0 C626.8,1088.9 627.5,1087.8 628.1,1086.7 C628.8,1085.5 629.4,1084.3 629.9,1083.1 C630.5,1081.9 631.0,1080.7 631.5,1079.4 C632.0,1078.2 632.5,1077.0 633.0,1075.7 C633.5,1074.5 633.9,1073.2 634.4,1072.0 C634.8,1070.7 635.2,1069.5 635.7,1068.2 C636.1,1066.9 636.5,1065.7 636.9,1064.4 C637.4,1063.1 637.8,1061.9 638.2,1060.6 C638.6,1059.3 639.0,1058.0 639.3,1056.8 C639.7,1055.5 640.1,1054.2 640.5,1052.9 C640.8,1051.6 641.2,1050.4 641.5,1049.1 C641.9,1047.8 642.2,1046.5 642.6,1045.2 C642.9,1043.9 643.2,1042.6 643.5,1041.3 C643.9,1040.0 644.2,1038.7 644.5,1037.4 C644.8,1036.1 645.1,1034.9 645.4,1033.6 C645.7,1032.3 646.0,1031.0 646.3,1029.7 C646.6,1028.4 646.9,1027.1 647.2,1025.8 C647.5,1024.5 647.8,1023.2 648.1,1021.9 C648.4,1020.6 648.7,1019.3 649.0,1018.0 C649.3,1016.7 649.6,1015.4 649.9,1014.1 C650.3,1012.8 650.6,1011.5 650.9,1010.2 C651.2,1008.9 651.5,1007.6 651.8,1006.3 C652.1,1005.0 652.4,1003.7 652.7,1002.4 C653.0,1001.1 653.3,999.8 653.6,998.5 C653.9,997.2 654.2,995.9 654.4,994.6 C654.7,993.3 655.0,992.0 655.3,990.7 C655.6,989.4 655.9,988.1 656.2,986.8 C656.5,985.5 656.8,984.2 657.1,982.9 C657.3,981.6 657.6,980.3 657.9,979.0 C658.2,977.7 658.5,976.4 658.8,975.1 C659.1,973.8 659.4,972.5 659.7,971.1 C659.9,969.8 660.2,968.5 660.5,967.2 C660.8,965.9 661.1,964.6 661.4,963.3 C661.7,962.0 662.0,960.7 662.3,959.4 C662.5,958.1 662.8,956.8 663.1,955.5 C663.4,954.2 663.7,952.9 664.0,951.6 C664.3,950.3 664.6,949.0 664.9,947.7 C665.2,946.4 665.5,945.1 665.8,943.8 C666.1,942.5 666.4,941.2 666.7,939.9 C667.0,938.6 667.3,937.3 667.6,936.0 C667.9,934.7 668.3,933.4 668.6,932.2 C668.9,930.9 669.2,929.6 669.5,928.3 C669.8,927.0 670.1,925.7 670.4,924.4 C670.7,923.1 671.0,921.8 671.3,920.5 C671.7,919.2 672.0,917.9 672.3,916.6 C672.6,915.3 672.9,914.0 673.2,912.7 C673.5,911.4 673.8,910.1 674.2,908.8 C674.5,907.5 674.8,906.2 675.1,904.9 C675.4,903.6 675.7,902.3 676.1,901.0 C676.4,899.7 676.7,898.4 677.0,897.2 C677.3,895.9 677.7,894.6 678.0,893.3 C678.3,892.0 678.6,890.7 679.0,889.4 C679.3,888.1 679.6,886.8 680.0,885.5 C680.3,884.2 680.6,882.9 680.9,881.6 C681.3,880.4 681.6,879.1 682.0,877.8 C682.3,876.5 682.6,875.2 683.0,873.9 C683.3,872.6 683.7,871.3 684.0,870.0 C684.3,868.7 684.7,867.5 685.0,866.2 C685.4,864.9 685.8,863.6 686.1,862.3 C686.5,861.0 686.8,859.7 687.2,858.5 C687.5,857.2 687.9,855.9 688.3,854.6 C688.6,853.3 689.0,852.0 689.3,850.8 C689.7,849.5 690.1,848.2 690.4,846.9 C690.8,845.6 691.2,844.4 691.6,843.1 C691.9,841.8 692.3,840.5 692.7,839.2 C693.0,837.9 693.4,836.7 693.8,835.4 C694.2,834.1 694.6,832.8 694.9,831.6 C695.3,830.3 695.7,829.0 696.1,827.7 C696.5,826.4 696.9,825.2 697.2,823.9 C697.6,822.6 698.0,821.3 698.4,820.1 C698.8,818.8 699.2,817.5 699.6,816.3 C700.0,815.0 700.4,813.7 700.9,812.4 C701.3,811.2 701.7,809.9 702.1,808.7 C702.6,807.4 703.0,806.1 703.4,804.9 C703.9,803.6 704.3,802.4 704.8,801.1 C705.3,799.9 705.8,798.6 706.2,797.4 C706.7,796.1 707.2,794.9 707.7,793.7 C708.2,792.4 708.7,791.2 709.2,790.0 C709.7,788.7 710.2,787.5 710.7,786.3 C711.2,785.0 711.8,783.8 712.3,782.6 C712.8,781.4 713.4,780.1 713.9,778.9 C714.4,777.7 715.0,776.5 715.5,775.3 C716.1,774.0 716.6,772.8 717.2,771.6 C717.7,770.4 718.3,769.2 718.8,768.0 C719.4,766.7 719.9,765.5 720.5,764.3 C721.1,763.1 721.6,761.9 722.2,760.7 C722.8,759.5 723.4,758.3 724.0,757.2 C724.7,756.0 725.3,754.8 726.0,753.7 C726.7,752.5 727.4,751.4 728.1,750.3 C728.9,749.2 729.6,748.1 730.4,747.0 C731.2,746.0 732.0,744.9 732.8,743.9 C733.7,742.9 734.6,741.9 735.5,740.9 C736.4,740.0 737.4,739.0 738.4,738.2 C739.4,737.4 740.5,736.6 741.6,735.9 C742.7,735.2 743.8,734.6 745.0,734.1 C746.2,733.6 747.5,733.2 748.8,732.8 C750.0,732.5 751.3,732.2 752.6,732.0 C753.9,731.7 755.3,731.6 756.6,731.4 C757.9,731.1 759.2,730.9 760.5,730.7 C761.8,730.4 763.1,730.2 764.4,729.8 C765.7,729.5 767.0,729.2 768.2,728.7 C769.4,728.2 770.6,727.7 771.8,727.1 C772.9,726.5 774.0,725.8 775.0,724.9 C776.0,724.1 776.9,723.2 777.8,722.2 C778.6,721.2 779.4,720.1 780.2,719.1 C780.9,718.0 781.6,716.8 782.3,715.7 C783.0,714.6 783.6,713.4 784.3,712.2 C785.0,711.1 785.6,709.9 786.2,708.8 C786.9,707.6 787.5,706.4 788.2,705.2 C788.8,704.1 789.4,702.9 790.0,701.7 C790.6,700.5 791.2,699.3 791.8,698.1 C792.4,696.9 792.9,695.7 793.5,694.5 C794.1,693.3 794.7,692.1 795.3,690.9 C795.9,689.7 796.5,688.5 797.1,687.4 C797.7,686.2 798.4,685.0 799.0,683.9 C799.7,682.7 800.4,681.6 801.1,680.5 C801.9,679.4 802.6,678.3 803.4,677.2 C804.2,676.1 805.0,675.1 805.9,674.1 C806.7,673.0 807.6,672.0 808.5,671.0 C809.4,670.1 810.3,669.1 811.3,668.2 C812.3,667.4 813.3,666.5 814.3,665.8 C815.4,665.1 816.5,664.4 817.7,664.0 C818.8,663.6 820.1,663.4 821.2,663.4 C822.4,663.4 823.7,663.6 824.8,664.0 C826.0,664.3 827.1,664.9 828.2,665.6 C829.3,666.2 830.4,667.1 831.4,667.9 C832.5,668.7 833.5,669.5 834.5,670.4 C835.6,671.2 836.6,672.1 837.6,672.9 C838.6,673.8 839.7,674.6 840.7,675.4 C841.8,676.3 842.8,677.1 843.9,677.9 C844.9,678.8 845.9,679.6 847.0,680.4 C848.0,681.3 849.0,682.1 850.1,683.0 C851.1,683.9 852.1,684.7 853.1,685.6 C854.0,686.5 855.0,687.4 856.0,688.4 C856.9,689.3 857.9,690.2 858.8,691.2 C859.7,692.2 860.6,693.1 861.5,694.1 C862.3,695.2 863.2,696.2 864.0,697.2 C864.8,698.3 865.6,699.3 866.4,700.4 C867.2,701.5 868.0,702.6 868.7,703.7 C869.5,704.8 870.2,705.9 870.9,707.0 C871.6,708.2 872.3,709.3 873.0,710.4 C873.7,711.6 874.4,712.7 875.1,713.9 C875.8,715.0 876.4,716.2 877.1,717.3 C877.8,718.5 878.4,719.6 879.1,720.8 C879.7,722.0 880.3,723.1 880.9,724.3 C881.5,725.5 882.1,726.7 882.7,727.9 C883.2,729.1 883.7,730.4 884.3,731.6 C884.8,732.8 885.2,734.1 885.7,735.3 C886.2,736.6 886.7,737.8 887.1,739.1 C887.6,740.3 888.0,741.6 888.5,742.8 C888.9,744.1 889.4,745.3 889.8,746.6 C890.3,747.8 890.7,749.1 891.1,750.4 C891.6,751.6 892.0,752.9 892.4,754.2 C892.9,755.4 893.3,756.7 893.7,757.9 C894.1,759.2 894.6,760.5 895.0,761.7 C895.4,763.0 895.8,764.3 896.3,765.5 C896.7,766.8 897.1,768.1 897.5,769.3 C898.0,770.6 898.4,771.8 898.8,773.1 C899.3,774.4 899.7,775.6 900.1,776.9 C900.5,778.2 901.0,779.4 901.4,780.7 C901.8,781.9 902.3,783.2 902.7,784.5 C903.1,785.7 903.6,787.0 904.0,788.2 C904.5,789.5 904.9,790.8 905.3,792.0 C905.8,793.3 906.2,794.5 906.7,795.8 C907.1,797.0 907.6,798.3 908.1,799.5 C908.5,800.8 909.0,802.0 909.4,803.3 C909.9,804.5 910.4,805.8 910.8,807.0 C911.3,808.3 911.8,809.5 912.2,810.8 C912.7,812.0 913.2,813.3 913.6,814.5 C914.1,815.8 914.6,817.0 915.1,818.3 C915.5,819.5 916.0,820.8 916.5,822.0 C917.0,823.3 917.5,824.5 917.9,825.7 C918.4,827.0 918.9,828.2 919.4,829.5 C919.8,830.7 920.3,832.0 920.8,833.2 C921.3,834.5 921.8,835.7 922.3,836.9 C922.7,838.2 923.2,839.4 923.7,840.7 C924.2,841.9 924.7,843.2 925.2,844.4 C925.7,845.6 926.1,846.9 926.6,848.1 C927.1,849.4 927.6,850.6 928.1,851.8 C928.6,853.1 929.1,854.3 929.5,855.6 C930.0,856.8 930.5,858.1 931.0,859.3 C931.5,860.5 932.0,861.8 932.5,863.0 C933.0,864.3 933.4,865.5 933.9,866.7 C934.4,868.0 934.9,869.2 935.4,870.5 C935.9,871.7 936.4,872.9 936.9,874.2 C937.4,875.4 937.9,876.6 938.4,877.9 C938.9,879.1 939.4,880.4 939.9,881.6 C940.4,882.8 940.8,884.1 941.3,885.3 C941.8,886.6 942.3,887.8 942.7,889.1 C943.2,890.3 943.7,891.6 944.1,892.8 C944.5,894.1 945.0,895.3 945.4,896.6 C945.9,897.9 946.3,899.1 946.7,900.4 C947.1,901.7 947.6,902.9 948.0,904.2 C948.4,905.4 948.8,906.7 949.2,908.0 C949.6,909.2 950.1,910.5 950.5,911.8 C950.9,913.1 951.3,914.3 951.7,915.6 C952.1,916.9 952.5,918.1 952.9,919.4 C953.3,920.7 953.7,921.9 954.1,923.2 C954.5,924.5 954.9,925.8 955.3,927.0 C955.7,928.3 956.1,929.6 956.5,930.8 C956.9,932.1 957.3,933.4 957.7,934.7 C958.1,935.9 958.5,937.2 958.9,938.5 C959.3,939.8 959.7,941.0 960.1,942.3 C960.5,943.6 960.9,944.9 961.2,946.1 C961.6,947.4 962.0,948.7 962.4,950.0 C962.7,951.3 963.1,952.5 963.5,953.8 C963.8,955.1 964.2,956.4 964.6,957.7 C964.9,959.0 965.3,960.2 965.7,961.5 C966.0,962.8 966.4,964.1 966.8,965.4 C967.1,966.6 967.5,967.9 967.9,969.2 C968.3,970.5 968.6,971.8 969.0,973.0 C969.4,974.3 969.8,975.6 970.2,976.9 C970.6,978.1 971.0,979.4 971.5,980.7 C971.9,981.9 972.3,983.2 972.8,984.4 C973.2,985.7 973.7,986.9 974.1,988.2 C974.6,989.4 975.1,990.7 975.6,991.9 C976.0,993.2 976.5,994.4 977.0,995.7 C977.5,996.9 978.0,998.1 978.5,999.4 C979.0,1000.6 979.5,1001.8 980.0,1003.1 C980.5,1004.3 981.0,1005.6 981.5,1006.8 C982.0,1008.0 982.4,1009.3 982.9,1010.5 C983.4,1011.8 983.8,1013.0 984.3,1014.3 C984.8,1015.5 985.3,1016.7 985.9,1017.9 C986.5,1019.1 987.1,1020.3 987.8,1021.4 C988.5,1022.5 989.3,1023.6 990.0,1024.7 C990.8,1025.7 991.7,1026.8 992.5,1027.8 C993.3,1028.8 994.2,1029.8 995.1,1030.8 C996.0,1031.8 996.9,1032.8 997.8,1033.8 C998.7,1034.8 999.6,1035.8 1000.5,1036.7 C1001.5,1037.7 1002.4,1038.6 1003.4,1039.5 C1004.3,1040.5 1005.3,1041.4 1006.2,1042.3 C1007.2,1043.2 1008.2,1044.1 1009.2,1045.0 C1010.2,1045.9 1011.2,1046.7 1012.2,1047.6 C1013.2,1048.5 1014.3,1049.3 1015.3,1050.2 C1016.3,1051.0 1017.4,1051.9 1018.4,1052.7 C1019.4,1053.6 1020.4,1054.4 1021.5,1055.3 C1022.5,1056.1 1023.5,1057.0 1024.5,1057.9 C1025.5,1058.7 1026.5,1059.6 1027.5,1060.5 C1028.5,1061.4 1029.5,1062.2 1030.6,1063.1 C1031.6,1064.0 1032.6,1064.9 1033.6,1065.7 C1034.6,1066.6 1035.6,1067.5 1036.6,1068.4 C1037.6,1069.2 1038.6,1070.1 1039.7,1070.9 C1040.7,1071.8 1041.7,1072.6 1042.8,1073.4 C1043.8,1074.2 1044.9,1075.0 1046.0,1075.8 C1047.1,1076.6 1048.1,1077.4 1049.2,1078.1 C1050.3,1078.9 1051.5,1079.6 1052.6,1080.4 C1053.7,1081.1 1054.8,1081.8 1055.9,1082.6 C1057.0,1083.4 1058.1,1084.1 1059.1,1084.9 C1060.2,1085.7 1061.2,1086.6 1062.2,1087.4 C1063.2,1088.3 1064.2,1089.2 1065.1,1090.1 C1066.1,1091.1 1067.0,1092.1 1067.9,1093.0 C1068.8,1094.0 1069.6,1095.1 1070.5,1096.1 C1071.3,1097.1 1072.1,1098.2 1072.9,1099.3 C1073.7,1100.3 1074.5,1101.4 1075.2,1102.5 C1076.0,1103.6 1076.7,1104.7 1077.5,1105.8 C1078.2,1106.9 1079.0,1108.0 1079.7,1109.1 C1080.4,1110.3 1081.1,1111.4 1081.8,1112.5 C1082.5,1113.7 1083.2,1114.8 1083.9,1115.9 C1084.6,1117.1 1085.3,1118.2 1085.9,1119.4 C1086.6,1120.5 1087.3,1121.7 1087.9,1122.9 C1088.6,1124.0 1089.2,1125.2 1089.9,1126.4 C1090.5,1127.5 1091.1,1128.7 1091.7,1129.9 C1092.4,1131.1 1093.0,1132.3 1093.6,1133.4 C1094.2,1134.6 1094.8,1135.8 1095.3,1137.0 C1095.9,1138.2 1096.5,1139.4 1097.1,1140.6 C1097.6,1141.8 1098.2,1143.1 1098.7,1144.3 C1099.3,1145.5 1099.8,1146.7 1100.3,1147.9 C1100.8,1149.2 1101.3,1150.4 1101.8,1151.7 C1102.3,1152.9 1102.7,1154.1 1103.2,1155.4 C1103.6,1156.7 1104.1,1157.9 1104.5,1159.2 C1104.9,1160.4 1105.3,1161.7 1105.8,1163.0 C1106.2,1164.2 1106.6,1165.5 1107.0,1166.8 C1107.4,1168.1 1107.8,1169.3 1108.2,1170.6 C1108.6,1171.9 1109.0,1173.1 1109.4,1174.4 C1109.8,1175.7 1110.2,1176.9 1110.6,1178.2 C1111.0,1179.5 1111.5,1180.8 1111.9,1182.0 C1112.3,1183.3 1112.7,1184.6 1113.1,1185.8 C1113.5,1187.1 1113.9,1188.4 1114.3,1189.6 C1114.7,1190.9 1115.1,1192.2 1115.5,1193.4 C1116.0,1194.7 1116.4,1196.0 1116.8,1197.2 C1117.2,1198.5 1117.7,1199.8 1118.1,1201.0 C1118.5,1202.3 1119.0,1203.5 1119.5,1204.8 C1119.9,1206.0 1120.4,1207.3 1120.9,1208.5 C1121.3,1209.8 1121.8,1211.0 1122.3,1212.3 C1122.8,1213.5 1123.3,1214.7 1123.8,1216.0 C1124.3,1217.2 1124.8,1218.4 1125.3,1219.7 C1125.9,1220.9 1126.4,1222.1 1126.9,1223.3 C1127.4,1224.6 1128.0,1225.8 1128.5,1227.0 C1129.1,1228.2 1129.6,1229.4 1130.2,1230.6 C1130.8,1231.8 1131.3,1233.1 1131.9,1234.2 C1132.5,1235.4 1133.1,1236.6 1133.7,1237.8 C1134.3,1239.0 1134.9,1240.2 1135.6,1241.4 C1136.2,1242.5 1136.9,1243.7 1137.5,1244.9 C1138.2,1246.0 1138.8,1247.2 1139.5,1248.3 C1140.2,1249.5 1140.9,1250.6 1141.6,1251.8 C1142.3,1252.9 1143.0,1254.0 1143.7,1255.2 C1144.4,1256.3 1145.1,1257.4 1145.8,1258.5 C1146.6,1259.6 1147.3,1260.7 1148.1,1261.8 C1148.8,1262.9 1149.6,1264.0 1150.3,1265.1 C1151.1,1266.2 1151.9,1267.3 1152.7,1268.4 C1153.5,1269.5 1154.3,1270.5 1155.1,1271.6 C1155.9,1272.6 1156.7,1273.7 1157.5,1274.7 C1158.3,1275.8 1159.2,1276.8 1160.0,1277.9 C1160.9,1278.9 1161.7,1279.9 1162.6,1280.9 C1163.4,1281.9 1164.3,1283.0 1165.2,1284.0 C1166.1,1285.0 1167.0,1285.9 1167.9,1286.9 C1168.8,1287.9 1169.7,1288.9 1170.6,1289.9 C1171.5,1290.8 1172.4,1291.8 1173.4,1292.7 C1174.3,1293.7 1175.3,1294.6 1176.2,1295.6 C1177.2,1296.5 1178.1,1297.4 1179.1,1298.3 C1180.0,1299.3 1181.0,1300.2 1182.0,1301.1 C1183.0,1302.0 1184.0,1302.9 1185.0,1303.8 C1186.0,1304.6 1187.0,1305.5 1188.0,1306.4 C1189.0,1307.3 1190.0,1308.1 1191.0,1309.0 C1192.1,1309.8 1193.1,1310.7 1194.1,1311.5 C1195.2,1312.3 1196.2,1313.2 1197.3,1314.0 C1198.3,1314.8 1199.4,1315.6 1200.4,1316.4 C1201.5,1317.3 1202.5,1318.1 1203.6,1318.9 C1204.7,1319.7 1205.8,1320.4 1206.8,1321.2 C1207.9,1322.0 1209.0,1322.8 1210.1,1323.5 C1211.2,1324.3 1212.3,1325.1 1213.4,1325.8 C1214.5,1326.6 1215.6,1327.3 1216.7,1328.1 C1217.8,1328.8 1218.9,1329.6 1220.0,1330.4 C1221.1,1331.1 1222.1,1331.9 1223.2,1332.7 C1224.3,1333.5 1225.4,1334.3 1226.4,1335.1 C1227.5,1335.9 1228.5,1336.8 1229.5,1337.6 C1230.6,1338.4 1231.6,1339.3 1232.6,1340.2 C1233.6,1341.0 1234.6,1341.9 1235.7,1342.7 C1236.7,1343.6 1237.7,1344.4 1238.8,1345.2 C1239.8,1346.0 1240.9,1346.9 1242.0,1347.6 C1243.1,1348.4 1244.2,1349.1 1245.3,1349.9 C1246.4,1350.6 1247.6,1351.3 1248.7,1351.9 C1249.9,1352.6 1251.1,1353.2 1252.3,1353.7 C1253.5,1354.3 1254.7,1354.8 1255.9,1355.2 C1257.2,1355.7 1258.4,1356.0 1259.7,1356.3 C1261.0,1356.5 1262.3,1356.7 1263.6,1356.7 C1264.9,1356.8 1266.2,1356.7 1267.5,1356.6 C1268.9,1356.5 1270.2,1356.3 1271.5,1356.1 C1272.8,1355.9 1274.1,1355.6 1275.4,1355.4 C1276.7,1355.1 1278.0,1354.8 1279.3,1354.5 C1280.6,1354.2 1281.9,1353.9 1283.2,1353.6 C1284.5,1353.3 1285.8,1353.0 1287.1,1352.7 C1288.4,1352.4 1289.7,1352.1 1291.0,1351.8 C1292.3,1351.6 1293.6,1351.3 1294.9,1351.2 C1296.2,1351.1 1297.5,1351.0 1298.8,1351.0 C1300.1,1351.1 1301.4,1351.2 1302.7,1351.5 C1304.0,1351.7 1305.3,1352.1 1306.5,1352.6 C1307.7,1353.0 1308.9,1353.6 1310.1,1354.2 C1311.2,1354.8 1312.4,1355.5 1313.5,1356.2 C1314.6,1356.9 1315.7,1357.7 1316.7,1358.5 C1317.8,1359.3 1318.8,1360.2 1319.8,1361.0 C1320.8,1361.9 1321.8,1362.8 1322.8,1363.7 C1323.8,1364.6 1324.7,1365.5 1325.7,1366.4 C1326.7,1367.4 1327.6,1368.3 1328.6,1369.2 C1329.5,1370.2 1330.5,1371.1 1331.4,1372.1 C1332.3,1373.0 1333.3,1373.9 1334.2,1374.9 C1335.2,1375.8 1336.1,1376.8 1337.0,1377.7 C1338.0,1378.7 1338.9,1379.6 1339.9,1380.6 C1340.8,1381.5 1341.8,1382.4 1342.7,1383.4 C1343.6,1384.3 1344.6,1385.3 1345.5,1386.2 C1346.5,1387.2 1347.4,1388.1 1348.4,1389.0 C1349.3,1390.0 1350.2,1390.9 1351.2,1391.9 C1352.1,1392.8 1353.1,1393.8 1354.0,1394.7 C1355.0,1395.7 1355.9,1396.6 1356.8,1397.5 C1357.8,1398.5 1358.7,1399.4 1359.7,1400.4 C1360.6,1401.3 1361.5,1402.3 1362.5,1403.2 C1363.4,1404.2 1364.4,1405.1 1365.3,1406.1 C1366.2,1407.0 1367.2,1408.0 1368.1,1408.9 C1369.0,1409.8 1370.0,1410.8 1370.9,1411.7 C1371.9,1412.7 1372.8,1413.6 1373.7,1414.6 C1374.7,1415.5 1375.6,1416.5 1376.6,1417.4 C1377.5,1418.3 1378.5,1419.3 1379.4,1420.2 C1380.4,1421.1 1381.4,1422.0 1382.3,1423.0 C1383.3,1423.9 1384.3,1424.8 1385.3,1425.7 C1386.3,1426.6 1387.3,1427.4 1388.3,1428.3 C1389.3,1429.2 1390.3,1430.1 1391.3,1430.9 C1392.3,1431.8 1393.3,1432.7 1394.4,1433.5 C1395.4,1434.3 1396.4,1435.2 1397.5,1436.0 C1398.5,1436.9 1399.5,1437.7 1400.6,1438.5 C1401.6,1439.4 1402.6,1440.2 1403.7,1441.1 C1404.7,1441.9 1405.7,1442.8 1406.7,1443.7 C1407.7,1444.6 1408.7,1445.4 1409.7,1446.3 C1410.7,1447.2 1411.7,1448.1 1412.7,1449.0 C1413.7,1449.9 1414.6,1450.8 1415.6,1451.7 C1416.6,1452.6 1417.6,1453.5 1418.6,1454.4 C1419.6,1455.3 1420.6,1456.2 1421.6,1457.1 C1422.6,1458.0 1423.5,1458.8 1424.5,1459.7 C1425.5,1460.6 1426.5,1461.5 1427.5,1462.4 C1428.5,1463.3 1429.5,1464.2 1430.4,1465.1 C1431.4,1466.0 1432.4,1466.9 1433.4,1467.8 C1434.4,1468.7 1435.4,1469.6 1436.4,1470.5 C1437.4,1471.3 1438.4,1472.2 1439.4,1473.1 C1440.5,1473.9 1441.5,1474.8 1442.5,1475.6 C1443.6,1476.4 1444.6,1477.3 1445.7,1478.1 C1446.7,1478.9 1447.8,1479.7 1448.8,1480.5 C1449.9,1481.4 1451.0,1482.2 1452.0,1483.0 C1453.1,1483.7 1454.2,1484.5 1455.3,1485.3 C1456.4,1486.1 1457.5,1486.8 1458.6,1487.5 C1459.7,1488.2 1460.9,1488.9 1462.0,1489.5 C1463.2,1490.1 1464.4,1490.7 1465.6,1491.2 C1466.8,1491.8 1468.1,1492.3 1469.3,1492.7 C1470.6,1493.1 1471.9,1493.4 1473.1,1493.7 C1474.4,1494.0 1475.7,1494.3 1477.0,1494.5 C1478.4,1494.6 1479.7,1494.7 1481.0,1494.8 C1482.3,1494.9 1483.7,1494.9 1485.0,1495.0 C1486.3,1495.0 1487.7,1494.9 1489.0,1494.9 C1490.3,1494.8 1491.7,1494.8 1493.0,1494.7 C1494.3,1494.6 1495.6,1494.5 1497.0,1494.4 C1498.3,1494.3 1499.6,1494.2 1501.0,1494.1 C1502.3,1494.0 1503.6,1493.9 1505.0,1493.8 C1506.3,1493.7 1507.6,1493.6 1508.9,1493.6 C1510.3,1493.5 1511.6,1493.5 1512.9,1493.5 C1514.3,1493.5 1515.6,1493.5 1516.9,1493.5 C1518.3,1493.6 1519.6,1493.7 1520.9,1493.8 C1522.2,1494.0 1523.5,1494.1 1524.9,1494.3 C1526.2,1494.6 1527.5,1494.8 1528.8,1495.1 C1530.1,1495.3 1531.4,1495.6 1532.7,1496.0 C1534.0,1496.3 1535.3,1496.7 1536.5,1497.0 C1537.8,1497.4 1539.1,1497.8 1540.3,1498.3 C1541.6,1498.7 1542.8,1499.2 1544.1,1499.7 C1545.3,1500.1 1546.6,1500.6 1547.8,1501.2 C1549.0,1501.7 1550.2,1502.2 1551.4,1502.8 C1552.7,1503.3 1553.9,1503.9 1555.1,1504.4 C1556.3,1505.0 1557.5,1505.6 1558.7,1506.1 C1559.9,1506.7 1561.1,1507.3 1562.3,1507.8 C1563.5,1508.4 1564.8,1508.9 1566.0,1509.5 C1567.2,1510.0 1568.4,1510.5 1569.7,1511.0 C1570.9,1511.5 1572.1,1512.0 1573.4,1512.4 C1574.6,1512.8 1575.9,1513.2 1577.2,1513.5 C1578.5,1513.8 1579.8,1514.1 1581.1,1514.3 C1582.4,1514.5 1583.7,1514.6 1585.1,1514.7 C1586.4,1514.8 1587.7,1514.9 1589.0,1515.0 C1590.4,1515.0 1591.7,1515.1 1593.0,1515.1 C1594.4,1515.1 1595.7,1515.1 1597.0,1515.2 C1598.4,1515.2 1599.7,1515.2 1601.0,1515.2 C1602.4,1515.2 1603.7,1515.2 1605.0,1515.1 C1606.4,1515.1 1607.7,1515.1 1609.0,1515.0 C1610.4,1515.0 1611.7,1514.9 1613.0,1514.9 C1614.4,1514.8 1615.7,1514.7 1617.0,1514.6 C1618.4,1514.5 1619.7,1514.4 1621.0,1514.3 C1622.3,1514.2 1623.7,1514.0 1625.0,1513.9 C1626.3,1513.7 1627.6,1513.6 1629.0,1513.4 C1630.3,1513.3 1631.6,1513.1 1632.9,1512.9 C1634.3,1512.8 1635.6,1512.6 1636.9,1512.4 C1638.2,1512.3 1639.5,1512.1 1640.9,1511.9 C1642.2,1511.7 1643.5,1511.6 1644.8,1511.4 C1646.2,1511.2 1647.5,1511.1 1648.8,1510.9 C1650.1,1510.7 1651.4,1510.5 1652.8,1510.3 C1654.1,1510.0 1655.4,1509.8 1656.7,1509.5 C1658.0,1509.2 1659.3,1508.9 1660.6,1508.6 C1661.9,1508.3 1663.1,1507.9 1664.4,1507.6 C1665.7,1507.3 1667.0,1506.9 1668.3,1506.6 C1669.6,1506.2 1670.9,1505.9 1672.2,1505.6 C1673.5,1505.3 1674.8,1505.0 1676.1,1504.7 C1677.4,1504.4 1678.7,1504.1 1680.0,1503.9 C1681.3,1503.6 1682.6,1503.3 1683.9,1503.1 C1685.2,1502.9 1686.6,1502.7 1687.9,1502.6 C1689.2,1502.4 1690.5,1502.2 1691.8,1502.1 C1693.2,1502.0 1694.5,1501.9 1695.8,1501.9 C1697.2,1501.8 1698.5,1501.8 1699.8,1501.8 C1701.1,1501.9 1702.5,1501.9 1703.8,1502.0 C1705.1,1502.1 1706.5,1502.2 1707.8,1502.4 C1709.1,1502.6 1710.4,1502.8 1711.7,1503.0 C1713.0,1503.3 1714.3,1503.6 1715.6,1503.9 C1716.9,1504.2 1718.2,1504.5 1719.5,1504.9 C1720.8,1505.2 1722.1,1505.6 1723.3,1506.0 C1724.6,1506.4 1725.9,1506.8 1727.1,1507.3 C1728.4,1507.7 1729.6,1508.1 1730.9,1508.6 C1732.1,1509.0 1733.4,1509.5 1734.6,1510.0 C1735.9,1510.4 1737.1,1510.9 1738.4,1511.4 C1739.6,1511.9 1740.9,1512.4 1742.1,1512.9 C1743.3,1513.3 1744.6,1513.8 1745.8,1514.3 C1747.1,1514.8 1748.3,1515.3 1749.5,1515.8 C1750.8,1516.3 1752.0,1516.8 1753.2,1517.4 C1754.5,1517.9 1755.7,1518.4 1756.9,1518.9 C1758.2,1519.4 1759.4,1519.9 1760.6,1520.4 C1761.8,1521.0 1763.1,1521.5 1764.3,1522.0 C1765.5,1522.5 1766.7,1523.1 1768.0,1523.6 C1769.2,1524.1 1770.4,1524.6 1771.7,1525.1 C1772.9,1525.5 1774.2,1526.0 1775.4,1526.4 C1776.7,1526.8 1778.0,1527.2 1779.3,1527.5 C1780.6,1527.9 1781.9,1528.2 1783.2,1528.4 C1784.5,1528.7 1785.8,1529.0 1787.1,1529.2 C1788.4,1529.4 1789.7,1529.6 1791.0,1529.8 C1792.4,1529.9 1793.7,1530.1 1795.0,1530.3 C1796.3,1530.4 1797.7,1530.5 1799.0,1530.7 C1800.3,1530.8 1801.6,1530.9 1803.0,1531.0 C1804.3,1531.1 1805.6,1531.2 1807.0,1531.3 C1808.3,1531.4 1809.6,1531.4 1811.0,1531.5 C1812.3,1531.6 1813.6,1531.6 1814.9,1531.7 C1816.3,1531.7 1817.6,1531.8 1818.9,1531.8 C1820.3,1531.9 1821.6,1532.0 1822.9,1532.0 C1824.3,1532.1 1825.6,1532.2 1826.9,1532.2 C1828.3,1532.3 1829.6,1532.4 1830.9,1532.5 C1832.3,1532.6 1833.6,1532.7 1834.9,1532.7 C1836.3,1532.8 1837.6,1532.9 1838.9,1532.9 C1840.2,1533.0 1841.6,1533.0 1842.9,1533.0 C1844.2,1533.0 1845.6,1533.0 1846.9,1533.0 C1848.2,1532.9 1849.6,1532.9 1850.9,1532.8 C1852.2,1532.7 1853.6,1532.6 1854.9,1532.5 C1856.2,1532.4 1857.5,1532.3 1858.9,1532.1 C1860.2,1532.0 1861.5,1531.8 1862.8,1531.7 C1864.2,1531.5 1865.5,1531.3 1866.8,1531.0 C1868.1,1530.8 1869.4,1530.5 1870.7,1530.3 C1872.0,1530.0 1873.3,1529.7 1874.6,1529.3 C1875.9,1529.0 1877.2,1528.6 1878.5,1528.3 C1879.7,1528.0 1881.0,1527.6 1882.3,1527.3 C1883.6,1526.9 1884.9,1526.6 1886.2,1526.3 C1887.5,1526.1 1888.8,1525.8 1890.1,1525.6 C1891.4,1525.4 1892.8,1525.3 1894.1,1525.2 C1895.4,1525.1 1896.7,1525.0 1898.1,1525.0 C1899.4,1525.0 1900.7,1525.0 1902.1,1525.1 C1903.4,1525.1 1904.7,1525.2 1906.0,1525.3 C1907.4,1525.4 1908.7,1525.5 1910.0,1525.6 C1911.4,1525.7 1912.7,1525.9 1914.0,1526.1 C1915.3,1526.2 1916.6,1526.4 1918.0,1526.6 C1919.3,1526.8 1920.6,1527.1 1921.9,1527.3 C1923.2,1527.6 1924.5,1527.8 1925.8,1528.1 C1927.1,1528.4 1928.4,1528.7 1929.7,1529.1 C1931.0,1529.4 1932.2,1529.8 1933.5,1530.2 C1934.8,1530.6 1936.0,1531.1 1937.3,1531.5 C1938.5,1532.0 1939.8,1532.5 1941.0,1533.0 C1942.3,1533.5 1943.5,1534.0 1944.7,1534.5 C1946.0,1535.0 1947.2,1535.5 1948.4,1536.0 C1949.7,1536.4 1950.9,1536.9 1952.2,1537.4 C1953.4,1537.9 1954.6,1538.4 1955.9,1538.9 C1957.1,1539.4 1958.3,1539.9 1959.6,1540.4 C1960.8,1540.9 1962.1,1541.4 1963.3,1541.9 C1964.5,1542.4 1965.8,1542.8 1967.0,1543.3 C1968.3,1543.8 1969.5,1544.2 1970.8,1544.7 C1972.1,1545.1 1973.3,1545.6 1974.6,1546.0 C1975.8,1546.4 1977.1,1546.8 1978.4,1547.1 C1979.7,1547.5 1981.0,1547.8 1982.3,1548.1 C1983.6,1548.4 1984.9,1548.7 1986.2,1549.0 C1987.5,1549.2 1988.8,1549.4 1990.1,1549.6 C1991.4,1549.8 1992.8,1549.9 1994.1,1550.0 C1995.4,1550.2 1996.7,1550.2 1998.1,1550.3 C1999.4,1550.4 2000.7,1550.4 2002.1,1550.4 C2003.4,1550.4 2004.7,1550.4 2006.1,1550.4 C2007.4,1550.3 2008.7,1550.3 2010.1,1550.2 C2011.4,1550.1 2012.7,1550.0 2014.0,1549.9 C2015.4,1549.9 2016.7,1549.8 2018.0,1549.7 C2019.4,1549.6 2020.7,1549.5 2022.0,1549.4 C2023.4,1549.3 2024.7,1549.2 2026.0,1549.2 C2027.4,1549.1 2028.7,1549.0 2030.0,1548.9 C2031.3,1548.8 2032.7,1548.7 2034.0,1548.7 C2035.3,1548.6 2036.7,1548.5 2038.0,1548.5 C2039.3,1548.4 2040.7,1548.4 2042.0,1548.3 C2043.3,1548.3 2044.7,1548.3 2046.0,1548.3 C2047.3,1548.3 2048.7,1548.3 2050.0,1548.4 C2051.3,1548.4 2052.7,1548.5 2054.0,1548.5 C2055.3,1548.6 2056.7,1548.7 2058.0,1548.8 C2059.3,1548.8 2060.6,1548.9 2062.0,1549.0 C2063.3,1549.1 2064.6,1549.2 2066.0,1549.2 C2067.3,1549.3 2068.6,1549.4 2070.0,1549.5 C2071.3,1549.5 2072.6,1549.6 2074.0,1549.6 C2075.3,1549.7 2076.6,1549.8 2078.0,1549.8 C2079.3,1549.9 2080.6,1549.9 2082.0,1550.0 C2083.3,1550.1 2084.6,1550.1 2085.9,1550.2 C2087.3,1550.3 2088.6,1550.4 2089.9,1550.5 C2091.3,1550.6 2092.6,1550.7 2093.9,1550.8 C2095.3,1550.9 2096.6,1551.0 2097.9,1551.2 C2099.2,1551.3 2100.6,1551.4 2101.9,1551.6 C2103.2,1551.7 2104.5,1551.9 2105.9,1552.0 C2107.2,1552.2 2108.5,1552.3 2109.8,1552.5 C2111.2,1552.6 2112.5,1552.8 2113.8,1552.9 C2115.1,1553.1 2116.5,1553.2 2117.8,1553.3 C2119.1,1553.5 2120.4,1553.6 2121.8,1553.8 C2123.1,1553.9 2124.4,1554.1 2125.7,1554.2 C2127.1,1554.4 2128.4,1554.5 2129.7,1554.7 C2131.0,1554.9 2132.4,1555.0 2133.7,1555.2 C2135.0,1555.4 2136.3,1555.6 2137.6,1555.8 C2139.0,1556.0 2140.3,1556.2 2141.6,1556.4 C2142.9,1556.6 2144.2,1556.8 2145.6,1557.0 C2146.9,1557.2 2148.2,1557.4 2149.5,1557.6 C2150.8,1557.8 2152.1,1558.0 2153.5,1558.2 C2154.8,1558.4 2156.1,1558.6 2157.4,1558.8 C2158.7,1559.0 2160.0,1559.2 2161.4,1559.4 C2162.7,1559.6 2164.0,1559.8 2165.3,1560.0 C2166.6,1560.2 2168.0,1560.4 2169.3,1560.6 C2170.6,1560.8 2171.9,1561.0 2173.2,1561.2 C2174.6,1561.4 2175.9,1561.6 2177.2,1561.7 C2178.5,1561.9 2179.8,1562.0 2181.2,1562.2 C2182.5,1562.3 2183.8,1562.5 2185.1,1562.6 C2186.5,1562.7 2187.8,1562.9 2189.1,1563.0 C2190.5,1563.1 2191.8,1563.2 2193.1,1563.3 C2194.4,1563.4 2195.8,1563.5 2197.1,1563.5 C2198.4,1563.6 2199.8,1563.7 2201.1,1563.7 C2202.4,1563.7 2203.8,1563.8 2205.1,1563.8 C2206.4,1563.8 2207.8,1563.8 2209.1,1563.8 C2210.4,1563.8 2211.8,1563.8 2213.1,1563.7 C2214.4,1563.7 2215.8,1563.6 2217.1,1563.6 C2218.4,1563.5 2219.8,1563.5 2221.1,1563.4 C2222.4,1563.3 2223.8,1563.3 2225.1,1563.2 C2226.4,1563.1 2227.8,1563.0 2229.1,1562.9 C2230.4,1562.8 2231.7,1562.7 2233.1,1562.6 C2234.4,1562.5 2235.7,1562.4 2237.1,1562.3 C2238.4,1562.1 2239.7,1562.0 2241.0,1561.8 C2242.4,1561.7 2243.7,1561.5 2245.0,1561.3 C2246.3,1561.1 2247.6,1560.9 2248.9,1560.7 C2250.3,1560.4 2251.6,1560.2 2252.9,1559.9 C2254.2,1559.6 2255.5,1559.4 2256.8,1559.1 C2258.1,1558.8 2259.4,1558.4 2260.7,1558.1 C2261.9,1557.8 2263.2,1557.4 2264.5,1557.1 C2265.8,1556.7 2267.1,1556.3 2268.3,1555.9 C2269.6,1555.5 2270.9,1555.1 2272.1,1554.7 C2273.4,1554.3 2274.7,1553.8 2275.9,1553.3 C2277.2,1552.9 2278.4,1552.4 2279.6,1551.9 C2280.9,1551.4 2282.1,1550.9 2283.3,1550.4 C2284.6,1549.9 2285.8,1549.4 2287.0,1548.9 C2288.3,1548.4 2289.5,1547.9 2290.8,1547.4 C2292.0,1547.0 2293.3,1546.5 2294.5,1546.0 C2295.8,1545.6 2297.0,1545.1 2298.3,1544.7 C2299.5,1544.2 2300.8,1543.8 2302.0,1543.3 C2303.3,1542.9 2304.9,1542.3 2305.8,1542.0 C2306.8,1541.6 2307.4,1541.4 2307.7,1541.3" stroke="#00ffff"/>
<path d="M306.0,1563.5 C306.7,1563.6 308.7,1563.7 310.0,1563.8 C311.3,1563.9 312.6,1564.0 314.0,1564.1 C315.3,1564.2 316.6,1564.4 318.0,1564.4 C319.3,1564.5 320.6,1564.6 322.0,1564.6 C323.3,1564.7 324.6,1564.7 325.9,1564.7 C327.3,1564.7 328.6,1564.6 329.9,1564.6 C331.3,1564.5 332.6,1564.4 333.9,1564.3 C335.3,1564.2 336.6,1564.1 337.9,1563.9 C339.2,1563.7 340.5,1563.6 341.9,1563.4 C343.2,1563.1 344.5,1562.9 345.8,1562.6 C347.1,1562.4 348.4,1562.1 349.7,1561.7 C351.0,1561.4 352.2,1561.0 353.5,1560.6 C354.7,1560.2 356.0,1559.7 357.2,1559.2 C358.4,1558.6 359.5,1558.0 360.6,1557.3 C361.7,1556.6 362.7,1555.8 363.8,1555.0 C364.8,1554.3 365.9,1553.5 366.9,1552.7 C368.0,1552.0 369.1,1551.4 370.2,1550.8 C371.3,1550.1 372.5,1549.6 373.6,1548.9 C374.7,1548.2 375.8,1547.5 376.8,1546.7 C377.8,1545.9 378.8,1545.0 379.7,1544.1 C380.7,1543.2 381.6,1542.2 382.5,1541.2 C383.4,1540.2 384.3,1539.2 385.1,1538.2 C386.0,1537.2 386.8,1536.1 387.7,1535.1 C388.5,1534.0 389.3,1533.0 390.0,1531.9 C390.8,1530.8 391.6,1529.7 392.3,1528.6 C393.0,1527.5 393.7,1526.4 394.4,1525.2 C395.1,1524.1 395.8,1522.9 396.5,1521.8 C397.1,1520.6 397.8,1519.4 398.4,1518.3 C399.0,1517.1 399.6,1515.9 400.2,1514.7 C400.8,1513.5 401.4,1512.3 402.0,1511.1 C402.5,1509.9 403.0,1508.7 403.6,1507.5 C404.1,1506.2 404.6,1505.0 405.1,1503.8 C405.6,1502.5 406.1,1501.3 406.6,1500.1 C407.1,1498.8 407.6,1497.6 408.1,1496.3 C408.6,1495.1 409.1,1493.9 409.6,1492.6 C410.1,1491.4 410.6,1490.2 411.1,1488.9 C411.6,1487.7 412.1,1486.5 412.6,1485.2 C413.1,1484.0 413.6,1482.8 414.1,1481.5 C414.6,1480.3 415.1,1479.0 415.6,1477.8 C416.1,1476.6 416.5,1475.3 417.0,1474.1 C417.4,1472.8 417.9,1471.5 418.3,1470.3 C418.8,1469.0 419.2,1467.8 419.6,1466.5 C420.1,1465.2 420.5,1464.0 420.9,1462.7 C421.3,1461.4 421.7,1460.2 422.1,1458.9 C422.5,1457.6 423.0,1456.4 423.4,1455.1 C423.8,1453.8 424.2,1452.6 424.6,1451.3 C425.0,1450.0 425.4,1448.8 425.8,1447.5 C426.2,1446.2 426.7,1445.0 427.1,1443.7 C427.5,1442.4 427.9,1441.1 428.3,1439.9 C428.7,1438.6 429.1,1437.3 429.5,1436.1 C429.9,1434.8 430.2,1433.5 430.6,1432.2 C431.0,1431.0 431.4,1429.7 431.8,1428.4 C432.2,1427.1 432.6,1425.8 433.0,1424.6 C433.3,1423.3 433.7,1422.0 434.1,1420.7 C434.5,1419.5 434.9,1418.2 435.2,1416.9 C435.6,1415.6 436.0,1414.4 436.4,1413.1 C436.8,1411.8 437.2,1410.5 437.5,1409.2 C437.9,1408.0 438.3,1406.7 438.7,1405.4 C439.1,1404.1 439.5,1402.9 439.9,1401.6 C440.3,1400.3 440.7,1399.0 441.1,1397.8 C441.4,1396.5 441.8,1395.2 442.2,1393.9 C442.6,1392.7 443.0,1391.4 443.4,1390.1 C443.8,1388.8 444.1,1387.6 444.5,1386.3 C444.9,1385.0 445.2,1383.7 445.6,1382.4 C446.0,1381.1 446.3,1379.9 446.7,1378.6 C447.0,1377.3 447.4,1376.0 447.7,1374.7 C448.0,1373.4 448.4,1372.1 448.7,1370.8 C449.1,1369.6 449.4,1368.3 449.8,1367.0 C450.1,1365.7 450.5,1364.4 450.8,1363.1 C451.2,1361.8 451.6,1360.6 451.9,1359.3 C452.3,1358.0 452.7,1356.7 453.1,1355.5 C453.5,1354.2 453.9,1352.9 454.3,1351.6 C454.7,1350.4 455.1,1349.1 455.5,1347.8 C455.9,1346.5 456.3,1345.3 456.7,1344.0 C457.1,1342.7 457.5,1341.5 457.9,1340.2 C458.3,1338.9 458.7,1337.6 459.1,1336.4 C459.5,1335.1 459.9,1333.8 460.3,1332.6 C460.7,1331.3 461.1,1330.0 461.5,1328.7 C461.9,1327.5 462.2,1326.2 462.6,1324.9 C463.0,1323.6 463.4,1322.3 463.8,1321.1 C464.1,1319.8 464.5,1318.5 464.9,1317.2 C465.3,1316.0 465.6,1314.7 466.0,1313.4 C466.4,1312.1 466.8,1310.8 467.2,1309.6 C467.6,1308.3 468.0,1307.0 468.4,1305.7 C468.8,1304.5 469.2,1303.2 469.6,1301.9 C470.0,1300.7 470.4,1299.4 470.9,1298.1 C471.3,1296.9 471.7,1295.6 472.2,1294.4 C472.6,1293.1 473.1,1291.9 473.5,1290.6 C474.0,1289.4 474.4,1288.1 474.9,1286.9 C475.4,1285.6 475.8,1284.4 476.3,1283.1 C476.8,1281.9 477.3,1280.6 477.7,1279.4 C478.2,1278.1 478.7,1276.9 479.2,1275.6 C479.7,1274.4 480.2,1273.2 480.6,1271.9 C481.1,1270.7 481.6,1269.4 482.1,1268.2 C482.6,1266.9 483.1,1265.7 483.6,1264.5 C484.1,1263.2 484.5,1262.0 485.0,1260.7 C485.5,1259.5 486.0,1258.3 486.5,1257.0 C487.0,1255.8 487.5,1254.6 488.0,1253.3 C488.5,1252.1 489.1,1250.9 489.6,1249.6 C490.1,1248.4 490.7,1247.2 491.2,1246.0 C491.8,1244.8 492.3,1243.6 492.9,1242.4 C493.5,1241.2 494.1,1240.0 494.7,1238.8 C495.3,1237.6 495.9,1236.4 496.5,1235.2 C497.2,1234.1 497.8,1232.9 498.4,1231.7 C499.1,1230.6 499.7,1229.4 500.4,1228.2 C501.0,1227.1 501.7,1225.9 502.4,1224.8 C503.1,1223.6 503.8,1222.5 504.5,1221.3 C505.2,1220.2 505.9,1219.1 506.6,1218.0 C507.3,1216.8 508.0,1215.7 508.8,1214.6 C509.5,1213.5 510.3,1212.4 511.1,1211.3 C511.8,1210.3 512.6,1209.2 513.5,1208.1 C514.3,1207.1 515.1,1206.0 516.0,1205.0 C516.8,1204.0 517.7,1203.0 518.5,1202.0 C519.4,1201.0 520.3,1200.0 521.2,1199.0 C522.1,1198.0 523.0,1197.0 523.9,1196.0 C524.8,1195.0 525.7,1194.0 526.5,1193.0 C527.4,1192.0 528.2,1191.0 529.1,1190.0 C530.0,1188.9 530.8,1187.9 531.7,1186.9 C532.5,1185.9 533.4,1184.9 534.4,1184.0 C535.3,1183.1 536.3,1182.3 537.3,1181.6 C538.4,1180.8 539.5,1180.3 540.6,1179.6 C541.8,1179.0 542.9,1178.5 544.0,1177.8 C545.2,1177.2 546.2,1176.5 547.3,1175.7 C548.3,1174.9 549.3,1174.0 550.2,1173.1 C551.1,1172.2 552.0,1171.2 552.9,1170.2 C553.7,1169.2 554.5,1168.1 555.3,1167.0 C556.1,1165.9 556.8,1164.8 557.4,1163.7 C558.1,1162.5 558.7,1161.4 559.3,1160.2 C559.8,1159.0 560.3,1157.7 560.8,1156.5 C561.4,1155.3 561.9,1154.1 562.5,1152.9 C563.1,1151.7 563.7,1150.6 564.4,1149.5 C565.1,1148.4 566.0,1147.4 566.8,1146.4 C567.7,1145.4 568.6,1144.4 569.5,1143.5 C570.4,1142.5 571.3,1141.5 572.2,1140.5 C573.1,1139.6 574.0,1138.5 574.7,1137.5 C575.5,1136.4 576.3,1135.3 577.0,1134.2 C577.7,1133.1 578.3,1131.9 578.9,1130.7 C579.5,1129.6 580.1,1128.3 580.7,1127.2 C581.3,1126.0 581.8,1124.8 582.4,1123.6 C583.0,1122.4 583.7,1121.2 584.3,1120.0 C584.9,1118.9 585.6,1117.7 586.3,1116.6 C587.0,1115.4 587.7,1114.3 588.4,1113.2 C589.1,1112.0 589.8,1110.9 590.5,1109.8 C591.2,1108.6 591.8,1107.5 592.5,1106.3 C593.1,1105.1 593.7,1103.9 594.3,1102.7 C594.8,1101.5 595.4,1100.3 595.9,1099.1 C596.4,1097.9 596.9,1096.6 597.4,1095.4 C597.9,1094.2 598.4,1092.9 598.9,1091.7 C599.4,1090.5 599.9,1089.2 600.5,1088.0 C601.0,1086.8 601.5,1085.5 602.0,1084.3 C602.5,1083.1 603.0,1081.8 603.5,1080.6 C604.1,1079.4 604.6,1078.2 605.1,1076.9 C605.6,1075.7 606.1,1074.5 606.6,1073.2 C607.1,1072.0 607.6,1070.8 608.1,1069.5 C608.6,1068.3 609.1,1067.1 609.6,1065.8 C610.1,1064.6 610.6,1063.3 611.1,1062.1 C611.5,1060.8 612.0,1059.6 612.5,1058.3 C612.9,1057.1 613.4,1055.8 613.8,1054.6 C614.3,1053.3 614.7,1052.1 615.1,1050.8 C615.6,1049.5 616.0,1048.3 616.4,1047.0 C616.8,1045.7 617.2,1044.5 617.6,1043.2 C618.0,1041.9 618.5,1040.7 618.8,1039.4 C619.2,1038.1 619.6,1036.8 620.0,1035.6 C620.4,1034.3 620.8,1033.0 621.2,1031.7 C621.6,1030.5 621.9,1029.2 622.3,1027.9 C622.7,1026.6 623.0,1025.3 623.4,1024.0 C623.8,1022.8 624.1,1021.5 624.5,1020.2 C624.8,1018.9 625.2,1017.6 625.6,1016.3 C625.9,1015.1 626.3,1013.8 626.6,1012.5 C627.0,1011.2 627.3,1009.9 627.7,1008.6 C628.0,1007.3 628.4,1006.1 628.7,1004.8 C629.1,1003.5 629.4,1002.2 629.8,1000.9 C630.1,999.6 630.5,998.3 630.8,997.0 C631.2,995.8 631.5,994.5 631.8,993.2 C632.2,991.9 632.5,990.6 632.9,989.3 C633.2,988.0 633.5,986.7 633.9,985.4 C634.2,984.1 634.5,982.9 634.9,981.6 C635.2,980.3 635.5,979.0 635.8,977.7 C636.1,976.4 636.5,975.1 636.8,973.8 C637.1,972.5 637.4,971.2 637.7,969.9 C638.0,968.6 638.3,967.3 638.5,966.0 C638.8,964.7 639.1,963.4 639.4,962.1 C639.7,960.8 639.9,959.5 640.2,958.2 C640.5,956.9 640.8,955.6 641.1,954.3 C641.3,953.0 641.6,951.7 641.9,950.3 C642.2,949.0 642.5,947.7 642.8,946.4 C643.0,945.1 643.3,943.8 643.6,942.5 C643.9,941.2 644.3,939.9 644.6,938.7 C644.9,937.4 645.2,936.1 645.6,934.8 C645.9,933.5 646.2,932.2 646.6,930.9 C646.9,929.6 647.3,928.3 647.6,927.1 C648.0,925.8 648.3,924.5 648.7,923.2 C649.0,921.9 649.4,920.6 649.7,919.3 C650.0,918.0 650.3,916.7 650.6,915.4 C650.9,914.1 651.2,912.8 651.5,911.5 C651.8,910.2 652.1,908.9 652.4,907.6 C652.7,906.3 652.9,905.0 653.2,903.7 C653.4,902.4 653.7,901.1 654.0,899.8 C654.2,898.5 654.5,897.2 654.7,895.9 C655.0,894.5 655.2,893.2 655.5,891.9 C655.7,890.6 656.0,889.3 656.2,888.0 C656.5,886.7 656.7,885.4 657.0,884.1 C657.2,882.8 657.5,881.4 657.7,880.1 C658.0,878.8 658.2,877.5 658.5,876.2 C658.7,874.9 659.0,873.6 659.2,872.3 C659.5,871.0 659.8,869.7 660.0,868.4 C660.3,867.1 660.6,865.8 660.8,864.4 C661.1,863.1 661.4,861.8 661.6,860.5 C661.9,859.2 662.2,857.9 662.4,856.6 C662.7,855.3 663.0,854.0 663.2,852.7 C663.5,851.4 663.8,850.1 664.0,848.8 C664.3,847.5 664.6,846.2 664.8,844.8 C665.1,843.5 665.4,842.2 665.6,840.9 C665.9,839.6 666.2,838.3 666.4,837.0 C666.7,835.7 667.0,834.4 667.3,833.1 C667.5,831.8 667.8,830.5 668.1,829.2 C668.3,827.9 668.6,826.6 668.9,825.3 C669.2,824.0 669.5,822.7 669.7,821.4 C670.0,820.1 670.3,818.7 670.6,817.4 C670.9,816.1 671.2,814.8 671.4,813.5 C671.7,812.2 672.0,810.9 672.3,809.6 C672.6,808.3 672.9,807.0 673.2,805.7 C673.5,804.4 673.8,803.1 674.1,801.8 C674.4,800.5 674.7,799.2 675.0,797.9 C675.3,796.6 675.6,795.3 675.8,794.0 C676.1,792.7 676.4,791.4 676.7,790.1 C677.0,788.8 677.3,787.5 677.6,786.2 C677.8,784.9 678.1,783.6 678.4,782.3 C678.7,781.0 679.0,779.7 679.3,778.4 C679.5,777.1 679.8,775.8 680.1,774.5 C680.4,773.2 680.7,771.9 681.0,770.6 C681.3,769.3 681.6,768.0 681.9,766.7 C682.1,765.4 682.5,764.1 682.8,762.8 C683.1,761.5 683.4,760.2 683.7,758.9 C684.0,757.6 684.3,756.3 684.7,755.0 C685.0,753.7 685.4,752.4 685.7,751.2 C686.1,749.9 686.4,748.6 686.8,747.3 C687.1,746.0 687.5,744.7 687.9,743.5 C688.3,742.2 688.7,740.9 689.1,739.6 C689.5,738.4 689.9,737.1 690.4,735.9 C690.8,734.6 691.2,733.3 691.7,732.1 C692.2,730.8 692.6,729.6 693.1,728.3 C693.6,727.1 694.1,725.9 694.6,724.6 C695.0,723.4 695.6,722.1 696.1,720.9 C696.6,719.7 697.1,718.4 697.6,717.2 C698.1,716.0 698.7,714.8 699.2,713.6 C699.7,712.3 700.3,711.1 700.8,709.9 C701.4,708.7 701.9,707.5 702.5,706.3 C703.1,705.1 703.6,703.8 704.2,702.6 C704.8,701.4 705.4,700.2 705.9,699.0 C706.5,697.8 707.1,696.6 707.7,695.5 C708.3,694.3 708.9,693.1 709.5,691.9 C710.1,690.7 710.8,689.5 711.4,688.3 C712.0,687.2 712.6,686.0 713.3,684.8 C713.9,683.6 714.5,682.5 715.2,681.3 C715.8,680.1 716.5,679.0 717.1,677.8 C717.8,676.7 718.5,675.5 719.1,674.4 C719.8,673.2 720.5,672.1 721.2,670.9 C721.9,669.8 722.6,668.7 723.3,667.5 C724.0,666.4 724.7,665.3 725.5,664.2 C726.2,663.1 727.0,662.0 727.8,660.9 C728.5,659.8 729.3,658.7 730.2,657.7 C731.0,656.7 731.8,655.6 732.7,654.6 C733.6,653.6 734.5,652.7 735.4,651.7 C736.4,650.8 737.3,649.8 738.3,648.9 C739.2,648.0 740.2,647.1 741.2,646.2 C742.2,645.3 743.1,644.3 744.1,643.4 C745.0,642.5 746.0,641.5 746.9,640.6 C747.8,639.6 748.7,638.6 749.5,637.6 C750.4,636.6 751.2,635.5 751.9,634.4 C752.7,633.3 753.4,632.2 754.1,631.1 C754.8,630.0 755.5,628.8 756.1,627.6 C756.7,626.4 757.3,625.3 757.9,624.1 C758.5,622.9 759.0,621.6 759.6,620.4 C760.1,619.2 760.6,618.0 761.1,616.8 C761.7,615.5 762.1,614.3 762.6,613.0 C763.1,611.8 763.6,610.5 764.0,609.3 C764.5,608.0 764.9,606.8 765.4,605.5 C765.8,604.3 766.3,603.0 766.7,601.8 C767.2,600.5 767.6,599.2 768.0,598.0 C768.5,596.7 768.9,595.5 769.3,594.2 C769.8,592.9 770.2,591.7 770.6,590.4 C771.1,589.2 771.5,587.9 771.9,586.6 C772.3,585.4 772.8,584.1 773.2,582.8 C773.6,581.6 774.0,580.3 774.4,579.0 C774.8,577.7 775.1,576.5 775.5,575.2 C775.9,573.9 776.3,572.6 776.7,571.3 C777.0,570.1 777.4,568.8 777.8,567.5 C778.1,566.2 778.5,564.9 778.9,563.7 C779.2,562.4 779.6,561.1 780.0,559.8 C780.3,558.5 780.7,557.2 781.1,556.0 C781.4,554.7 781.8,553.4 782.2,552.1 C782.6,550.9 783.0,549.6 783.4,548.3 C783.8,547.0 784.2,545.8 784.6,544.5 C785.0,543.2 785.4,542.0 785.9,540.7 C786.3,539.4 786.8,538.2 787.2,536.9 C787.7,535.7 788.1,534.4 788.6,533.2 C789.1,531.9 789.5,530.7 790.0,529.4 C790.5,528.2 790.9,526.9 791.4,525.7 C791.8,524.4 792.3,523.2 792.8,521.9 C793.2,520.7 793.7,519.4 794.1,518.2 C794.6,516.9 795.0,515.7 795.4,514.4 C795.9,513.1 796.3,511.9 796.8,510.6 C797.2,509.4 797.6,508.1 798.0,506.8 C798.5,505.6 798.9,504.3 799.3,503.0 C799.8,501.8 800.2,500.5 800.6,499.3 C801.0,498.0 801.5,496.7 801.9,495.5 C802.3,494.2 802.7,492.9 803.2,491.7 C803.6,490.4 804.0,489.1 804.5,487.9 C804.9,486.6 805.3,485.4 805.8,484.1 C806.2,482.8 806.6,481.6 807.1,480.3 C807.5,479.1 808.0,477.8 808.4,476.6 C808.9,475.3 809.3,474.1 809.8,472.8 C810.3,471.6 810.7,470.3 811.2,469.1 C811.7,467.8 812.2,466.6 812.7,465.4 C813.3,464.1 813.8,462.9 814.4,461.7 C814.9,460.5 815.5,459.3 816.1,458.1 C816.7,456.9 817.3,455.8 818.0,454.6 C818.6,453.4 819.2,452.2 819.9,451.1 C820.5,449.9 821.2,448.8 821.8,447.6 C822.5,446.4 823.2,445.3 823.8,444.1 C824.5,443.0 825.2,441.8 825.9,440.7 C826.6,439.5 827.3,438.4 828.0,437.3 C828.7,436.2 829.4,435.0 830.2,433.9 C830.9,432.8 831.6,431.7 832.4,430.6 C833.1,429.5 833.9,428.4 834.6,427.3 C835.4,426.2 836.2,425.1 836.9,424.0 C837.7,422.9 838.5,421.9 839.3,420.8 C840.1,419.7 840.9,418.6 841.7,417.6 C842.5,416.5 843.3,415.4 844.1,414.4 C844.9,413.3 845.7,412.3 846.5,411.2 C847.3,410.2 848.1,409.1 849.0,408.1 C849.8,407.0 850.6,406.0 851.5,404.9 C852.3,403.9 853.2,402.9 854.0,401.9 C854.9,400.9 855.8,399.9 856.7,398.9 C857.6,397.9 858.6,397.0 859.5,396.1 C860.5,395.1 861.4,394.2 862.5,393.4 C863.5,392.5 864.5,391.6 865.5,390.9 C866.6,390.1 867.7,389.3 868.8,388.7 C869.9,388.1 871.1,387.5 872.2,387.2 C873.4,386.9 874.6,386.7 875.8,386.8 C877.0,386.9 878.1,387.3 879.3,387.8 C880.4,388.2 881.4,389.0 882.5,389.8 C883.5,390.5 884.5,391.4 885.5,392.3 C886.4,393.2 887.4,394.1 888.4,395.0 C889.4,395.9 890.3,396.8 891.3,397.8 C892.2,398.7 893.2,399.7 894.1,400.6 C895.0,401.6 895.8,402.6 896.6,403.7 C897.5,404.7 898.2,405.8 898.9,406.9 C899.6,408.0 900.3,409.2 900.9,410.3 C901.5,411.5 902.1,412.7 902.6,413.9 C903.1,415.2 903.6,416.4 904.0,417.7 C904.5,418.9 904.9,420.2 905.3,421.5 C905.7,422.7 906.1,424.0 906.4,425.3 C906.8,426.6 907.2,427.8 907.5,429.1 C907.9,430.4 908.2,431.7 908.5,433.0 C908.9,434.3 909.2,435.6 909.6,436.9 C909.9,438.2 910.2,439.5 910.6,440.7 C910.9,442.0 911.3,443.3 911.6,444.6 C912.0,445.9 912.3,447.2 912.7,448.5 C913.0,449.7 913.4,451.0 913.8,452.3 C914.1,453.6 914.5,454.9 914.9,456.1 C915.3,457.4 915.6,458.7 916.0,460.0 C916.4,461.3 916.7,462.6 917.1,463.8 C917.5,465.1 917.8,466.4 918.2,467.7 C918.5,469.0 918.9,470.3 919.3,471.5 C919.6,472.8 920.0,474.1 920.3,475.4 C920.7,476.7 921.1,478.0 921.4,479.2 C921.8,480.5 922.1,481.8 922.5,483.1 C922.8,484.4 923.2,485.7 923.6,487.0 C923.9,488.2 924.3,489.5 924.6,490.8 C925.0,492.1 925.3,493.4 925.7,494.7 C926.0,495.9 926.4,497.2 926.7,498.5 C927.1,499.8 927.5,501.1 927.8,502.4 C928.2,503.7 928.5,504.9 928.9,506.2 C929.2,507.5 929.6,508.8 929.9,510.1 C930.3,511.4 930.7,512.7 931.0,513.9 C931.4,515.2 931.7,516.5 932.1,517.8 C932.5,519.1 932.8,520.4 933.2,521.6 C933.6,522.9 933.9,524.2 934.3,525.5 C934.7,526.8 935.1,528.0 935.4,529.3 C935.8,530.6 936.2,531.9 936.6,533.2 C936.9,534.4 937.3,535.7 937.7,537.0 C938.0,538.3 938.4,539.6 938.7,540.9 C939.1,542.1 939.4,543.4 939.7,544.7 C940.1,546.0 940.4,547.3 940.7,548.6 C941.0,549.9 941.3,551.2 941.5,552.5 C941.8,553.8 942.1,555.1 942.4,556.4 C942.6,557.7 942.9,559.0 943.1,560.4 C943.4,561.7 943.6,563.0 943.9,564.3 C944.1,565.6 944.4,566.9 944.6,568.2 C944.9,569.5 945.1,570.8 945.3,572.2 C945.6,573.5 945.8,574.8 946.1,576.1 C946.3,577.4 946.5,578.7 946.8,580.0 C947.0,581.3 947.2,582.6 947.5,584.0 C947.7,585.3 948.0,586.6 948.2,587.9 C948.5,589.2 948.7,590.5 948.9,591.8 C949.2,593.1 949.4,594.4 949.7,595.8 C949.9,597.1 950.2,598.4 950.4,599.7 C950.7,601.0 950.9,602.3 951.1,603.6 C951.4,604.9 951.6,606.2 951.9,607.6 C952.1,608.9 952.3,610.2 952.6,611.5 C952.8,612.8 953.1,614.1 953.3,615.4 C953.6,616.7 953.8,618.0 954.0,619.4 C954.3,620.7 954.5,622.0 954.8,623.3 C955.0,624.6 955.2,625.9 955.5,627.2 C955.7,628.5 956.0,629.9 956.2,631.2 C956.4,632.5 956.7,633.8 956.9,635.1 C957.2,636.4 957.4,637.7 957.7,639.0 C957.9,640.3 958.1,641.7 958.4,643.0 C958.6,644.3 958.9,645.6 959.1,646.9 C959.4,648.2 959.6,649.5 959.9,650.8 C960.1,652.1 960.4,653.4 960.6,654.8 C960.9,656.1 961.1,657.4 961.4,658.7 C961.6,660.0 961.8,661.3 962.1,662.6 C962.3,663.9 962.6,665.2 962.8,666.5 C963.1,667.9 963.3,669.2 963.6,670.5 C963.8,671.8 964.1,673.1 964.3,674.4 C964.6,675.7 964.8,677.0 965.1,678.3 C965.3,679.6 965.6,681.0 965.8,682.3 C966.1,683.6 966.3,684.9 966.6,686.2 C966.8,687.5 967.0,688.8 967.3,690.1 C967.5,691.4 967.8,692.8 968.0,694.1 C968.3,695.4 968.5,696.7 968.8,698.0 C969.0,699.3 969.3,700.6 969.5,701.9 C969.8,703.2 970.1,704.5 970.3,705.8 C970.6,707.2 970.8,708.5 971.1,709.8 C971.3,711.1 971.6,712.4 971.9,713.7 C972.1,715.0 972.4,716.3 972.7,717.6 C972.9,718.9 973.2,720.2 973.5,721.5 C973.8,722.8 974.1,724.1 974.4,725.4 C974.7,726.7 975.0,728.0 975.3,729.3 C975.7,730.6 976.1,731.9 976.4,733.2 C976.8,734.4 977.2,735.7 977.6,737.0 C978.0,738.3 978.3,739.5 978.7,740.8 C979.1,742.1 979.5,743.4 979.8,744.7 C980.2,745.9 980.6,747.2 980.9,748.5 C981.3,749.8 981.6,751.1 982.0,752.3 C982.4,753.6 982.8,754.9 983.2,756.2 C983.5,757.5 983.9,758.7 984.4,760.0 C984.8,761.2 985.2,762.5 985.7,763.7 C986.2,765.0 986.7,766.2 987.3,767.4 C987.8,768.6 988.4,769.8 989.1,771.0 C989.7,772.1 990.4,773.3 991.1,774.3 C991.9,775.4 992.7,776.5 993.6,777.4 C994.5,778.4 995.4,779.3 996.4,780.1 C997.4,780.9 998.5,781.6 999.7,782.1 C1000.8,782.6 1002.0,783.0 1003.3,783.3 C1004.5,783.5 1005.8,783.6 1007.1,783.6 C1008.4,783.6 1009.7,783.4 1011.0,783.3 C1012.4,783.1 1013.7,782.9 1015.0,782.8 C1016.3,782.6 1017.6,782.5 1018.9,782.4 C1020.2,782.4 1021.6,782.4 1022.8,782.6 C1024.1,782.7 1025.4,783.0 1026.7,783.4 C1027.9,783.7 1029.2,784.2 1030.4,784.7 C1031.6,785.3 1032.7,785.9 1033.9,786.6 C1035.0,787.2 1036.1,788.0 1037.1,788.8 C1038.2,789.6 1039.2,790.4 1040.2,791.3 C1041.2,792.2 1042.1,793.2 1043.0,794.2 C1043.8,795.2 1044.7,796.2 1045.5,797.2 C1046.3,798.3 1047.0,799.4 1047.8,800.5 C1048.5,801.6 1049.1,802.8 1049.8,803.9 C1050.4,805.1 1051.1,806.3 1051.7,807.5 C1052.3,808.6 1052.9,809.8 1053.5,811.0 C1054.1,812.2 1054.7,813.4 1055.3,814.6 C1056.0,815.7 1056.7,816.9 1057.3,818.0 C1058.0,819.2 1058.7,820.3 1059.4,821.4 C1060.1,822.6 1060.8,823.7 1061.5,824.8 C1062.3,826.0 1063.0,827.1 1063.7,828.2 C1064.4,829.3 1065.1,830.5 1065.8,831.6 C1066.5,832.7 1067.2,833.9 1067.9,835.0 C1068.5,836.2 1069.2,837.3 1069.8,838.5 C1070.4,839.7 1071.1,840.9 1071.7,842.1 C1072.3,843.2 1072.8,844.4 1073.4,845.7 C1074.0,846.9 1074.5,848.1 1075.0,849.3 C1075.6,850.5 1076.1,851.7 1076.6,853.0 C1077.1,854.2 1077.6,855.4 1078.1,856.7 C1078.6,857.9 1079.1,859.2 1079.6,860.4 C1080.0,861.7 1080.5,862.9 1081.0,864.2 C1081.4,865.4 1081.9,866.7 1082.3,867.9 C1082.8,869.2 1083.2,870.4 1083.6,871.7 C1084.0,873.0 1084.5,874.2 1084.9,875.5 C1085.3,876.8 1085.6,878.1 1086.0,879.3 C1086.4,880.6 1086.8,881.9 1087.1,883.2 C1087.5,884.5 1087.9,885.7 1088.2,887.0 C1088.6,888.3 1089.0,889.6 1089.3,890.9 C1089.7,892.2 1090.1,893.4 1090.4,894.7 C1090.8,896.0 1091.2,897.3 1091.5,898.6 C1091.9,899.8 1092.3,901.1 1092.7,902.4 C1093.0,903.7 1093.4,905.0 1093.8,906.2 C1094.1,907.5 1094.5,908.8 1094.8,910.1 C1095.2,911.4 1095.5,912.7 1095.9,914.0 C1096.2,915.2 1096.6,916.5 1096.9,917.8 C1097.2,919.1 1097.5,920.4 1097.8,921.7 C1098.1,923.0 1098.4,924.3 1098.6,925.6 C1098.9,926.9 1099.2,928.2 1099.4,929.5 C1099.7,930.9 1100.0,932.2 1100.2,933.5 C1100.5,934.8 1100.8,936.1 1101.1,937.4 C1101.3,938.7 1101.6,940.0 1101.9,941.3 C1102.2,942.6 1102.5,943.9 1102.8,945.2 C1103.1,946.5 1103.4,947.8 1103.7,949.1 C1104.1,950.4 1104.4,951.7 1104.7,953.0 C1105.0,954.3 1105.3,955.6 1105.6,956.9 C1106.0,958.1 1106.3,959.4 1106.6,960.7 C1106.9,962.0 1107.2,963.3 1107.6,964.6 C1107.9,965.9 1108.2,967.2 1108.5,968.5 C1108.8,969.8 1109.1,971.1 1109.4,972.4 C1109.8,973.7 1110.1,975.0 1110.4,976.3 C1110.7,977.6 1111.0,978.9 1111.3,980.2 C1111.6,981.5 1111.9,982.8 1112.1,984.1 C1112.4,985.4 1112.7,986.7 1113.0,988.0 C1113.2,989.3 1113.5,990.6 1113.7,991.9 C1114.0,993.2 1114.2,994.5 1114.5,995.9 C1114.7,997.2 1115.0,998.5 1115.2,999.8 C1115.4,1001.1 1115.7,1002.4 1115.9,1003.7 C1116.2,1005.0 1116.4,1006.3 1116.7,1007.7 C1116.9,1009.0 1117.2,1010.3 1117.4,1011.6 C1117.7,1012.9 1118.0,1014.2 1118.2,1015.5 C1118.5,1016.8 1118.8,1018.1 1119.1,1019.4 C1119.3,1020.7 1119.6,1022.0 1119.9,1023.3 C1120.2,1024.6 1120.4,1025.9 1120.7,1027.2 C1121.0,1028.5 1121.3,1029.8 1121.5,1031.2 C1121.8,1032.5 1122.1,1033.8 1122.4,1035.1 C1122.7,1036.4 1123.0,1037.7 1123.3,1039.0 C1123.6,1040.3 1123.8,1041.6 1124.1,1042.9 C1124.4,1044.2 1124.7,1045.5 1125.0,1046.8 C1125.3,1048.1 1125.7,1049.4 1126.0,1050.7 C1126.3,1052.0 1126.6,1053.3 1126.9,1054.5 C1127.2,1055.8 1127.5,1057.1 1127.9,1058.4 C1128.2,1059.7 1128.5,1061.0 1128.9,1062.3 C1129.2,1063.6 1129.5,1064.9 1129.9,1066.2 C1130.2,1067.5 1130.5,1068.8 1130.9,1070.0 C1131.2,1071.3 1131.5,1072.6 1131.9,1073.9 C1132.2,1075.2 1132.5,1076.5 1132.9,1077.8 C1133.2,1079.1 1133.6,1080.4 1133.9,1081.6 C1134.3,1082.9 1134.7,1084.2 1135.1,1085.5 C1135.5,1086.8 1135.9,1088.0 1136.3,1089.3 C1136.7,1090.5 1137.2,1091.8 1137.7,1093.0 C1138.1,1094.3 1138.6,1095.5 1139.2,1096.7 C1139.8,1097.9 1140.3,1099.1 1141.0,1100.3 C1141.6,1101.4 1142.3,1102.6 1143.0,1103.7 C1143.8,1104.8 1144.5,1105.9 1145.3,1106.9 C1146.1,1108.0 1147.0,1109.1 1147.8,1110.1 C1148.6,1111.2 1149.4,1112.2 1150.2,1113.3 C1151.0,1114.4 1151.7,1115.4 1152.5,1116.5 C1153.2,1117.6 1153.9,1118.8 1154.7,1119.9 C1155.4,1121.0 1156.0,1122.2 1156.7,1123.3 C1157.4,1124.5 1158.0,1125.6 1158.7,1126.8 C1159.3,1128.0 1160.0,1129.1 1160.7,1130.3 C1161.3,1131.4 1162.0,1132.6 1162.6,1133.8 C1163.3,1134.9 1164.0,1136.1 1164.7,1137.2 C1165.4,1138.4 1166.1,1139.5 1166.8,1140.6 C1167.5,1141.8 1168.2,1142.9 1168.9,1144.0 C1169.6,1145.1 1170.3,1146.3 1171.0,1147.4 C1171.8,1148.5 1172.5,1149.6 1173.3,1150.7 C1174.0,1151.8 1174.8,1152.9 1175.6,1154.0 C1176.4,1155.0 1177.2,1156.1 1178.0,1157.1 C1178.8,1158.2 1179.7,1159.2 1180.6,1160.2 C1181.4,1161.2 1182.3,1162.2 1183.3,1163.1 C1184.2,1164.1 1185.2,1165.0 1186.1,1165.9 C1187.1,1166.8 1188.1,1167.7 1189.2,1168.5 C1190.2,1169.3 1191.3,1170.1 1192.4,1170.8 C1193.5,1171.5 1194.7,1172.2 1195.8,1172.8 C1197.0,1173.4 1198.2,1173.9 1199.5,1174.4 C1200.7,1174.9 1201.9,1175.3 1203.2,1175.7 C1204.5,1176.1 1205.8,1176.4 1207.1,1176.7 C1208.4,1176.9 1209.7,1177.2 1211.0,1177.3 C1212.3,1177.5 1213.6,1177.6 1215.0,1177.6 C1216.3,1177.7 1217.6,1177.7 1218.9,1177.7 C1220.3,1177.7 1221.6,1177.6 1222.9,1177.6 C1224.3,1177.6 1225.6,1177.6 1226.9,1177.6 C1228.2,1177.7 1229.6,1177.7 1230.9,1177.9 C1232.2,1178.0 1233.5,1178.2 1234.8,1178.4 C1236.1,1178.7 1237.4,1179.0 1238.7,1179.3 C1240.0,1179.6 1241.3,1179.9 1242.6,1180.3 C1243.9,1180.6 1245.2,1181.0 1246.5,1181.3 C1247.7,1181.7 1249.0,1182.1 1250.3,1182.5 C1251.6,1182.8 1252.8,1183.2 1254.1,1183.6 C1255.4,1184.0 1256.7,1184.4 1257.9,1184.8 C1259.2,1185.2 1260.5,1185.6 1261.7,1186.0 C1263.0,1186.4 1264.3,1186.8 1265.6,1187.1 C1266.9,1187.5 1268.2,1187.8 1269.5,1188.1 C1270.8,1188.4 1272.1,1188.6 1273.4,1188.8 C1274.7,1189.0 1276.0,1189.1 1277.3,1189.3 C1278.7,1189.4 1280.0,1189.5 1281.3,1189.5 C1282.7,1189.6 1284.0,1189.7 1285.3,1189.7 C1286.7,1189.8 1288.0,1189.8 1289.3,1189.9 C1290.6,1190.0 1292.0,1190.1 1293.3,1190.2 C1294.6,1190.4 1295.9,1190.5 1297.3,1190.7 C1298.6,1191.0 1299.9,1191.2 1301.2,1191.5 C1302.5,1191.8 1303.7,1192.2 1305.0,1192.6 C1306.3,1192.9 1307.5,1193.4 1308.8,1193.8 C1310.0,1194.3 1311.3,1194.8 1312.5,1195.3 C1313.8,1195.8 1315.0,1196.3 1316.2,1196.8 C1317.4,1197.4 1318.6,1197.9 1319.8,1198.5 C1321.0,1199.0 1322.3,1199.6 1323.5,1200.2 C1324.7,1200.8 1325.8,1201.4 1327.0,1202.0 C1328.2,1202.6 1329.4,1203.2 1330.6,1203.9 C1331.7,1204.5 1332.9,1205.2 1334.0,1205.8 C1335.2,1206.5 1336.3,1207.2 1337.4,1207.9 C1338.5,1208.7 1339.7,1209.4 1340.7,1210.2 C1341.8,1210.9 1342.9,1211.7 1344.0,1212.5 C1345.0,1213.4 1346.0,1214.2 1347.1,1215.0 C1348.1,1215.9 1349.1,1216.8 1350.1,1217.7 C1351.1,1218.6 1352.0,1219.5 1353.0,1220.4 C1353.9,1221.3 1354.9,1222.3 1355.8,1223.3 C1356.7,1224.2 1357.6,1225.2 1358.5,1226.2 C1359.3,1227.2 1360.2,1228.3 1361.0,1229.3 C1361.9,1230.3 1362.7,1231.4 1363.5,1232.4 C1364.3,1233.5 1365.1,1234.6 1365.9,1235.6 C1366.7,1236.7 1367.5,1237.8 1368.3,1238.8 C1369.1,1239.9 1369.9,1241.0 1370.7,1242.0 C1371.5,1243.1 1372.3,1244.1 1373.2,1245.2 C1374.0,1246.2 1374.8,1247.3 1375.6,1248.4 C1376.4,1249.4 1377.2,1250.5 1378.1,1251.5 C1378.9,1252.6 1379.7,1253.6 1380.5,1254.6 C1381.4,1255.7 1382.2,1256.7 1383.1,1257.7 C1383.9,1258.8 1384.8,1259.8 1385.7,1260.8 C1386.5,1261.8 1387.4,1262.8 1388.3,1263.8 C1389.2,1264.7 1390.2,1265.7 1391.1,1266.7 C1392.0,1267.6 1392.9,1268.6 1393.9,1269.5 C1394.8,1270.5 1395.8,1271.4 1396.7,1272.3 C1397.7,1273.3 1398.6,1274.2 1399.6,1275.1 C1400.5,1276.1 1401.5,1277.0 1402.5,1277.9 C1403.4,1278.8 1404.4,1279.8 1405.3,1280.7 C1406.3,1281.6 1407.2,1282.6 1408.2,1283.5 C1409.2,1284.4 1410.1,1285.3 1411.1,1286.3 C1412.0,1287.2 1413.0,1288.1 1413.9,1289.0 C1414.9,1290.0 1415.8,1290.9 1416.7,1291.9 C1417.7,1292.9 1418.6,1293.8 1419.5,1294.8 C1420.3,1295.8 1421.2,1296.9 1422.0,1297.9 C1422.9,1298.9 1423.7,1300.0 1424.5,1301.0 C1425.3,1302.1 1426.1,1303.2 1426.9,1304.3 C1427.6,1305.3 1428.4,1306.4 1429.1,1307.5 C1429.9,1308.6 1430.6,1309.8 1431.4,1310.9 C1432.1,1312.0 1432.8,1313.1 1433.6,1314.2 C1434.3,1315.3 1435.0,1316.4 1435.8,1317.5 C1436.5,1318.7 1437.2,1319.8 1438.0,1320.9 C1438.7,1322.0 1439.4,1323.1 1440.1,1324.2 C1440.9,1325.4 1441.6,1326.5 1442.3,1327.6 C1443.0,1328.7 1443.7,1329.9 1444.4,1331.0 C1445.1,1332.1 1445.8,1333.3 1446.5,1334.4 C1447.2,1335.5 1447.9,1336.7 1448.6,1337.8 C1449.3,1339.0 1450.0,1340.1 1450.7,1341.3 C1451.3,1342.4 1452.0,1343.6 1452.7,1344.7 C1453.3,1345.9 1454.0,1347.0 1454.6,1348.2 C1455.3,1349.3 1456.0,1350.5 1456.6,1351.7 C1457.3,1352.8 1458.0,1353.9 1458.7,1355.1 C1459.4,1356.2 1460.1,1357.4 1460.8,1358.5 C1461.5,1359.6 1462.2,1360.7 1463.0,1361.9 C1463.7,1363.0 1464.4,1364.1 1465.2,1365.2 C1465.9,1366.3 1466.6,1367.4 1467.4,1368.5 C1468.2,1369.6 1468.9,1370.7 1469.7,1371.8 C1470.5,1372.9 1471.2,1374.0 1472.0,1375.0 C1472.8,1376.1 1473.6,1377.2 1474.4,1378.3 C1475.2,1379.3 1476.0,1380.4 1476.8,1381.5 C1477.6,1382.5 1478.4,1383.6 1479.3,1384.6 C1480.1,1385.6 1481.0,1386.7 1481.8,1387.7 C1482.7,1388.7 1483.6,1389.7 1484.5,1390.7 C1485.4,1391.6 1486.3,1392.6 1487.2,1393.5 C1488.2,1394.5 1489.1,1395.4 1490.1,1396.3 C1491.1,1397.2 1492.1,1398.0 1493.2,1398.8 C1494.3,1399.6 1495.4,1400.3 1496.5,1401.0 C1497.6,1401.7 1498.8,1402.4 1500.0,1403.0 C1501.1,1403.6 1502.3,1404.3 1503.5,1404.9 C1504.7,1405.5 1505.9,1406.1 1507.1,1406.6 C1508.3,1407.2 1509.5,1407.7 1510.7,1408.2 C1512.0,1408.7 1513.2,1409.1 1514.5,1409.5 C1515.8,1409.9 1517.0,1410.2 1518.3,1410.4 C1519.6,1410.6 1520.9,1410.8 1522.2,1410.8 C1523.5,1410.9 1524.9,1410.8 1526.2,1410.6 C1527.5,1410.5 1528.8,1410.2 1530.0,1410.0 C1531.3,1409.7 1532.6,1409.3 1533.9,1408.9 C1535.2,1408.6 1536.4,1408.2 1537.7,1407.8 C1539.0,1407.3 1540.2,1406.9 1541.5,1406.5 C1542.8,1406.0 1544.0,1405.6 1545.3,1405.2 C1546.5,1404.8 1547.8,1404.4 1549.1,1404.0 C1550.4,1403.7 1551.7,1403.4 1553.0,1403.1 C1554.3,1402.9 1555.6,1402.7 1556.9,1402.5 C1558.2,1402.4 1559.6,1402.3 1560.9,1402.2 C1562.2,1402.2 1563.5,1402.2 1564.9,1402.2 C1566.2,1402.2 1567.5,1402.3 1568.8,1402.5 C1570.2,1402.6 1571.5,1402.8 1572.8,1403.0 C1574.1,1403.2 1575.4,1403.5 1576.7,1403.7 C1578.0,1404.0 1579.3,1404.3 1580.6,1404.7 C1581.9,1405.0 1583.2,1405.4 1584.4,1405.8 C1585.7,1406.1 1587.0,1406.5 1588.3,1407.0 C1589.5,1407.4 1590.8,1407.8 1592.1,1408.2 C1593.3,1408.6 1594.6,1409.1 1595.9,1409.5 C1597.1,1409.9 1598.4,1410.3 1599.7,1410.6 C1600.9,1411.0 1602.2,1411.4 1603.5,1411.7 C1604.8,1412.1 1606.1,1412.4 1607.4,1412.8 C1608.7,1413.1 1610.0,1413.4 1611.3,1413.8 C1612.5,1414.1 1613.8,1414.4 1615.1,1414.8 C1616.4,1415.1 1617.7,1415.4 1619.0,1415.7 C1620.3,1416.1 1621.6,1416.4 1622.9,1416.7 C1624.2,1417.1 1625.4,1417.5 1626.7,1417.9 C1628.0,1418.3 1629.2,1418.8 1630.4,1419.3 C1631.7,1419.8 1632.9,1420.3 1634.1,1420.9 C1635.3,1421.5 1636.4,1422.1 1637.6,1422.7 C1638.8,1423.4 1640.0,1424.0 1641.1,1424.7 C1642.3,1425.3 1643.4,1426.0 1644.6,1426.7 C1645.7,1427.4 1646.9,1428.0 1648.0,1428.7 C1649.2,1429.4 1650.3,1430.1 1651.4,1430.8 C1652.6,1431.5 1653.7,1432.2 1654.8,1432.9 C1656.0,1433.6 1657.1,1434.2 1658.3,1434.9 C1659.5,1435.5 1660.7,1436.1 1661.9,1436.7 C1663.0,1437.3 1664.2,1437.9 1665.5,1438.4 C1666.7,1439.0 1667.9,1439.5 1669.1,1440.0 C1670.4,1440.5 1671.6,1440.9 1672.9,1441.3 C1674.2,1441.7 1675.5,1442.0 1676.8,1442.3 C1678.1,1442.5 1679.4,1442.7 1680.7,1442.9 C1682.0,1443.0 1683.3,1443.1 1684.7,1443.2 C1686.0,1443.3 1687.3,1443.4 1688.6,1443.4 C1690.0,1443.5 1691.3,1443.5 1692.6,1443.6 C1694.0,1443.6 1695.3,1443.7 1696.6,1443.7 C1698.0,1443.8 1699.3,1443.9 1700.6,1443.9 C1702.0,1444.0 1703.3,1444.1 1704.6,1444.2 C1706.0,1444.3 1707.3,1444.4 1708.6,1444.5 C1709.9,1444.6 1711.3,1444.7 1712.6,1444.9 C1713.9,1445.0 1715.2,1445.2 1716.6,1445.3 C1717.9,1445.5 1719.2,1445.6 1720.5,1445.8 C1721.9,1445.9 1723.2,1446.1 1724.5,1446.2 C1725.8,1446.3 1727.2,1446.4 1728.5,1446.5 C1729.8,1446.5 1731.2,1446.6 1732.5,1446.6 C1733.8,1446.6 1735.1,1446.5 1736.5,1446.5 C1737.8,1446.4 1739.1,1446.2 1740.4,1446.1 C1741.8,1445.9 1743.1,1445.7 1744.4,1445.5 C1745.7,1445.3 1747.0,1445.0 1748.3,1444.8 C1749.6,1444.6 1751.0,1444.4 1752.3,1444.2 C1753.6,1444.0 1754.9,1443.8 1756.2,1443.7 C1757.6,1443.5 1758.9,1443.4 1760.2,1443.3 C1761.5,1443.3 1762.9,1443.2 1764.2,1443.3 C1765.5,1443.3 1766.8,1443.4 1768.1,1443.6 C1769.4,1443.8 1770.8,1444.0 1772.1,1444.3 C1773.3,1444.6 1774.6,1444.9 1775.9,1445.3 C1777.2,1445.6 1778.5,1446.0 1779.7,1446.4 C1781.0,1446.9 1782.2,1447.3 1783.5,1447.8 C1784.7,1448.3 1785.9,1448.9 1787.1,1449.4 C1788.3,1450.0 1789.5,1450.6 1790.7,1451.2 C1791.9,1451.8 1793.0,1452.5 1794.2,1453.1 C1795.4,1453.7 1796.6,1454.4 1797.7,1455.0 C1798.9,1455.6 1800.1,1456.2 1801.3,1456.8 C1802.5,1457.4 1803.7,1458.0 1804.9,1458.5 C1806.1,1459.1 1807.4,1459.6 1808.6,1460.1 C1809.8,1460.6 1811.0,1461.1 1812.3,1461.6 C1813.5,1462.1 1814.8,1462.6 1816.0,1463.1 C1817.2,1463.6 1818.5,1464.0 1819.8,1464.5 C1821.0,1464.9 1822.3,1465.3 1823.5,1465.8 C1824.8,1466.2 1826.1,1466.6 1827.4,1467.0 C1828.6,1467.3 1829.9,1467.7 1831.2,1468.0 C1832.5,1468.4 1833.8,1468.7 1835.1,1469.1 C1836.4,1469.4 1837.7,1469.7 1839.0,1470.0 C1840.3,1470.2 1841.6,1470.5 1842.9,1470.8 C1844.2,1471.0 1845.5,1471.3 1846.8,1471.5 C1848.1,1471.7 1849.4,1471.9 1850.8,1472.1 C1852.1,1472.3 1853.4,1472.4 1854.7,1472.6 C1856.1,1472.7 1857.4,1472.9 1858.7,1473.0 C1860.0,1473.1 1861.4,1473.2 1862.7,1473.2 C1864.0,1473.3 1865.4,1473.3 1866.7,1473.3 C1868.0,1473.3 1869.4,1473.3 1870.7,1473.3 C1872.0,1473.2 1873.3,1473.1 1874.7,1473.0 C1876.0,1472.9 1877.3,1472.8 1878.6,1472.6 C1880.0,1472.5 1881.3,1472.3 1882.6,1472.1 C1883.9,1472.0 1885.3,1471.8 1886.6,1471.7 C1887.9,1471.5 1889.2,1471.4 1890.6,1471.3 C1891.9,1471.1 1893.2,1471.0 1894.5,1470.9 C1895.9,1470.8 1897.2,1470.7 1898.5,1470.6 C1899.9,1470.5 1901.2,1470.4 1902.5,1470.3 C1903.9,1470.2 1905.2,1470.2 1906.5,1470.1 C1907.8,1470.1 1909.2,1470.1 1910.5,1470.1 C1911.8,1470.1 1913.2,1470.2 1914.5,1470.3 C1915.8,1470.4 1917.2,1470.5 1918.5,1470.6 C1919.8,1470.8 1921.1,1470.9 1922.4,1471.1 C1923.8,1471.3 1925.1,1471.5 1926.4,1471.6 C1927.7,1471.8 1929.0,1471.9 1930.4,1472.1 C1931.7,1472.2 1933.0,1472.3 1934.4,1472.4 C1935.7,1472.5 1937.0,1472.5 1938.3,1472.6 C1939.7,1472.7 1941.0,1472.8 1942.3,1472.9 C1943.6,1473.0 1945.0,1473.2 1946.3,1473.4 C1947.6,1473.6 1948.9,1473.9 1950.2,1474.2 C1951.5,1474.5 1952.7,1474.9 1954.0,1475.3 C1955.3,1475.7 1956.5,1476.1 1957.8,1476.6 C1959.0,1477.0 1960.3,1477.5 1961.5,1478.0 C1962.8,1478.4 1964.0,1478.9 1965.3,1479.4 C1966.5,1479.9 1967.7,1480.4 1969.0,1480.9 C1970.2,1481.4 1971.4,1481.9 1972.7,1482.4 C1973.9,1482.9 1975.1,1483.5 1976.4,1483.9 C1977.6,1484.4 1978.9,1484.9 1980.1,1485.3 C1981.4,1485.7 1982.7,1486.1 1984.0,1486.4 C1985.2,1486.8 1986.5,1487.1 1987.8,1487.4 C1989.1,1487.7 1990.4,1487.9 1991.8,1488.2 C1993.1,1488.4 1994.4,1488.6 1995.7,1488.8 C1997.0,1489.0 1998.3,1489.2 1999.7,1489.4 C2001.0,1489.6 2002.3,1489.7 2003.6,1489.9 C2005.0,1490.0 2006.3,1490.1 2007.6,1490.2 C2008.9,1490.3 2010.3,1490.4 2011.6,1490.5 C2012.9,1490.6 2014.3,1490.7 2015.6,1490.8 C2016.9,1490.9 2018.3,1491.0 2019.6,1491.0 C2020.9,1491.1 2022.2,1491.2 2023.6,1491.2 C2024.9,1491.3 2026.2,1491.4 2027.6,1491.4 C2028.9,1491.5 2030.2,1491.6 2031.6,1491.6 C2032.9,1491.7 2034.2,1491.7 2035.6,1491.8 C2036.9,1491.8 2038.2,1491.9 2039.6,1492.0 C2040.9,1492.0 2042.2,1492.1 2043.5,1492.2 C2044.9,1492.3 2046.2,1492.4 2047.5,1492.5 C2048.9,1492.7 2050.2,1492.8 2051.5,1492.9 C2052.8,1493.1 2054.2,1493.2 2055.5,1493.4 C2056.8,1493.5 2058.1,1493.7 2059.5,1493.9 C2060.8,1494.1 2062.1,1494.2 2063.4,1494.5 C2064.7,1494.7 2066.0,1494.9 2067.4,1495.1 C2068.7,1495.4 2070.0,1495.6 2071.3,1495.9 C2072.6,1496.2 2073.9,1496.5 2075.2,1496.8 C2076.5,1497.1 2077.8,1497.4 2079.1,1497.8 C2080.3,1498.1 2081.6,1498.4 2082.9,1498.8 C2084.2,1499.1 2085.5,1499.5 2086.8,1499.8 C2088.1,1500.1 2089.4,1500.5 2090.7,1500.8 C2092.0,1501.2 2093.2,1501.5 2094.5,1501.8 C2095.8,1502.1 2097.1,1502.5 2098.4,1502.8 C2099.7,1503.1 2101.0,1503.4 2102.3,1503.8 C2103.6,1504.1 2104.9,1504.4 2106.2,1504.7 C2107.5,1505.0 2108.8,1505.3 2110.1,1505.6 C2111.4,1505.9 2112.7,1506.1 2114.0,1506.4 C2115.3,1506.7 2116.6,1506.9 2117.9,1507.2 C2119.2,1507.4 2120.5,1507.7 2121.8,1508.0 C2123.2,1508.2 2124.5,1508.5 2125.8,1508.7 C2127.1,1509.0 2128.4,1509.3 2129.7,1509.5 C2131.0,1509.8 2132.3,1510.1 2133.6,1510.4 C2134.9,1510.6 2136.2,1510.9 2137.5,1511.2 C2138.8,1511.5 2140.1,1511.8 2141.4,1512.0 C2142.7,1512.3 2144.0,1512.5 2145.4,1512.7 C2146.7,1513.0 2148.0,1513.2 2149.3,1513.4 C2150.6,1513.6 2152.0,1513.7 2153.3,1513.9 C2154.6,1514.0 2155.9,1514.2 2157.3,1514.3 C2158.6,1514.4 2159.9,1514.5 2161.2,1514.6 C2162.6,1514.7 2163.9,1514.7 2165.2,1514.7 C2166.6,1514.8 2167.9,1514.8 2169.2,1514.8 C2170.6,1514.8 2171.9,1514.7 2173.2,1514.6 C2174.5,1514.6 2175.9,1514.5 2177.2,1514.3 C2178.5,1514.2 2179.8,1514.0 2181.2,1513.8 C2182.5,1513.6 2183.8,1513.4 2185.1,1513.2 C2186.4,1513.0 2187.7,1512.8 2189.1,1512.5 C2190.4,1512.3 2191.7,1512.1 2193.0,1511.9 C2194.3,1511.7 2195.6,1511.5 2197.0,1511.3 C2198.3,1511.1 2199.6,1510.9 2200.9,1510.7 C2202.2,1510.6 2203.6,1510.4 2204.9,1510.3 C2206.2,1510.2 2207.5,1510.0 2208.9,1509.9 C2210.2,1509.9 2211.5,1509.8 2212.9,1509.8 C2214.2,1509.7 2215.5,1509.8 2216.8,1509.8 C2218.2,1509.8 2219.5,1509.9 2220.8,1510.0 C2222.2,1510.1 2223.5,1510.2 2224.8,1510.4 C2226.1,1510.6 2227.4,1510.8 2228.7,1511.0 C2230.1,1511.3 2231.4,1511.6 2232.6,1511.9 C2233.9,1512.2 2235.2,1512.5 2236.5,1512.9 C2237.8,1513.3 2239.0,1513.7 2240.3,1514.2 C2241.6,1514.6 2242.8,1515.1 2244.1,1515.5 C2245.3,1516.0 2246.5,1516.5 2247.8,1517.0 C2249.0,1517.5 2250.2,1518.0 2251.5,1518.5 C2252.7,1519.0 2253.9,1519.6 2255.1,1520.1 C2256.3,1520.7 2257.6,1521.2 2258.8,1521.8 C2260.0,1522.4 2261.1,1523.0 2262.3,1523.6 C2263.5,1524.2 2264.7,1524.9 2265.8,1525.5 C2267.0,1526.2 2268.1,1526.9 2269.3,1527.6 C2270.4,1528.3 2271.5,1529.0 2272.6,1529.7 C2273.7,1530.5 2274.8,1531.2 2275.9,1532.0 C2277.0,1532.7 2278.1,1533.5 2279.2,1534.2 C2280.3,1535.0 2281.4,1535.8 2282.5,1536.5 C2283.6,1537.3 2284.7,1538.0 2285.8,1538.8 C2286.9,1539.6 2288.0,1540.3 2289.1,1541.1 C2290.2,1541.8 2291.3,1542.6 2292.4,1543.3 C2293.5,1544.1 2294.6,1544.8 2295.7,1545.5 C2296.9,1546.2 2298.0,1547.0 2299.1,1547.6 C2300.3,1548.3 2301.4,1549.0 2302.5,1549.7 C2303.7,1550.4 2305.1,1551.3 2306.0,1551.8 C2306.8,1552.3 2307.4,1552.6 2307.7,1552.8" stroke="#ff00ff"/>
<path d="M306.0,1566.8 C306.7,1566.7 308.6,1566.3 309.9,1566.1 C311.2,1565.8 312.6,1565.6 313.9,1565.3 C315.2,1565.0 316.5,1564.7 317.7,1564.4 C319.0,1564.1 320.3,1563.7 321.6,1563.3 C322.9,1562.9 324.1,1562.5 325.4,1562.0 C326.6,1561.5 327.8,1561.0 329.0,1560.4 C330.2,1559.9 331.4,1559.3 332.6,1558.6 C333.7,1558.0 334.8,1557.3 335.9,1556.5 C337.0,1555.8 338.1,1555.0 339.2,1554.2 C340.3,1553.5 341.4,1552.7 342.4,1551.9 C343.5,1551.1 344.5,1550.3 345.5,1549.4 C346.6,1548.6 347.6,1547.7 348.5,1546.8 C349.5,1545.9 350.5,1545.0 351.4,1544.1 C352.4,1543.2 353.4,1542.2 354.4,1541.4 C355.4,1540.5 356.4,1539.6 357.4,1538.8 C358.4,1537.9 359.4,1537.1 360.4,1536.2 C361.3,1535.2 362.2,1534.3 363.1,1533.3 C364.0,1532.3 364.8,1531.3 365.6,1530.2 C366.4,1529.2 367.1,1528.1 368.0,1527.1 C368.8,1526.0 369.6,1525.0 370.5,1524.0 C371.4,1523.0 372.3,1522.0 373.2,1521.1 C374.1,1520.1 375.0,1519.1 375.9,1518.1 C376.8,1517.2 377.7,1516.2 378.6,1515.1 C379.4,1514.1 380.2,1513.1 381.0,1512.0 C381.8,1511.0 382.6,1509.9 383.4,1508.8 C384.2,1507.7 384.9,1506.6 385.7,1505.5 C386.4,1504.4 387.1,1503.3 387.8,1502.1 C388.5,1501.0 389.2,1499.9 389.9,1498.7 C390.6,1497.6 391.3,1496.4 391.9,1495.3 C392.6,1494.1 393.2,1492.9 393.9,1491.8 C394.5,1490.6 395.1,1489.4 395.7,1488.2 C396.3,1487.0 396.9,1485.8 397.5,1484.6 C398.0,1483.4 398.6,1482.2 399.1,1481.0 C399.7,1479.8 400.2,1478.6 400.7,1477.3 C401.3,1476.1 401.8,1474.9 402.3,1473.6 C402.8,1472.4 403.3,1471.2 403.8,1469.9 C404.3,1468.7 404.8,1467.4 405.2,1466.2 C405.7,1465.0 406.2,1463.7 406.6,1462.5 C407.1,1461.2 407.6,1460.0 408.0,1458.7 C408.5,1457.5 409.0,1456.2 409.4,1455.0 C409.9,1453.7 410.4,1452.5 410.8,1451.2 C411.3,1450.0 411.8,1448.7 412.3,1447.5 C412.7,1446.2 413.2,1445.0 413.7,1443.7 C414.1,1442.5 414.6,1441.2 415.1,1440.0 C415.5,1438.7 416.0,1437.5 416.4,1436.2 C416.9,1435.0 417.3,1433.7 417.8,1432.4 C418.2,1431.2 418.7,1429.9 419.1,1428.7 C419.5,1427.4 420.0,1426.1 420.4,1424.9 C420.8,1423.6 421.2,1422.4 421.7,1421.1 C422.1,1419.8 422.5,1418.6 422.9,1417.3 C423.3,1416.0 423.8,1414.8 424.2,1413.5 C424.6,1412.2 425.0,1411.0 425.4,1409.7 C425.8,1408.4 426.2,1407.1 426.6,1405.9 C427.0,1404.6 427.4,1403.3 427.8,1402.1 C428.2,1400.8 428.6,1399.5 429.0,1398.2 C429.4,1397.0 429.8,1395.7 430.1,1394.4 C430.5,1393.1 430.9,1391.8 431.3,1390.6 C431.6,1389.3 432.0,1388.0 432.4,1386.7 C432.7,1385.4 433.1,1384.2 433.5,1382.9 C433.8,1381.6 434.1,1380.3 434.5,1379.0 C434.8,1377.7 435.2,1376.4 435.5,1375.1 C435.8,1373.8 436.1,1372.5 436.5,1371.3 C436.8,1370.0 437.1,1368.7 437.5,1367.4 C437.8,1366.1 438.1,1364.8 438.5,1363.5 C438.8,1362.2 439.2,1360.9 439.5,1359.6 C439.9,1358.4 440.2,1357.1 440.6,1355.8 C441.0,1354.5 441.3,1353.2 441.7,1351.9 C442.1,1350.7 442.5,1349.4 442.8,1348.1 C443.2,1346.8 443.6,1345.5 444.0,1344.3 C444.3,1343.0 444.7,1341.7 445.1,1340.4 C445.5,1339.2 445.9,1337.9 446.2,1336.6 C446.6,1335.3 447.0,1334.0 447.4,1332.8 C447.8,1331.5 448.1,1330.2 448.5,1328.9 C448.9,1327.6 449.3,1326.4 449.7,1325.1 C450.0,1323.8 450.4,1322.5 450.8,1321.3 C451.2,1320.0 451.6,1318.7 452.0,1317.4 C452.3,1316.1 452.7,1314.9 453.1,1313.6 C453.5,1312.3 453.9,1311.0 454.2,1309.8 C454.6,1308.5 455.0,1307.2 455.4,1305.9 C455.7,1304.6 456.1,1303.4 456.5,1302.1 C456.9,1300.8 457.2,1299.5 457.6,1298.2 C457.9,1296.9 458.3,1295.7 458.7,1294.4 C459.0,1293.1 459.4,1291.8 459.7,1290.5 C460.1,1289.2 460.4,1287.9 460.8,1286.7 C461.1,1285.4 461.5,1284.1 461.8,1282.8 C462.2,1281.5 462.5,1280.2 462.9,1278.9 C463.2,1277.6 463.6,1276.4 463.9,1275.1 C464.3,1273.8 464.6,1272.5 465.0,1271.2 C465.3,1269.9 465.7,1268.6 466.0,1267.4 C466.4,1266.1 466.7,1264.8 467.0,1263.5 C467.4,1262.2 467.7,1260.9 468.1,1259.6 C468.4,1258.3 468.8,1257.0 469.1,1255.8 C469.5,1254.5 469.8,1253.2 470.2,1251.9 C470.5,1250.6 470.9,1249.3 471.2,1248.0 C471.6,1246.8 471.9,1245.5 472.3,1244.2 C472.7,1242.9 473.1,1241.6 473.4,1240.3 C473.8,1239.1 474.2,1237.8 474.6,1236.5 C475.0,1235.2 475.4,1234.0 475.8,1232.7 C476.2,1231.4 476.6,1230.2 477.0,1228.9 C477.4,1227.6 477.8,1226.3 478.2,1225.1 C478.6,1223.8 479.0,1222.5 479.5,1221.3 C479.9,1220.0 480.3,1218.7 480.7,1217.5 C481.1,1216.2 481.6,1214.9 482.0,1213.7 C482.4,1212.4 482.8,1211.1 483.2,1209.9 C483.6,1208.6 484.1,1207.3 484.5,1206.1 C484.9,1204.8 485.3,1203.5 485.7,1202.3 C486.1,1201.0 486.6,1199.7 487.0,1198.5 C487.4,1197.2 487.8,1195.9 488.2,1194.7 C488.7,1193.4 489.1,1192.2 489.5,1190.9 C490.0,1189.6 490.4,1188.4 490.9,1187.1 C491.3,1185.9 491.8,1184.6 492.2,1183.4 C492.7,1182.1 493.2,1180.9 493.7,1179.6 C494.2,1178.4 494.6,1177.1 495.1,1175.9 C495.6,1174.7 496.1,1173.4 496.6,1172.2 C497.1,1171.0 497.7,1169.7 498.2,1168.5 C498.7,1167.3 499.2,1166.0 499.8,1164.8 C500.3,1163.6 500.8,1162.4 501.4,1161.2 C502.0,1160.0 502.6,1158.8 503.2,1157.6 C503.8,1156.4 504.4,1155.2 505.0,1154.1 C505.7,1152.9 506.3,1151.7 507.0,1150.6 C507.7,1149.4 508.4,1148.3 509.1,1147.2 C509.8,1146.1 510.6,1145.0 511.3,1143.9 C512.1,1142.8 512.9,1141.7 513.7,1140.6 C514.4,1139.5 515.2,1138.5 516.1,1137.4 C516.9,1136.4 517.7,1135.3 518.5,1134.3 C519.3,1133.2 520.2,1132.2 521.0,1131.1 C521.9,1130.1 522.7,1129.1 523.5,1128.0 C524.4,1127.0 525.2,1126.0 526.1,1125.0 C526.9,1123.9 527.8,1122.9 528.7,1121.9 C529.5,1120.9 530.4,1119.8 531.2,1118.8 C532.1,1117.8 533.0,1116.8 533.9,1115.8 C534.8,1114.8 535.6,1113.8 536.5,1112.8 C537.4,1111.8 538.3,1110.8 539.1,1109.8 C540.0,1108.8 540.9,1107.8 541.7,1106.7 C542.5,1105.7 543.4,1104.6 544.2,1103.6 C545.0,1102.5 545.8,1101.5 546.6,1100.4 C547.4,1099.4 548.2,1098.3 549.0,1097.2 C549.8,1096.1 550.5,1095.0 551.3,1093.9 C552.0,1092.8 552.8,1091.7 553.5,1090.6 C554.2,1089.5 555.0,1088.4 555.7,1087.2 C556.4,1086.1 557.1,1085.0 557.7,1083.8 C558.4,1082.7 559.1,1081.5 559.8,1080.4 C560.4,1079.2 561.1,1078.0 561.7,1076.9 C562.4,1075.7 563.0,1074.5 563.7,1073.4 C564.3,1072.2 564.9,1071.0 565.6,1069.8 C566.2,1068.7 566.8,1067.5 567.4,1066.3 C568.0,1065.1 568.7,1063.9 569.3,1062.8 C569.9,1061.6 570.5,1060.4 571.1,1059.2 C571.7,1058.0 572.3,1056.8 572.9,1055.6 C573.5,1054.4 574.0,1053.2 574.6,1052.0 C575.2,1050.8 575.8,1049.6 576.4,1048.4 C576.9,1047.2 577.5,1046.0 578.1,1044.8 C578.6,1043.6 579.2,1042.4 579.8,1041.2 C580.3,1040.0 580.9,1038.8 581.4,1037.5 C582.0,1036.3 582.6,1035.1 583.1,1033.9 C583.7,1032.7 584.2,1031.5 584.8,1030.3 C585.3,1029.1 585.9,1027.8 586.4,1026.6 C587.0,1025.4 587.5,1024.2 588.1,1023.0 C588.6,1021.8 589.2,1020.6 589.7,1019.3 C590.3,1018.1 590.9,1016.9 591.4,1015.7 C592.0,1014.5 592.5,1013.3 593.1,1012.1 C593.6,1010.9 594.2,1009.6 594.7,1008.4 C595.3,1007.2 595.9,1006.0 596.4,1004.8 C597.0,1003.6 597.5,1002.4 598.1,1001.2 C598.6,999.9 599.2,998.7 599.7,997.5 C600.2,996.3 600.8,995.1 601.3,993.8 C601.8,992.6 602.3,991.4 602.8,990.1 C603.3,988.9 603.8,987.7 604.3,986.4 C604.8,985.2 605.3,983.9 605.8,982.7 C606.3,981.5 606.8,980.2 607.3,979.0 C607.7,977.7 608.2,976.5 608.7,975.3 C609.2,974.0 609.7,972.8 610.2,971.5 C610.6,970.3 611.1,969.0 611.6,967.8 C612.0,966.5 612.5,965.3 613.0,964.0 C613.4,962.8 613.9,961.5 614.4,960.3 C614.8,959.0 615.3,957.8 615.7,956.5 C616.2,955.3 616.6,954.0 617.1,952.8 C617.5,951.5 617.9,950.2 618.4,949.0 C618.8,947.7 619.2,946.4 619.7,945.2 C620.1,943.9 620.5,942.7 620.9,941.4 C621.3,940.1 621.7,938.8 622.1,937.6 C622.5,936.3 622.9,935.0 623.3,933.8 C623.7,932.5 624.1,931.2 624.5,929.9 C624.9,928.6 625.2,927.4 625.6,926.1 C626.0,924.8 626.3,923.5 626.7,922.2 C627.1,921.0 627.4,919.7 627.8,918.4 C628.2,917.1 628.5,915.8 628.9,914.5 C629.2,913.2 629.6,912.0 629.9,910.7 C630.3,909.4 630.6,908.1 630.9,906.8 C631.3,905.5 631.6,904.2 632.0,902.9 C632.3,901.6 632.6,900.4 633.0,899.1 C633.3,897.8 633.6,896.5 634.0,895.2 C634.3,893.9 634.6,892.6 635.0,891.3 C635.3,890.0 635.6,888.7 635.9,887.4 C636.3,886.1 636.6,884.9 636.9,883.6 C637.2,882.3 637.6,881.0 637.9,879.7 C638.2,878.4 638.5,877.1 638.9,875.8 C639.2,874.5 639.5,873.2 639.8,871.9 C640.1,870.6 640.5,869.3 640.8,868.0 C641.1,866.7 641.4,865.4 641.7,864.1 C642.0,862.8 642.3,861.5 642.6,860.2 C642.9,858.9 643.2,857.6 643.5,856.3 C643.8,855.0 644.1,853.7 644.4,852.4 C644.7,851.1 645.0,849.8 645.2,848.5 C645.5,847.2 645.8,845.9 646.1,844.6 C646.4,843.3 646.7,842.0 647.0,840.7 C647.2,839.4 647.5,838.1 647.8,836.8 C648.1,835.5 648.4,834.2 648.7,832.9 C649.0,831.6 649.3,830.3 649.6,829.0 C649.9,827.7 650.2,826.4 650.6,825.1 C650.9,823.8 651.2,822.5 651.5,821.2 C651.9,819.9 652.2,818.7 652.5,817.4 C652.9,816.1 653.2,814.8 653.5,813.5 C653.9,812.2 654.2,810.9 654.5,809.6 C654.8,808.3 655.2,807.0 655.5,805.7 C655.8,804.4 656.1,803.1 656.4,801.8 C656.7,800.5 657.0,799.2 657.3,797.9 C657.6,796.6 657.9,795.3 658.2,794.0 C658.4,792.7 658.7,791.4 659.0,790.1 C659.2,788.8 659.5,787.5 659.8,786.2 C660.0,784.9 660.3,783.6 660.5,782.3 C660.8,781.0 661.1,779.7 661.3,778.3 C661.6,777.0 661.9,775.7 662.1,774.4 C662.4,773.1 662.7,771.8 663.0,770.5 C663.2,769.2 663.5,767.9 663.8,766.6 C664.1,765.3 664.4,764.0 664.7,762.7 C665.0,761.4 665.3,760.1 665.7,758.8 C666.0,757.5 666.3,756.2 666.6,754.9 C667.0,753.6 667.3,752.4 667.6,751.1 C668.0,749.8 668.3,748.5 668.7,747.2 C669.0,745.9 669.4,744.6 669.7,743.3 C670.1,742.0 670.4,740.8 670.8,739.5 C671.1,738.2 671.4,736.9 671.8,735.6 C672.1,734.3 672.5,733.0 672.8,731.7 C673.2,730.5 673.5,729.2 673.8,727.9 C674.2,726.6 674.5,725.3 674.8,724.0 C675.2,722.7 675.5,721.4 675.8,720.1 C676.2,718.8 676.5,717.5 676.9,716.3 C677.2,715.0 677.6,713.7 677.9,712.4 C678.3,711.1 678.6,709.8 679.0,708.5 C679.4,707.3 679.7,706.0 680.1,704.7 C680.5,703.4 680.8,702.1 681.2,700.9 C681.6,699.6 681.9,698.3 682.3,697.0 C682.7,695.7 683.1,694.5 683.4,693.2 C683.8,691.9 684.2,690.6 684.6,689.3 C685.0,688.1 685.4,686.8 685.7,685.5 C686.1,684.2 686.5,683.0 686.9,681.7 C687.3,680.4 687.7,679.1 688.1,677.9 C688.5,676.6 688.9,675.3 689.3,674.0 C689.7,672.8 690.1,671.5 690.5,670.2 C691.0,669.0 691.4,667.7 691.8,666.5 C692.3,665.2 692.7,663.9 693.2,662.7 C693.7,661.5 694.1,660.2 694.7,659.0 C695.2,657.8 695.7,656.5 696.3,655.3 C696.8,654.1 697.4,652.9 698.0,651.7 C698.6,650.5 699.2,649.3 699.8,648.1 C700.4,646.9 700.9,645.7 701.5,644.5 C702.1,643.3 702.7,642.2 703.3,641.0 C703.9,639.8 704.5,638.6 705.1,637.4 C705.7,636.2 706.3,635.0 706.8,633.8 C707.4,632.6 708.0,631.4 708.6,630.2 C709.2,629.0 709.8,627.8 710.4,626.6 C711.0,625.4 711.6,624.2 712.2,623.0 C712.8,621.8 713.3,620.6 713.9,619.4 C714.5,618.2 715.1,617.0 715.7,615.8 C716.3,614.6 716.9,613.5 717.5,612.3 C718.1,611.1 718.7,609.9 719.2,608.7 C719.8,607.5 720.4,606.3 721.0,605.1 C721.6,603.9 722.2,602.7 722.8,601.5 C723.4,600.3 724.0,599.1 724.5,597.9 C725.1,596.7 725.7,595.5 726.3,594.3 C726.9,593.1 727.5,591.9 728.1,590.7 C728.6,589.5 729.2,588.3 729.8,587.1 C730.4,585.9 731.0,584.7 731.6,583.5 C732.2,582.3 732.7,581.1 733.3,579.9 C733.9,578.7 734.5,577.5 735.1,576.3 C735.7,575.1 736.3,573.9 736.9,572.7 C737.4,571.5 738.0,570.3 738.6,569.1 C739.2,567.9 739.8,566.8 740.4,565.6 C740.9,564.4 741.5,563.2 742.1,562.0 C742.7,560.8 743.3,559.6 743.9,558.3 C744.4,557.1 745.0,555.9 745.6,554.7 C746.1,553.5 746.7,552.3 747.3,551.1 C747.8,549.9 748.4,548.7 749.0,547.5 C749.5,546.3 750.1,545.1 750.6,543.8 C751.2,542.6 751.7,541.4 752.2,540.2 C752.8,539.0 753.3,537.7 753.8,536.5 C754.3,535.3 754.8,534.0 755.3,532.8 C755.8,531.6 756.3,530.3 756.8,529.1 C757.3,527.9 757.8,526.6 758.2,525.3 C758.7,524.1 759.1,522.8 759.5,521.6 C759.9,520.3 760.3,519.0 760.7,517.7 C761.1,516.5 761.4,515.2 761.7,513.9 C762.1,512.6 762.4,511.3 762.7,510.0 C763.0,508.7 763.3,507.4 763.6,506.1 C764.0,504.8 764.3,503.5 764.6,502.2 C764.9,500.9 765.2,499.6 765.5,498.3 C765.8,497.0 766.2,495.8 766.5,494.5 C766.8,493.2 767.2,491.9 767.5,490.6 C767.9,489.3 768.2,488.0 768.6,486.7 C768.9,485.5 769.3,484.2 769.7,482.9 C770.0,481.6 770.4,480.3 770.8,479.0 C771.1,477.8 771.5,476.5 771.9,475.2 C772.2,473.9 772.6,472.6 773.0,471.3 C773.3,470.1 773.7,468.8 774.0,467.5 C774.4,466.2 774.8,464.9 775.1,463.6 C775.5,462.4 775.8,461.1 776.2,459.8 C776.5,458.5 776.8,457.2 777.2,455.9 C777.5,454.6 777.8,453.3 778.2,452.0 C778.5,450.7 778.8,449.4 779.1,448.1 C779.4,446.8 779.7,445.5 780.0,444.2 C780.3,442.9 780.6,441.6 780.8,440.3 C781.1,439.0 781.4,437.7 781.7,436.4 C781.9,435.1 782.2,433.8 782.5,432.5 C782.7,431.2 783.0,429.9 783.2,428.6 C783.5,427.3 783.8,426.0 784.0,424.6 C784.3,423.3 784.5,422.0 784.8,420.7 C785.1,419.4 785.3,418.1 785.6,416.8 C785.8,415.5 786.1,414.2 786.4,412.9 C786.7,411.6 786.9,410.3 787.2,409.0 C787.5,407.7 787.8,406.4 788.1,405.1 C788.4,403.8 788.7,402.5 789.1,401.2 C789.4,399.9 789.7,398.6 790.1,397.3 C790.5,396.0 790.9,394.8 791.3,393.5 C791.7,392.2 792.1,391.0 792.5,389.7 C792.9,388.4 793.3,387.2 793.7,385.9 C794.1,384.6 794.5,383.3 794.9,382.1 C795.3,380.8 795.6,379.5 796.0,378.2 C796.3,376.9 796.6,375.6 796.9,374.3 C797.2,373.0 797.5,371.7 797.8,370.4 C798.1,369.1 798.3,367.8 798.6,366.5 C798.9,365.2 799.2,363.9 799.5,362.6 C799.8,361.3 800.1,360.0 800.4,358.7 C800.7,357.4 801.1,356.1 801.4,354.8 C801.8,353.6 802.1,352.3 802.5,351.0 C802.8,349.7 803.2,348.4 803.6,347.1 C803.9,345.9 804.3,344.6 804.7,343.3 C805.1,342.0 805.5,340.7 805.9,339.5 C806.2,338.2 806.6,336.9 807.0,335.6 C807.4,334.4 807.8,333.1 808.3,331.8 C808.7,330.6 809.1,329.3 809.5,328.0 C810.0,326.8 810.4,325.5 810.9,324.3 C811.3,323.0 811.8,321.8 812.3,320.6 C812.8,319.3 813.3,318.1 813.9,316.9 C814.4,315.7 815.0,314.5 815.6,313.3 C816.2,312.1 816.9,310.9 817.5,309.8 C818.2,308.6 818.8,307.4 819.5,306.3 C820.2,305.1 820.9,304.0 821.6,302.9 C822.3,301.7 823.0,300.6 823.7,299.5 C824.5,298.4 825.3,297.3 826.1,296.3 C827.0,295.3 827.8,294.3 828.8,293.5 C829.8,292.6 830.8,291.7 831.9,291.0 C832.9,290.3 834.1,289.7 835.3,289.2 C836.5,288.7 837.7,288.3 839.0,288.0 C840.3,287.7 841.6,287.6 842.9,287.4 C844.2,287.3 845.5,287.3 846.8,287.2 C848.2,287.2 849.5,287.2 850.8,287.2 C852.2,287.2 853.5,287.1 854.8,287.1 C856.2,287.1 857.5,287.1 858.8,287.1 C860.2,287.1 861.5,287.1 862.8,287.1 C864.2,287.1 865.5,287.1 866.8,287.1 C868.2,287.1 869.5,287.1 870.8,287.1 C872.2,287.1 873.5,287.1 874.8,287.1 C876.2,287.1 877.5,287.1 878.8,287.1 C880.2,287.2 881.5,287.2 882.8,287.4 C884.1,287.5 885.4,287.8 886.7,288.1 C887.9,288.4 889.2,288.9 890.3,289.4 C891.5,289.9 892.7,290.6 893.8,291.3 C894.9,292.0 896.0,292.8 897.0,293.6 C898.0,294.4 899.0,295.3 899.9,296.3 C900.9,297.2 901.8,298.1 902.8,299.1 C903.7,300.0 904.6,301.0 905.5,302.0 C906.4,303.0 907.3,304.0 908.1,305.0 C909.0,306.0 909.8,307.1 910.5,308.1 C911.3,309.2 912.0,310.4 912.6,311.5 C913.3,312.7 913.9,313.9 914.4,315.1 C915.0,316.3 915.5,317.5 916.0,318.7 C916.5,319.9 917.0,321.2 917.5,322.4 C918.0,323.7 918.4,324.9 918.9,326.2 C919.3,327.4 919.8,328.7 920.2,330.0 C920.6,331.2 921.1,332.5 921.5,333.8 C921.9,335.0 922.3,336.3 922.7,337.6 C923.1,338.8 923.5,340.1 923.9,341.4 C924.3,342.7 924.7,343.9 925.1,345.2 C925.4,346.5 925.8,347.8 926.2,349.0 C926.6,350.3 927.0,351.6 927.3,352.9 C927.7,354.2 928.1,355.4 928.4,356.7 C928.8,358.0 929.2,359.3 929.5,360.6 C929.9,361.9 930.3,363.1 930.6,364.4 C931.0,365.7 931.3,367.0 931.7,368.3 C932.0,369.6 932.4,370.9 932.8,372.1 C933.1,373.4 933.5,374.7 933.8,376.0 C934.2,377.3 934.5,378.6 934.8,379.9 C935.2,381.2 935.5,382.4 935.9,383.7 C936.2,385.0 936.5,386.3 936.9,387.6 C937.2,388.9 937.5,390.2 937.9,391.5 C938.2,392.8 938.5,394.1 938.8,395.4 C939.1,396.7 939.4,398.0 939.7,399.3 C940.0,400.6 940.3,401.9 940.6,403.2 C940.9,404.5 941.2,405.8 941.5,407.1 C941.8,408.4 942.1,409.7 942.4,411.0 C942.7,412.3 942.9,413.6 943.2,414.9 C943.5,416.2 943.8,417.5 944.1,418.8 C944.3,420.1 944.6,421.4 944.9,422.7 C945.1,424.0 945.4,425.3 945.7,426.6 C945.9,427.9 946.2,429.2 946.5,430.6 C946.7,431.9 947.0,433.2 947.3,434.5 C947.5,435.8 947.8,437.1 948.0,438.4 C948.3,439.7 948.5,441.0 948.8,442.3 C949.1,443.6 949.3,444.9 949.6,446.3 C949.8,447.6 950.1,448.9 950.3,450.2 C950.6,451.5 950.8,452.8 951.1,454.1 C951.3,455.4 951.6,456.7 951.8,458.0 C952.0,459.4 952.3,460.7 952.5,462.0 C952.7,463.3 953.0,464.6 953.2,465.9 C953.4,467.2 953.6,468.6 953.9,469.9 C954.1,471.2 954.3,472.5 954.5,473.8 C954.7,475.1 955.0,476.4 955.2,477.8 C955.4,479.1 955.6,480.4 955.8,481.7 C956.0,483.0 956.2,484.3 956.4,485.7 C956.7,487.0 956.9,488.3 957.1,489.6 C957.3,490.9 957.5,492.2 957.7,493.6 C957.9,494.9 958.1,496.2 958.3,497.5 C958.6,498.8 958.8,500.1 959.0,501.5 C959.2,502.8 959.4,504.1 959.6,505.4 C959.8,506.7 960.1,508.0 960.3,509.4 C960.5,510.7 960.7,512.0 960.9,513.3 C961.2,514.6 961.4,515.9 961.6,517.2 C961.9,518.6 962.1,519.9 962.3,521.2 C962.5,522.5 962.8,523.8 963.0,525.1 C963.2,526.4 963.4,527.8 963.7,529.1 C963.9,530.4 964.1,531.7 964.3,533.0 C964.6,534.3 964.8,535.6 965.0,537.0 C965.2,538.3 965.5,539.6 965.7,540.9 C965.9,542.2 966.1,543.5 966.4,544.9 C966.6,546.2 966.8,547.5 967.0,548.8 C967.3,550.1 967.5,551.4 967.7,552.7 C967.9,554.1 968.2,555.4 968.4,556.7 C968.6,558.0 968.9,559.3 969.1,560.6 C969.3,561.9 969.6,563.2 969.8,564.6 C970.1,565.9 970.3,567.2 970.6,568.5 C970.8,569.8 971.1,571.1 971.3,572.4 C971.6,573.7 971.9,575.0 972.1,576.3 C972.4,577.6 972.7,578.9 973.0,580.2 C973.2,581.5 973.5,582.8 973.8,584.1 C974.1,585.4 974.4,586.7 974.8,588.0 C975.1,589.3 975.4,590.6 975.7,591.9 C976.1,593.2 976.4,594.5 976.7,595.8 C977.1,597.1 977.4,598.4 977.8,599.7 C978.1,600.9 978.5,602.2 978.9,603.5 C979.2,604.8 979.6,606.1 980.0,607.3 C980.4,608.6 980.8,609.9 981.2,611.1 C981.7,612.4 982.1,613.7 982.6,614.9 C983.0,616.2 983.5,617.4 984.0,618.6 C984.5,619.9 985.0,621.1 985.5,622.3 C986.1,623.6 986.6,624.8 987.2,626.0 C987.7,627.2 988.3,628.4 988.9,629.6 C989.5,630.8 990.1,632.0 990.7,633.2 C991.3,634.4 991.9,635.5 992.6,636.7 C993.2,637.8 993.9,639.0 994.7,640.0 C995.5,641.0 996.3,642.0 997.2,642.7 C998.1,643.4 999.2,644.0 1000.2,644.2 C1001.2,644.5 1002.3,644.5 1003.4,644.2 C1004.4,643.9 1005.5,643.3 1006.5,642.6 C1007.5,641.9 1008.4,640.9 1009.3,640.0 C1010.3,639.1 1011.1,638.1 1012.0,637.1 C1012.9,636.1 1013.8,635.1 1014.6,634.1 C1015.5,633.0 1016.3,632.0 1017.2,631.0 C1018.0,630.0 1018.9,628.9 1019.7,627.9 C1020.5,626.8 1021.4,625.8 1022.2,624.7 C1023.0,623.7 1023.8,622.7 1024.7,621.6 C1025.6,620.6 1026.4,619.6 1027.3,618.7 C1028.3,617.7 1029.2,616.7 1030.2,615.8 C1031.1,614.9 1032.1,614.1 1033.2,613.2 C1034.2,612.4 1035.3,611.6 1036.4,610.9 C1037.5,610.3 1038.6,609.6 1039.8,609.2 C1041.0,608.8 1042.2,608.5 1043.4,608.4 C1044.7,608.4 1045.9,608.5 1047.1,608.8 C1048.3,609.1 1049.5,609.6 1050.7,610.2 C1051.8,610.7 1052.9,611.5 1054.0,612.2 C1055.0,613.0 1056.1,613.9 1057.0,614.8 C1058.0,615.6 1058.9,616.6 1059.8,617.6 C1060.7,618.5 1061.6,619.6 1062.4,620.6 C1063.2,621.7 1063.9,622.8 1064.6,623.9 C1065.3,625.0 1066.0,626.2 1066.6,627.3 C1067.3,628.5 1067.9,629.7 1068.5,630.9 C1069.0,632.1 1069.6,633.3 1070.1,634.5 C1070.7,635.7 1071.2,637.0 1071.7,638.2 C1072.3,639.4 1072.8,640.6 1073.3,641.9 C1073.8,643.1 1074.4,644.3 1074.9,645.5 C1075.4,646.8 1076.0,648.0 1076.5,649.2 C1077.1,650.4 1077.6,651.6 1078.1,652.8 C1078.7,654.1 1079.2,655.3 1079.7,656.5 C1080.1,657.8 1080.6,659.0 1081.0,660.3 C1081.4,661.6 1081.8,662.8 1082.1,664.1 C1082.5,665.4 1082.8,666.7 1083.1,668.0 C1083.4,669.3 1083.7,670.6 1084.0,671.9 C1084.3,673.2 1084.5,674.5 1084.8,675.8 C1085.1,677.1 1085.3,678.4 1085.6,679.7 C1085.9,681.1 1086.1,682.4 1086.4,683.7 C1086.7,685.0 1087.0,686.3 1087.2,687.6 C1087.5,688.9 1087.8,690.2 1088.1,691.5 C1088.4,692.8 1088.7,694.1 1089.0,695.4 C1089.3,696.7 1089.6,698.0 1090.0,699.3 C1090.3,700.6 1090.6,701.9 1090.9,703.2 C1091.2,704.5 1091.5,705.8 1091.8,707.0 C1092.1,708.3 1092.4,709.6 1092.7,710.9 C1093.0,712.2 1093.3,713.5 1093.6,714.8 C1093.9,716.1 1094.2,717.4 1094.5,718.7 C1094.8,720.0 1095.1,721.3 1095.4,722.7 C1095.6,724.0 1095.9,725.3 1096.2,726.6 C1096.4,727.9 1096.7,729.2 1097.0,730.5 C1097.2,731.8 1097.5,733.1 1097.7,734.4 C1097.9,735.7 1098.2,737.1 1098.4,738.4 C1098.6,739.7 1098.8,741.0 1099.1,742.3 C1099.3,743.6 1099.5,744.9 1099.7,746.3 C1099.9,747.6 1100.1,748.9 1100.3,750.2 C1100.5,751.5 1100.7,752.8 1100.9,754.2 C1101.1,755.5 1101.3,756.8 1101.5,758.1 C1101.7,759.4 1101.9,760.8 1102.1,762.1 C1102.3,763.4 1102.5,764.7 1102.7,766.0 C1102.9,767.4 1103.1,768.7 1103.3,770.0 C1103.5,771.3 1103.7,772.6 1103.9,773.9 C1104.1,775.3 1104.3,776.6 1104.5,777.9 C1104.7,779.2 1105.0,780.5 1105.2,781.8 C1105.4,783.2 1105.6,784.5 1105.8,785.8 C1106.0,787.1 1106.3,788.4 1106.5,789.7 C1106.7,791.1 1107.0,792.4 1107.2,793.7 C1107.5,795.0 1107.7,796.3 1108.0,797.6 C1108.2,798.9 1108.5,800.2 1108.8,801.5 C1109.0,802.8 1109.3,804.1 1109.6,805.4 C1109.9,806.7 1110.2,808.0 1110.5,809.3 C1110.8,810.6 1111.1,811.9 1111.4,813.2 C1111.7,814.5 1112.0,815.8 1112.3,817.1 C1112.6,818.4 1112.9,819.7 1113.2,821.0 C1113.6,822.3 1113.9,823.6 1114.2,824.9 C1114.5,826.2 1114.9,827.5 1115.2,828.8 C1115.5,830.1 1115.9,831.4 1116.2,832.7 C1116.5,833.9 1116.9,835.2 1117.2,836.5 C1117.5,837.8 1117.9,839.1 1118.2,840.4 C1118.5,841.7 1118.9,843.0 1119.2,844.3 C1119.5,845.6 1119.8,846.9 1120.1,848.2 C1120.5,849.5 1120.8,850.8 1121.1,852.0 C1121.4,853.3 1121.7,854.6 1122.0,855.9 C1122.3,857.2 1122.6,858.5 1122.9,859.8 C1123.2,861.1 1123.5,862.4 1123.8,863.7 C1124.1,865.0 1124.5,866.3 1124.8,867.6 C1125.2,868.9 1125.5,870.2 1125.9,871.5 C1126.2,872.8 1126.6,874.0 1127.0,875.3 C1127.3,876.6 1127.7,877.9 1128.1,879.2 C1128.5,880.4 1128.9,881.7 1129.2,883.0 C1129.6,884.3 1130.0,885.5 1130.4,886.8 C1130.8,888.1 1131.2,889.3 1131.6,890.6 C1132.1,891.9 1132.5,893.2 1132.9,894.4 C1133.3,895.7 1133.7,896.9 1134.2,898.2 C1134.6,899.5 1135.0,900.7 1135.5,902.0 C1135.9,903.2 1136.4,904.5 1136.9,905.7 C1137.3,907.0 1137.8,908.2 1138.3,909.5 C1138.8,910.7 1139.3,911.9 1139.8,913.2 C1140.3,914.4 1140.9,915.6 1141.4,916.8 C1142.0,918.1 1142.5,919.3 1143.1,920.5 C1143.7,921.7 1144.2,922.9 1144.8,924.1 C1145.4,925.3 1146.0,926.5 1146.6,927.7 C1147.1,928.9 1147.7,930.1 1148.3,931.3 C1148.9,932.5 1149.5,933.7 1150.0,934.9 C1150.6,936.1 1151.1,937.3 1151.7,938.5 C1152.2,939.8 1152.7,941.0 1153.2,942.2 C1153.7,943.5 1154.2,944.7 1154.7,945.9 C1155.2,947.2 1155.7,948.4 1156.1,949.7 C1156.6,950.9 1157.1,952.2 1157.5,953.4 C1158.0,954.7 1158.5,955.9 1158.9,957.2 C1159.4,958.4 1159.9,959.7 1160.4,960.9 C1160.8,962.2 1161.3,963.4 1161.8,964.6 C1162.3,965.9 1162.7,967.1 1163.2,968.4 C1163.7,969.6 1164.1,970.9 1164.6,972.1 C1165.1,973.4 1165.6,974.6 1166.0,975.9 C1166.5,977.1 1167.0,978.4 1167.4,979.6 C1167.9,980.9 1168.4,982.1 1168.9,983.3 C1169.4,984.6 1169.9,985.8 1170.3,987.1 C1170.8,988.3 1171.3,989.6 1171.8,990.8 C1172.3,992.0 1172.8,993.3 1173.3,994.5 C1173.9,995.7 1174.4,996.9 1174.9,998.2 C1175.4,999.4 1176.0,1000.6 1176.5,1001.8 C1177.1,1003.1 1177.6,1004.3 1178.2,1005.5 C1178.8,1006.7 1179.3,1007.9 1179.9,1009.1 C1180.5,1010.3 1181.1,1011.5 1181.7,1012.6 C1182.3,1013.8 1183.0,1015.0 1183.6,1016.2 C1184.2,1017.4 1184.9,1018.5 1185.5,1019.7 C1186.2,1020.9 1186.8,1022.0 1187.5,1023.2 C1188.1,1024.3 1188.8,1025.5 1189.5,1026.6 C1190.2,1027.8 1190.8,1028.9 1191.5,1030.1 C1192.2,1031.2 1192.9,1032.3 1193.6,1033.5 C1194.3,1034.6 1195.0,1035.7 1195.7,1036.9 C1196.5,1038.0 1197.2,1039.1 1197.9,1040.3 C1198.6,1041.4 1199.3,1042.5 1200.1,1043.6 C1200.8,1044.7 1201.5,1045.8 1202.2,1047.0 C1203.0,1048.1 1203.7,1049.2 1204.5,1050.3 C1205.2,1051.4 1205.9,1052.5 1206.7,1053.6 C1207.4,1054.7 1208.1,1055.9 1208.9,1057.0 C1209.6,1058.1 1210.4,1059.2 1211.1,1060.3 C1211.8,1061.4 1212.6,1062.5 1213.3,1063.6 C1214.1,1064.7 1214.9,1065.8 1215.7,1066.9 C1216.5,1067.9 1217.3,1069.0 1218.1,1070.0 C1218.9,1071.0 1219.8,1072.1 1220.7,1073.0 C1221.6,1074.0 1222.6,1075.0 1223.5,1075.9 C1224.5,1076.8 1225.5,1077.7 1226.5,1078.5 C1227.5,1079.4 1228.6,1080.2 1229.6,1081.0 C1230.7,1081.8 1231.8,1082.6 1232.9,1083.2 C1234.0,1083.9 1235.2,1084.6 1236.4,1085.2 C1237.5,1085.7 1238.8,1086.2 1240.0,1086.5 C1241.2,1086.8 1242.5,1087.1 1243.8,1087.1 C1245.0,1087.1 1246.3,1087.0 1247.6,1086.8 C1248.8,1086.5 1250.0,1086.1 1251.2,1085.6 C1252.4,1085.1 1253.6,1084.4 1254.7,1083.8 C1255.9,1083.1 1257.0,1082.4 1258.1,1081.6 C1259.2,1080.9 1260.2,1080.1 1261.3,1079.3 C1262.3,1078.4 1263.4,1077.6 1264.4,1076.7 C1265.4,1075.9 1266.4,1074.9 1267.3,1074.0 C1268.3,1073.1 1269.2,1072.2 1270.2,1071.2 C1271.1,1070.3 1272.1,1069.4 1273.1,1068.5 C1274.1,1067.6 1275.0,1066.7 1276.1,1065.9 C1277.1,1065.1 1278.2,1064.3 1279.3,1063.6 C1280.4,1062.9 1281.6,1062.3 1282.8,1061.8 C1284.0,1061.2 1285.2,1060.8 1286.5,1060.5 C1287.7,1060.2 1289.0,1060.0 1290.3,1059.9 C1291.6,1059.8 1292.9,1059.9 1294.1,1060.1 C1295.4,1060.3 1296.7,1060.7 1297.9,1061.1 C1299.1,1061.6 1300.3,1062.2 1301.4,1062.8 C1302.6,1063.4 1303.7,1064.2 1304.7,1065.0 C1305.8,1065.7 1306.9,1066.6 1307.9,1067.4 C1308.9,1068.3 1309.9,1069.1 1310.9,1070.0 C1311.9,1070.9 1312.9,1071.8 1313.9,1072.7 C1314.9,1073.5 1315.9,1074.4 1316.9,1075.3 C1317.9,1076.2 1318.9,1077.1 1319.9,1077.9 C1320.9,1078.8 1321.9,1079.7 1322.9,1080.6 C1323.9,1081.5 1324.9,1082.3 1326.0,1083.2 C1327.0,1084.1 1328.0,1085.0 1329.0,1085.8 C1330.0,1086.7 1331.0,1087.5 1332.1,1088.4 C1333.1,1089.2 1334.1,1090.1 1335.2,1090.9 C1336.2,1091.7 1337.3,1092.5 1338.4,1093.3 C1339.4,1094.1 1340.5,1094.9 1341.6,1095.7 C1342.6,1096.5 1343.7,1097.3 1344.7,1098.2 C1345.8,1099.0 1346.8,1099.8 1347.8,1100.7 C1348.8,1101.6 1349.8,1102.4 1350.8,1103.4 C1351.8,1104.3 1352.7,1105.2 1353.7,1106.1 C1354.6,1107.1 1355.5,1108.0 1356.4,1109.0 C1357.3,1110.0 1358.2,1111.0 1359.1,1112.0 C1360.0,1113.0 1360.8,1114.0 1361.7,1115.0 C1362.5,1116.1 1363.4,1117.1 1364.2,1118.1 C1365.0,1119.2 1365.8,1120.3 1366.6,1121.3 C1367.4,1122.4 1368.2,1123.5 1369.0,1124.6 C1369.7,1125.7 1370.5,1126.8 1371.2,1127.9 C1372.0,1129.0 1372.7,1130.1 1373.4,1131.2 C1374.1,1132.3 1374.8,1133.5 1375.6,1134.6 C1376.3,1135.7 1377.0,1136.9 1377.7,1138.0 C1378.4,1139.1 1379.1,1140.3 1379.8,1141.4 C1380.5,1142.5 1381.2,1143.6 1381.9,1144.8 C1382.6,1145.9 1383.3,1147.0 1384.1,1148.1 C1384.8,1149.3 1385.5,1150.4 1386.2,1151.5 C1387.0,1152.6 1387.7,1153.7 1388.5,1154.8 C1389.2,1155.9 1389.9,1157.1 1390.7,1158.2 C1391.4,1159.3 1392.2,1160.4 1392.9,1161.5 C1393.7,1162.6 1394.4,1163.7 1395.1,1164.8 C1395.9,1165.9 1396.6,1167.0 1397.3,1168.1 C1398.1,1169.3 1398.8,1170.4 1399.5,1171.5 C1400.3,1172.6 1401.0,1173.7 1401.7,1174.8 C1402.4,1176.0 1403.2,1177.1 1403.9,1178.2 C1404.6,1179.3 1405.3,1180.5 1406.0,1181.6 C1406.7,1182.7 1407.4,1183.8 1408.1,1185.0 C1408.9,1186.1 1409.6,1187.2 1410.3,1188.4 C1411.0,1189.5 1411.6,1190.7 1412.3,1191.8 C1413.0,1192.9 1413.7,1194.1 1414.4,1195.2 C1415.0,1196.4 1415.7,1197.6 1416.3,1198.7 C1417.0,1199.9 1417.6,1201.0 1418.3,1202.2 C1418.9,1203.4 1419.5,1204.6 1420.2,1205.8 C1420.8,1206.9 1421.4,1208.1 1422.0,1209.3 C1422.6,1210.5 1423.2,1211.7 1423.8,1212.9 C1424.4,1214.1 1424.9,1215.3 1425.5,1216.5 C1426.1,1217.7 1426.7,1218.9 1427.3,1220.1 C1427.9,1221.3 1428.4,1222.5 1429.0,1223.7 C1429.6,1224.9 1430.2,1226.1 1430.7,1227.3 C1431.3,1228.5 1431.9,1229.7 1432.4,1230.9 C1433.0,1232.1 1433.6,1233.3 1434.1,1234.5 C1434.7,1235.8 1435.2,1237.0 1435.8,1238.2 C1436.4,1239.4 1436.9,1240.6 1437.5,1241.8 C1438.0,1243.0 1438.6,1244.2 1439.1,1245.5 C1439.7,1246.7 1440.2,1247.9 1440.8,1249.1 C1441.4,1250.3 1442.0,1251.5 1442.5,1252.7 C1443.1,1253.9 1443.7,1255.1 1444.3,1256.3 C1444.9,1257.5 1445.5,1258.7 1446.1,1259.9 C1446.7,1261.0 1447.3,1262.2 1447.9,1263.4 C1448.5,1264.6 1449.2,1265.8 1449.8,1267.0 C1450.4,1268.1 1451.0,1269.3 1451.7,1270.5 C1452.3,1271.6 1453.0,1272.8 1453.7,1273.9 C1454.4,1275.1 1455.1,1276.2 1455.8,1277.3 C1456.6,1278.4 1457.4,1279.5 1458.2,1280.5 C1459.0,1281.5 1459.9,1282.5 1460.8,1283.5 C1461.7,1284.4 1462.7,1285.3 1463.7,1286.2 C1464.7,1287.0 1465.8,1287.8 1466.9,1288.5 C1468.0,1289.2 1469.2,1289.8 1470.4,1290.3 C1471.6,1290.8 1472.8,1291.2 1474.1,1291.6 C1475.4,1291.9 1476.7,1292.1 1478.0,1292.2 C1479.3,1292.3 1480.6,1292.3 1481.9,1292.3 C1483.2,1292.2 1484.5,1292.0 1485.8,1291.8 C1487.1,1291.6 1488.4,1291.3 1489.7,1290.9 C1490.9,1290.5 1492.2,1290.1 1493.4,1289.6 C1494.7,1289.2 1495.9,1288.7 1497.2,1288.2 C1498.4,1287.7 1499.6,1287.2 1500.9,1286.7 C1502.1,1286.2 1503.4,1285.7 1504.6,1285.3 C1505.9,1284.8 1507.1,1284.4 1508.4,1283.9 C1509.6,1283.5 1510.9,1283.1 1512.2,1282.7 C1513.5,1282.4 1514.8,1282.0 1516.0,1281.7 C1517.3,1281.4 1518.6,1281.1 1520.0,1280.9 C1521.3,1280.7 1522.6,1280.5 1523.9,1280.4 C1525.2,1280.3 1526.5,1280.3 1527.8,1280.3 C1529.2,1280.4 1530.5,1280.5 1531.8,1280.7 C1533.1,1280.9 1534.4,1281.2 1535.6,1281.5 C1536.9,1281.9 1538.1,1282.4 1539.3,1282.9 C1540.5,1283.4 1541.7,1284.0 1542.8,1284.7 C1544.0,1285.4 1545.1,1286.1 1546.1,1286.9 C1547.2,1287.7 1548.3,1288.5 1549.3,1289.3 C1550.4,1290.2 1551.4,1291.0 1552.4,1291.8 C1553.5,1292.6 1554.5,1293.5 1555.6,1294.3 C1556.6,1295.1 1557.7,1295.9 1558.7,1296.8 C1559.7,1297.6 1560.8,1298.5 1561.8,1299.4 C1562.8,1300.2 1563.8,1301.1 1564.8,1302.0 C1565.7,1302.9 1566.7,1303.9 1567.6,1304.8 C1568.6,1305.7 1569.5,1306.7 1570.5,1307.6 C1571.4,1308.6 1572.3,1309.5 1573.3,1310.5 C1574.2,1311.4 1575.1,1312.4 1576.1,1313.3 C1577.0,1314.3 1578.0,1315.2 1578.9,1316.2 C1579.8,1317.1 1580.8,1318.0 1581.7,1319.0 C1582.7,1319.9 1583.6,1320.9 1584.5,1321.8 C1585.5,1322.8 1586.4,1323.8 1587.3,1324.7 C1588.2,1325.7 1589.1,1326.7 1590.0,1327.6 C1590.9,1328.6 1591.8,1329.6 1592.7,1330.6 C1593.6,1331.6 1594.5,1332.6 1595.4,1333.6 C1596.3,1334.6 1597.1,1335.6 1598.0,1336.6 C1598.9,1337.6 1599.7,1338.6 1600.6,1339.7 C1601.4,1340.7 1602.3,1341.7 1603.1,1342.7 C1604.0,1343.8 1604.8,1344.8 1605.7,1345.8 C1606.6,1346.8 1607.4,1347.9 1608.3,1348.9 C1609.2,1349.9 1610.1,1350.8 1611.0,1351.8 C1611.9,1352.8 1612.8,1353.8 1613.7,1354.7 C1614.7,1355.7 1615.6,1356.6 1616.6,1357.5 C1617.5,1358.5 1618.5,1359.4 1619.5,1360.2 C1620.5,1361.1 1621.5,1362.0 1622.5,1362.8 C1623.6,1363.7 1624.6,1364.5 1625.7,1365.3 C1626.8,1366.1 1627.9,1366.8 1629.0,1367.5 C1630.1,1368.2 1631.3,1368.9 1632.5,1369.5 C1633.7,1370.0 1634.9,1370.6 1636.1,1371.1 C1637.3,1371.5 1638.6,1372.0 1639.9,1372.4 C1641.1,1372.7 1642.4,1373.1 1643.7,1373.3 C1645.0,1373.6 1646.3,1373.8 1647.6,1373.9 C1649.0,1374.0 1650.3,1374.0 1651.6,1374.0 C1652.9,1374.0 1654.2,1373.8 1655.5,1373.7 C1656.9,1373.5 1658.2,1373.2 1659.5,1373.0 C1660.8,1372.7 1662.0,1372.3 1663.3,1371.9 C1664.6,1371.6 1665.9,1371.2 1667.1,1370.7 C1668.4,1370.3 1669.6,1369.8 1670.8,1369.3 C1672.1,1368.8 1673.3,1368.3 1674.5,1367.7 C1675.7,1367.1 1676.9,1366.6 1678.1,1366.0 C1679.3,1365.4 1680.5,1364.8 1681.7,1364.2 C1682.9,1363.6 1684.1,1363.0 1685.3,1362.4 C1686.5,1361.8 1687.7,1361.2 1688.8,1360.6 C1690.0,1360.0 1691.2,1359.4 1692.4,1358.8 C1693.6,1358.2 1694.8,1357.6 1696.0,1357.0 C1697.2,1356.4 1698.4,1355.9 1699.6,1355.3 C1700.8,1354.8 1702.1,1354.2 1703.3,1353.7 C1704.5,1353.2 1705.7,1352.7 1706.9,1352.1 C1708.2,1351.6 1709.4,1351.0 1710.6,1350.5 C1711.7,1349.9 1712.9,1349.2 1714.1,1348.6 C1715.2,1347.9 1716.4,1347.2 1717.5,1346.6 C1718.7,1346.0 1719.8,1345.3 1721.0,1344.7 C1722.2,1344.2 1723.5,1343.7 1724.7,1343.3 C1725.9,1342.9 1727.2,1342.6 1728.5,1342.4 C1729.8,1342.2 1731.1,1342.1 1732.4,1342.1 C1733.7,1342.1 1735.0,1342.3 1736.2,1342.6 C1737.5,1342.8 1738.8,1343.3 1740.0,1343.7 C1741.2,1344.2 1742.3,1344.8 1743.5,1345.5 C1744.6,1346.2 1745.7,1346.9 1746.8,1347.7 C1747.8,1348.5 1748.8,1349.4 1749.8,1350.2 C1750.8,1351.1 1751.8,1352.1 1752.7,1353.0 C1753.6,1354.0 1754.5,1354.9 1755.4,1355.9 C1756.3,1356.9 1757.2,1357.9 1758.1,1358.9 C1759.0,1359.9 1759.8,1360.9 1760.7,1361.9 C1761.6,1362.9 1762.4,1364.0 1763.3,1365.0 C1764.1,1366.0 1765.0,1367.1 1765.8,1368.1 C1766.6,1369.1 1767.5,1370.2 1768.3,1371.2 C1769.1,1372.3 1769.9,1373.3 1770.8,1374.4 C1771.6,1375.4 1772.4,1376.5 1773.2,1377.5 C1774.0,1378.6 1774.8,1379.7 1775.7,1380.7 C1776.5,1381.8 1777.3,1382.8 1778.1,1383.9 C1778.9,1384.9 1779.8,1386.0 1780.6,1387.0 C1781.4,1388.1 1782.2,1389.1 1783.1,1390.1 C1783.9,1391.2 1784.8,1392.2 1785.6,1393.2 C1786.5,1394.2 1787.3,1395.3 1788.2,1396.3 C1789.1,1397.3 1789.9,1398.3 1790.8,1399.3 C1791.7,1400.3 1792.5,1401.4 1793.4,1402.4 C1794.3,1403.4 1795.2,1404.4 1796.1,1405.4 C1797.0,1406.3 1797.8,1407.3 1798.7,1408.3 C1799.7,1409.3 1800.6,1410.3 1801.5,1411.2 C1802.4,1412.2 1803.3,1413.2 1804.3,1414.1 C1805.2,1415.1 1806.1,1416.0 1807.1,1416.9 C1808.1,1417.8 1809.0,1418.8 1810.0,1419.6 C1811.1,1420.5 1812.1,1421.3 1813.1,1422.1 C1814.2,1422.9 1815.3,1423.7 1816.4,1424.4 C1817.5,1425.1 1818.7,1425.7 1819.9,1426.3 C1821.1,1426.9 1822.3,1427.4 1823.5,1427.8 C1824.8,1428.3 1826.0,1428.7 1827.3,1429.0 C1828.6,1429.3 1829.9,1429.5 1831.2,1429.7 C1832.5,1429.9 1833.9,1430.0 1835.2,1430.0 C1836.5,1430.1 1837.8,1430.1 1839.2,1430.0 C1840.5,1429.9 1841.8,1429.8 1843.1,1429.7 C1844.4,1429.5 1845.8,1429.3 1847.1,1429.0 C1848.4,1428.7 1849.6,1428.4 1850.9,1428.1 C1852.2,1427.7 1853.5,1427.3 1854.7,1426.9 C1856.0,1426.5 1857.3,1426.1 1858.5,1425.6 C1859.8,1425.1 1861.0,1424.6 1862.2,1424.2 C1863.5,1423.7 1864.7,1423.2 1866.0,1422.7 C1867.2,1422.2 1868.4,1421.7 1869.7,1421.3 C1871.0,1420.8 1872.2,1420.4 1873.5,1420.0 C1874.8,1419.7 1876.1,1419.3 1877.4,1419.0 C1878.6,1418.7 1880.0,1418.5 1881.3,1418.3 C1882.6,1418.1 1883.9,1417.9 1885.2,1417.8 C1886.6,1417.7 1887.9,1417.7 1889.2,1417.6 C1890.5,1417.6 1891.9,1417.6 1893.2,1417.7 C1894.5,1417.8 1895.8,1417.9 1897.2,1418.1 C1898.5,1418.2 1899.8,1418.5 1901.1,1418.7 C1902.4,1418.9 1903.7,1419.2 1905.0,1419.5 C1906.3,1419.8 1907.6,1420.1 1908.9,1420.5 C1910.2,1420.8 1911.5,1421.2 1912.7,1421.6 C1914.0,1421.9 1915.3,1422.3 1916.6,1422.7 C1917.8,1423.1 1919.1,1423.5 1920.4,1423.9 C1921.7,1424.3 1922.9,1424.7 1924.2,1425.1 C1925.5,1425.5 1926.7,1425.9 1928.0,1426.3 C1929.3,1426.7 1930.5,1427.2 1931.8,1427.6 C1933.1,1428.0 1934.4,1428.4 1935.6,1428.8 C1936.9,1429.2 1938.2,1429.6 1939.4,1430.1 C1940.7,1430.5 1941.9,1431.0 1943.2,1431.5 C1944.4,1431.9 1945.6,1432.5 1946.8,1433.0 C1948.0,1433.6 1949.2,1434.2 1950.4,1434.8 C1951.6,1435.4 1952.7,1436.1 1953.9,1436.7 C1955.0,1437.4 1956.2,1438.1 1957.3,1438.8 C1958.4,1439.5 1959.6,1440.2 1960.7,1440.9 C1961.8,1441.6 1963.0,1442.4 1964.1,1443.1 C1965.2,1443.8 1966.4,1444.5 1967.5,1445.2 C1968.6,1445.9 1969.8,1446.6 1970.9,1447.3 C1972.0,1448.0 1973.2,1448.7 1974.3,1449.3 C1975.5,1450.0 1976.6,1450.7 1977.8,1451.4 C1978.9,1452.0 1980.1,1452.7 1981.3,1453.3 C1982.4,1454.0 1983.6,1454.6 1984.8,1455.2 C1986.0,1455.8 1987.2,1456.4 1988.4,1457.0 C1989.6,1457.6 1990.8,1458.2 1992.0,1458.7 C1993.2,1459.3 1994.4,1459.8 1995.6,1460.3 C1996.9,1460.8 1998.1,1461.3 1999.3,1461.8 C2000.6,1462.3 2001.8,1462.7 2003.1,1463.2 C2004.4,1463.6 2005.6,1464.1 2006.9,1464.5 C2008.2,1464.9 2009.4,1465.3 2010.7,1465.7 C2012.0,1466.0 2013.3,1466.4 2014.5,1466.8 C2015.8,1467.1 2017.1,1467.4 2018.4,1467.7 C2019.7,1468.1 2021.0,1468.4 2022.3,1468.6 C2023.6,1468.9 2024.9,1469.2 2026.2,1469.4 C2027.6,1469.6 2028.9,1469.8 2030.2,1470.0 C2031.5,1470.2 2032.8,1470.4 2034.2,1470.6 C2035.5,1470.7 2036.8,1470.9 2038.1,1471.0 C2039.5,1471.1 2040.8,1471.2 2042.1,1471.3 C2043.4,1471.4 2044.8,1471.5 2046.1,1471.5 C2047.4,1471.6 2048.8,1471.6 2050.1,1471.6 C2051.4,1471.6 2052.8,1471.6 2054.1,1471.6 C2055.4,1471.5 2056.8,1471.4 2058.1,1471.3 C2059.4,1471.2 2060.7,1471.0 2062.0,1470.8 C2063.4,1470.6 2064.7,1470.4 2066.0,1470.1 C2067.3,1469.8 2068.6,1469.5 2069.8,1469.2 C2071.1,1468.8 2072.4,1468.5 2073.7,1468.1 C2075.0,1467.8 2076.3,1467.4 2077.6,1467.1 C2078.8,1466.7 2080.1,1466.4 2081.4,1466.1 C2082.7,1465.7 2084.0,1465.4 2085.3,1465.1 C2086.6,1464.8 2087.9,1464.5 2089.2,1464.3 C2090.5,1464.0 2091.8,1463.8 2093.2,1463.6 C2094.5,1463.4 2095.8,1463.2 2097.1,1463.1 C2098.4,1462.9 2099.8,1462.8 2101.1,1462.8 C2102.4,1462.7 2103.8,1462.7 2105.1,1462.7 C2106.4,1462.7 2107.7,1462.7 2109.1,1462.8 C2110.4,1462.8 2111.7,1463.0 2113.0,1463.1 C2114.4,1463.3 2115.7,1463.5 2117.0,1463.7 C2118.3,1464.0 2119.6,1464.3 2120.9,1464.7 C2122.1,1465.0 2123.4,1465.4 2124.7,1465.8 C2126.0,1466.2 2127.2,1466.6 2128.5,1467.1 C2129.7,1467.5 2131.0,1467.9 2132.2,1468.4 C2133.5,1468.9 2134.7,1469.4 2135.9,1469.9 C2137.2,1470.4 2138.4,1471.0 2139.6,1471.5 C2140.8,1472.1 2142.0,1472.7 2143.2,1473.3 C2144.4,1473.9 2145.6,1474.5 2146.7,1475.1 C2147.9,1475.8 2149.1,1476.4 2150.2,1477.0 C2151.4,1477.7 2152.6,1478.3 2153.8,1478.9 C2154.9,1479.6 2156.1,1480.2 2157.3,1480.8 C2158.5,1481.4 2159.7,1482.0 2160.9,1482.6 C2162.1,1483.2 2163.2,1483.8 2164.5,1484.4 C2165.7,1485.0 2166.9,1485.5 2168.1,1486.1 C2169.3,1486.6 2170.5,1487.1 2171.8,1487.5 C2173.0,1488.0 2174.3,1488.4 2175.6,1488.8 C2176.8,1489.2 2178.1,1489.6 2179.4,1489.9 C2180.7,1490.3 2182.0,1490.6 2183.3,1490.9 C2184.6,1491.2 2185.9,1491.4 2187.2,1491.7 C2188.5,1491.9 2189.8,1492.1 2191.2,1492.3 C2192.5,1492.4 2193.8,1492.5 2195.1,1492.6 C2196.5,1492.7 2197.8,1492.8 2199.1,1492.8 C2200.4,1492.8 2201.8,1492.7 2203.1,1492.7 C2204.4,1492.6 2205.8,1492.5 2207.1,1492.4 C2208.4,1492.2 2209.7,1492.1 2211.1,1491.9 C2212.4,1491.7 2213.7,1491.5 2215.0,1491.3 C2216.3,1491.1 2217.6,1490.9 2218.9,1490.6 C2220.2,1490.4 2221.6,1490.1 2222.9,1489.8 C2224.2,1489.5 2225.5,1489.2 2226.8,1488.9 C2228.0,1488.6 2229.3,1488.2 2230.6,1487.9 C2231.9,1487.5 2233.2,1487.2 2234.5,1486.8 C2235.7,1486.4 2237.0,1486.0 2238.3,1485.6 C2239.6,1485.2 2240.8,1484.8 2242.1,1484.4 C2243.4,1484.0 2244.6,1483.6 2245.9,1483.1 C2247.2,1482.7 2248.4,1482.3 2249.7,1481.8 C2250.9,1481.4 2252.2,1480.9 2253.4,1480.4 C2254.7,1480.0 2255.9,1479.5 2257.2,1479.0 C2258.4,1478.5 2259.6,1478.0 2260.9,1477.5 C2262.1,1477.0 2263.3,1476.5 2264.6,1475.9 C2265.8,1475.4 2267.0,1474.9 2268.2,1474.3 C2269.4,1473.7 2270.6,1473.2 2271.8,1472.6 C2273.0,1472.0 2274.2,1471.4 2275.4,1470.8 C2276.6,1470.2 2277.8,1469.6 2279.0,1469.0 C2280.2,1468.4 2281.3,1467.8 2282.5,1467.2 C2283.7,1466.6 2284.9,1466.0 2286.1,1465.4 C2287.3,1464.8 2288.5,1464.2 2289.7,1463.6 C2290.9,1463.0 2292.1,1462.4 2293.3,1461.8 C2294.5,1461.3 2295.7,1460.7 2296.9,1460.1 C2298.1,1459.5 2299.3,1458.9 2300.5,1458.4 C2301.7,1457.8 2302.9,1457.2 2304.1,1456.6 C2305.3,1456.1 2307.1,1455.2 2307.7,1454.9" stroke="#808000"/>
</g>
<g font-family="Liberation Sans, Arial, sans-serif" font-size="71.4" fill="#000">
<text text-anchor="end" transform="translate(253.5,1586.3) scale(0.952,1)">0</text>
<text text-anchor="end" transform="translate(253.5,1207.0) scale(0.952,1)">20</text>
<text text-anchor="end" transform="translate(253.5,827.7) scale(0.952,1)">40</text>
<text text-anchor="end" transform="translate(253.5,448.3) scale(0.952,1)">60</text>
<text text-anchor="end" transform="translate(253.5,69.0) scale(0.952,1)">80</text>
<text text-anchor="middle" transform="translate(306.5,1768) scale(0.952,1)">350</text>
<text text-anchor="middle" transform="translate(592.5,1768) scale(0.952,1)">400</text>
<text text-anchor="middle" transform="translate(878.4,1768) scale(0.952,1)">450</text>
<text text-anchor="middle" transform="translate(1164.4,1768) scale(0.952,1)">500</text>
<text text-anchor="middle" transform="translate(1450.3,1768) scale(0.952,1)">550</text>
<text text-anchor="middle" transform="translate(1736.3,1768) scale(0.952,1)">600</text>
<text text-anchor="middle" transform="translate(2022.2,1768) scale(0.952,1)">650</text>
<text text-anchor="middle" transform="translate(2308.2,1768) scale(0.952,1)">700</text>
</g>
<text font-family="Liberation Sans, Arial, sans-serif" font-size="84.5" transform="translate(1308,1896.5) scale(1,1.045)" text-anchor="middle">Wavelength (nm)</text>
<text font-family="Liberation Sans, Arial, sans-serif" font-size="84.5" transform="translate(83.5,815) rotate(-90) scale(1,1.045)" text-anchor="middle">PL intensity (arb. u.)</text>
<g font-family="Liberation Sans, Arial, sans-serif" font-size="41" fill="#000">
<line x1="1945" y1="84.1" x2="2043.5" y2="84.1" stroke="#000000" stroke-width="6.2"/>
<text transform="translate(2052,98.3) scale(1.01,1)">As-anodized</text>
<line x1="1945" y1="134.7" x2="2043.5" y2="134.7" stroke="#ff0000" stroke-width="6.2"/>
<text transform="translate(2052,148.9) scale(1.065,1)">WO</text>
<text font-size="26" transform="translate(2125,160.9)">3</text>
<text transform="translate(2141,148.9) scale(1.06,1)">_</text>
<text transform="translate(2163,148.9) scale(1.02,1)">200°C</text>
<line x1="1945" y1="194.3" x2="2043.5" y2="194.3" stroke="#00ff00" stroke-width="6.2"/>
<text transform="translate(2052,208.5) scale(1.065,1)">WO</text>
<text font-size="26" transform="translate(2125,220.5)">3</text>
<text transform="translate(2141,208.5) scale(1.06,1)">_</text>
<text transform="translate(2163,208.5) scale(1.02,1)">300°C</text>
<line x1="1945" y1="253.9" x2="2043.5" y2="253.9" stroke="#0000ff" stroke-width="6.2"/>
<text transform="translate(2052,268.1) scale(1.065,1)">WO</text>
<text font-size="26" transform="translate(2125,280.1)">3</text>
<text transform="translate(2141,268.1) scale(1.06,1)">_</text>
<text transform="translate(2163,268.1) scale(1.02,1)">400°C</text>
<line x1="1945" y1="313.5" x2="2043.5" y2="313.5" stroke="#00ffff" stroke-width="6.2"/>
<text transform="translate(2052,327.7) scale(1.065,1)">WO</text>
<text font-size="26" transform="translate(2125,339.7)">3</text>
<text transform="translate(2141,327.7) scale(1.06,1)">_</text>
<text transform="translate(2163,327.7) scale(1.02,1)">500°C</text>
<line x1="1945" y1="373.4" x2="2043.5" y2="373.4" stroke="#ff00ff" stroke-width="6.2"/>
<text transform="translate(2052,387.6) scale(1.065,1)">WO</text>
<text font-size="26" transform="translate(2125,399.6)">3</text>
<text transform="translate(2141,387.6) scale(1.06,1)">_</text>
<text transform="translate(2163,387.6) scale(1.02,1)">600°C</text>
<line x1="1945" y1="433.2" x2="2043.5" y2="433.2" stroke="#808000" stroke-width="6.2"/>
<text transform="translate(2052,447.4) scale(1.065,1)">WO</text>
<text font-size="26" transform="translate(2125,459.4)">3</text>
<text transform="translate(2141,447.4) scale(1.06,1)">_</text>
<text transform="translate(2163,447.4) scale(1.02,1)">700°C</text>
</g>
</svg>
</body></html>
